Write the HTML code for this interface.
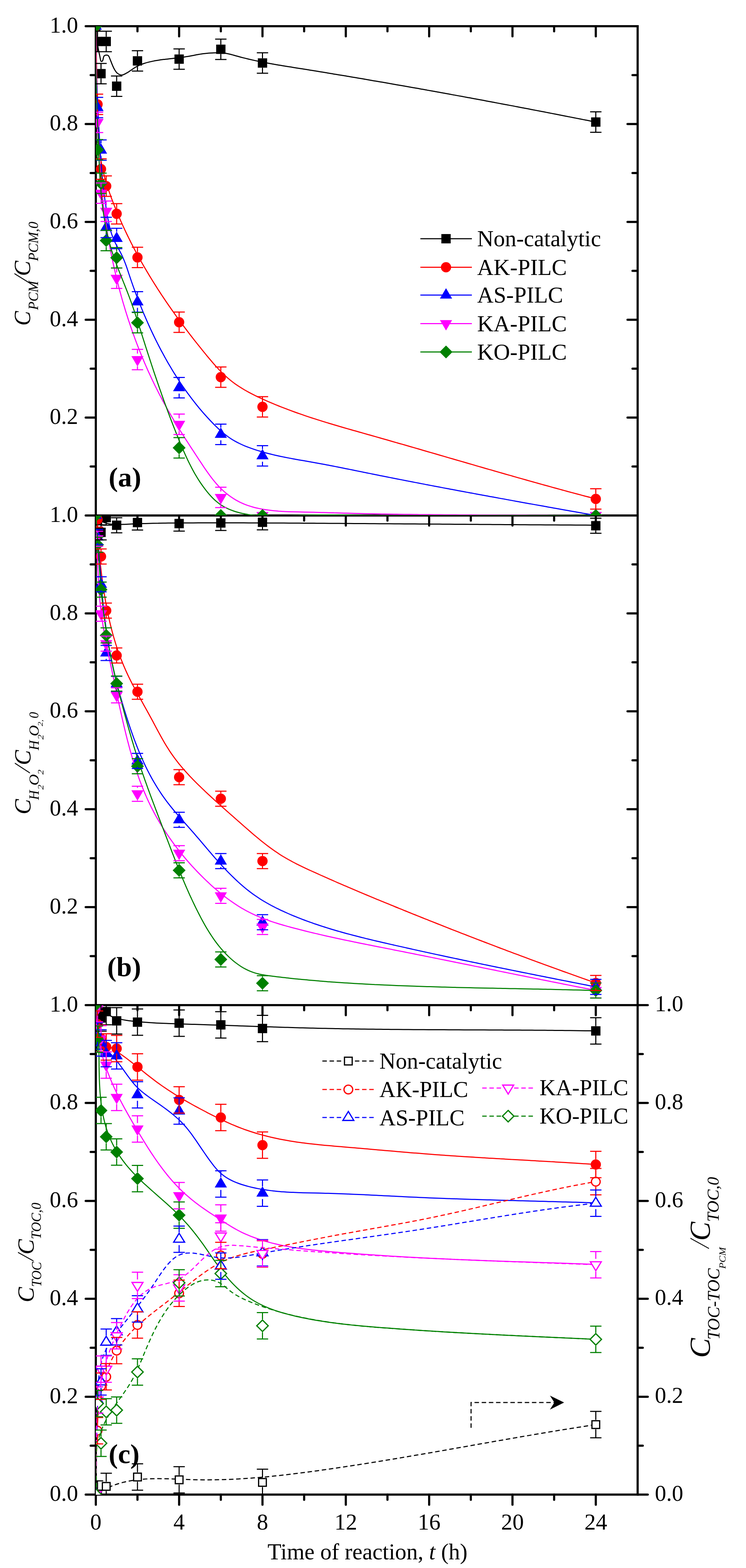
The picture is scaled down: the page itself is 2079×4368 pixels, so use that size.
<!DOCTYPE html>
<html><head><meta charset="utf-8"><title>Figure</title>
<style>html,body{margin:0;padding:0;background:#fff;}svg{display:block;}</style>
</head><body>
<svg width="2079" height="4368" viewBox="0 0 2079 4368">
<rect width="2079" height="4368" fill="#fff"/>
<defs>
<clipPath id="ca"><rect x="267" y="73" width="1510" height="1362.9"/></clipPath>
<clipPath id="cb"><rect x="267" y="1435.9" width="1510" height="1364"/></clipPath>
<clipPath id="cc"><rect x="267" y="2799.9" width="1510" height="1363.7"/></clipPath>
</defs>
<path d="M238.8 1435.9H267M1748.8 1435.9H1777M252.7 1299.6H267M1762.7 1299.6H1777M238.8 1163.3H267M1748.8 1163.3H1777M252.7 1027H267M1762.7 1027H1777M238.8 890.7H267M1748.8 890.7H1777M252.7 754.5H267M1762.7 754.5H1777M238.8 618.2H267M1748.8 618.2H1777M252.7 481.9H267M1762.7 481.9H1777M238.8 345.6H267M1748.8 345.6H1777M252.7 209.3H267M1762.7 209.3H1777M238.8 73H267M1748.8 73H1777M267 73V101.2M383.1 73V87.3M499.2 73V101.2M615.4 73V87.3M731.5 73V101.2M847.6 73V87.3M963.7 73V101.2M1079.8 73V87.3M1196 73V101.2M1312.1 73V87.3M1428.2 73V101.2M1544.3 73V87.3M1660.4 73V101.2M238.8 2799.9H267M1748.8 2799.9H1777M252.7 2663.5H267M1762.7 2663.5H1777M238.8 2527.1H267M1748.8 2527.1H1777M252.7 2390.7H267M1762.7 2390.7H1777M238.8 2254.3H267M1748.8 2254.3H1777M252.7 2117.9H267M1762.7 2117.9H1777M238.8 1981.5H267M1748.8 1981.5H1777M252.7 1845.1H267M1762.7 1845.1H1777M238.8 1708.7H267M1748.8 1708.7H1777M252.7 1572.3H267M1762.7 1572.3H1777M238.8 1435.9H267M1748.8 1435.9H1777M267 1435.9V1464.1M383.1 1435.9V1450.2M499.2 1435.9V1464.1M615.4 1435.9V1450.2M731.5 1435.9V1464.1M847.6 1435.9V1450.2M963.7 1435.9V1464.1M1079.8 1435.9V1450.2M1196 1435.9V1464.1M1312.1 1435.9V1450.2M1428.2 1435.9V1464.1M1544.3 1435.9V1450.2M1660.4 1435.9V1464.1M238.8 4163.6H267M1777 4163.6H1805.2M252.7 4027.2H267M1777 4027.2H1791.3M238.8 3890.9H267M1777 3890.9H1805.2M252.7 3754.5H267M1777 3754.5H1791.3M238.8 3618.1H267M1777 3618.1H1805.2M252.7 3481.8H267M1777 3481.8H1791.3M238.8 3345.4H267M1777 3345.4H1805.2M252.7 3209H267M1777 3209H1791.3M238.8 3072.6H267M1777 3072.6H1805.2M252.7 2936.3H267M1777 2936.3H1791.3M238.8 2799.9H267M1777 2799.9H1805.2M267 2799.9V2828.1M383.1 2799.9V2814.2M499.2 2799.9V2828.1M615.4 2799.9V2814.2M731.5 2799.9V2828.1M847.6 2799.9V2814.2M963.7 2799.9V2828.1M1079.8 2799.9V2814.2M1196 2799.9V2828.1M1312.1 2799.9V2814.2M1428.2 2799.9V2828.1M1544.3 2799.9V2814.2M1660.4 2799.9V2828.1M267 4163.6V4191.8M383.1 4163.6V4177.9M499.2 4163.6V4191.8M615.4 4163.6V4177.9M731.5 4163.6V4191.8M847.6 4163.6V4177.9M963.7 4163.6V4191.8M1079.8 4163.6V4177.9M1196 4163.6V4191.8M1312.1 4163.6V4177.9M1428.2 4163.6V4191.8M1544.3 4163.6V4177.9M1660.4 4163.6V4191.8" stroke="#000" stroke-width="6.0" fill="none" stroke-linecap="round"/>
<path d="M267 73H1777M267 1435.9H1777M267 2799.9H1777M267 4163.6H1777M267 73V4163.6M1777 73V4163.6" stroke="#000" stroke-width="6.0" fill="none" stroke-linecap="square"/>
<g clip-path="url(#ca)">
<path d="M267 73C267.1 75.3 267.4 82.4 267.8 87C268.1 91.7 268.5 96.4 269 101C269.4 105.7 270 110.3 270.6 115C271.2 119.6 271.9 124.3 272.7 128.9C273.5 133.5 274.3 138.1 275.2 142.7C276.1 147.3 277.2 151.9 278.2 156.5C279.2 161 280 168.1 281.3 170.2C282.6 172.2 284.6 171.3 286.1 168.9C287.6 166.5 287.9 158 290.4 155.6C292.9 153.2 298.4 152.7 301.3 154.6C304.2 156.5 305.7 162.9 307.6 167.1C309.5 171.4 310.9 175.9 312.8 180.2C314.6 184.5 316.4 188.9 318.8 192.9C321.1 196.9 323.7 201.4 327.2 204.1C330.6 206.8 335.4 209.1 339.7 209.1C343.9 209 348.4 205.9 352.6 203.7C356.7 201.6 360.4 198.7 364.3 196.1C368.2 193.5 372 190.6 376 188.2C380 185.8 384.1 183.6 388.4 181.6C392.7 179.7 397.1 178.1 401.5 176.7C406 175.2 410.5 174 415.1 172.9C419.6 171.8 424.2 170.8 428.8 169.9C433.4 169 438 168.3 442.7 167.6C447.3 166.8 451.9 166.2 456.6 165.6C461.2 165 465.9 164.5 470.5 164C475.2 163.5 479.9 163 484.5 162.5C489.2 161.9 493.8 161.4 498.5 160.9C503.1 160.3 507.8 159.7 512.4 159C517 158.3 521.7 157.6 526.3 156.8C530.9 156 535.5 155 540.1 154.2C544.7 153.3 549.3 152.4 553.9 151.6C558.5 150.8 563.2 150 567.8 149.5C572.4 148.9 577.1 148.4 581.8 148C586.4 147.7 591.1 147.4 595.8 147.2C600.5 147 605.2 146.8 609.9 146.9C614.5 147 619.2 147.2 623.9 147.7C628.5 148.3 633.1 149.2 637.7 150.2C642.3 151.2 646.8 152.5 651.3 153.7C655.8 155 660.3 156.3 664.8 157.5C669.4 158.8 673.9 160 678.4 161.1C683 162.3 687.5 163.4 692.1 164.5C696.6 165.5 701.2 166.6 705.8 167.6C710.3 168.6 714.9 169.6 719.5 170.6C724.1 171.5 728.7 172.4 733.3 173.3C737.9 174.2 742.5 175.1 747.1 176C751.7 176.8 756.3 177.7 760.9 178.5C765.5 179.3 770.2 180.1 774.8 180.9C779.4 181.7 784 182.4 788.6 183.2C793.3 184 797.9 184.7 802.5 185.5C807.1 186.2 811.8 186.9 816.4 187.7C821 188.4 825.6 189.2 830.3 189.9C834.9 190.6 839.5 191.4 844.1 192.1C848.8 192.9 853.4 193.6 858 194.3C862.6 195.1 867.3 195.8 871.9 196.6C876.5 197.3 881.1 198.1 885.8 198.8C890.4 199.6 895 200.3 899.6 201.1C904.3 201.9 908.9 202.6 913.5 203.4C918.1 204.1 922.7 204.9 927.4 205.7C932 206.4 936.6 207.2 941.2 208C945.9 208.7 950.5 209.5 955.1 210.3C959.7 211 964.3 211.8 969 212.6C973.6 213.4 978.2 214.1 982.8 214.9C987.4 215.7 992.1 216.5 996.7 217.3C1001.3 218 1005.9 218.8 1010.5 219.6C1015.2 220.4 1019.8 221.2 1024.4 222C1029 222.8 1033.6 223.6 1038.2 224.4C1042.9 225.1 1047.5 225.9 1052.1 226.7C1056.7 227.5 1061.3 228.3 1065.9 229.1C1070.6 229.9 1075.2 230.7 1079.8 231.5C1084.4 232.3 1089 233.1 1093.6 233.9C1098.2 234.7 1102.9 235.6 1107.5 236.4C1112.1 237.2 1116.7 238 1121.3 238.8C1125.9 239.6 1130.5 240.4 1135.2 241.2C1139.8 242 1144.4 242.9 1149 243.7C1153.6 244.5 1158.2 245.3 1162.8 246.1C1167.5 246.9 1172.1 247.8 1176.7 248.6C1181.3 249.4 1185.9 250.2 1190.5 251.1C1195.1 251.9 1199.7 252.7 1204.3 253.5C1209 254.4 1213.6 255.2 1218.2 256C1222.8 256.9 1227.4 257.7 1232 258.5C1236.6 259.4 1241.2 260.2 1245.8 261C1250.4 261.9 1255.1 262.7 1259.7 263.6C1264.3 264.4 1268.9 265.2 1273.5 266.1C1278.1 266.9 1282.7 267.8 1287.3 268.6C1291.9 269.5 1296.5 270.3 1301.1 271.2C1305.7 272 1310.3 272.9 1315 273.7C1319.6 274.6 1324.2 275.4 1328.8 276.3C1333.4 277.1 1338 278 1342.6 278.8C1347.2 279.7 1351.8 280.6 1356.4 281.4C1361 282.3 1365.6 283.1 1370.2 284C1374.8 284.9 1379.4 285.7 1384 286.6C1388.6 287.5 1393.2 288.3 1397.8 289.2C1402.5 290.1 1407.1 290.9 1411.7 291.8C1416.3 292.7 1420.9 293.5 1425.5 294.4C1430.1 295.3 1434.7 296.2 1439.3 297C1443.9 297.9 1448.5 298.8 1453.1 299.7C1457.7 300.5 1462.3 301.4 1466.9 302.3C1471.5 303.2 1476.1 304.1 1480.7 304.9C1485.3 305.8 1489.9 306.7 1494.5 307.6C1499.1 308.5 1503.7 309.4 1508.3 310.3C1512.9 311.1 1517.5 312 1522.1 312.9C1526.7 313.8 1531.3 314.7 1535.9 315.6C1540.5 316.5 1545.1 317.4 1549.7 318.3C1554.3 319.2 1558.9 320.1 1563.5 321C1568.1 321.9 1572.7 322.8 1577.3 323.7C1581.9 324.6 1586.5 325.5 1591.1 326.4C1595.7 327.3 1600.3 328.2 1604.9 329.1C1609.4 330 1614 330.9 1618.6 331.8C1623.2 332.7 1627.8 333.6 1632.4 334.5C1637 335.4 1641.6 336.3 1646.2 337.3C1650.8 338.2 1657.7 339.5 1660 340" stroke="#000000" stroke-width="3.0" fill="none"/>
<rect x="254" y="60" width="26" height="26" fill="#000000"/>
<rect x="258.8" y="102.5" width="26" height="26" fill="#000000"/>
<rect x="268.5" y="192.2" width="26" height="26" fill="#000000"/>
<rect x="283" y="102.5" width="26" height="26" fill="#000000"/>
<rect x="312.1" y="227.1" width="26" height="26" fill="#000000"/>
<rect x="370.1" y="156.6" width="26" height="26" fill="#000000"/>
<rect x="486.2" y="151.7" width="26" height="26" fill="#000000"/>
<rect x="602.4" y="124.3" width="26" height="26" fill="#000000"/>
<rect x="718.5" y="162.5" width="26" height="26" fill="#000000"/>
<rect x="1647.4" y="327" width="26" height="26" fill="#000000"/>
<path d="M266.8 73C266.8 75.3 267 82.4 267 87.1C267.1 91.8 267.2 96.5 267.3 101.2C267.4 105.8 267.5 110.5 267.6 115.2C267.7 119.9 267.8 124.6 267.9 129.3C268 134 268.1 138.7 268.2 143.4C268.2 148.1 268.3 152.8 268.5 157.5C268.6 162.2 268.7 166.8 268.8 171.5C268.9 176.2 269 180.9 269.1 185.6C269.2 190.3 269.3 195 269.4 199.7C269.5 204.4 269.6 209.1 269.7 213.8C269.8 218.5 269.9 223.2 270.1 227.8C270.2 232.5 270.3 237.2 270.4 241.9C270.5 246.6 270.6 251.3 270.7 256C270.8 260.7 271 265.4 271.1 270.1C271.2 274.8 271.3 279.5 271.4 284.2C271.5 288.8 271.7 293.5 271.8 298.2C271.9 302.9 272 307.6 272.1 312.3C272.2 317 272.3 321.7 272.5 326.4C272.6 331.1 272.7 335.8 272.8 340.5C273 345.1 273.1 349.8 273.3 354.5C273.4 359.2 273.6 363.9 273.8 368.6C274.1 373.3 274.3 378 274.6 382.7C274.8 387.3 275.1 392 275.5 396.7C275.8 401.4 276.2 406.1 276.7 410.7C277.1 415.4 277.6 420.1 278.2 424.7C278.7 429.4 279.3 434.1 280 438.7C280.7 443.3 281.4 448 282.3 452.6C283.1 457.2 284 461.8 285 466.4C285.9 471 287 475.6 288.1 480.1C289.2 484.7 290.4 489.2 291.6 493.8C292.9 498.3 294.2 502.8 295.5 507.3C296.9 511.8 298.3 516.3 299.7 520.7C301.2 525.2 302.7 529.7 304.2 534.1C305.7 538.5 307.3 542.9 308.9 547.4C310.5 551.8 312.2 556.2 313.9 560.5C315.5 564.9 317.2 569.3 319 573.7C320.7 578 322.5 582.4 324.2 586.7C326 591.1 327.8 595.4 329.7 599.7C331.5 604 333.4 608.3 335.3 612.6C337.1 616.9 339.1 621.2 341 625.5C342.9 629.8 344.9 634 346.9 638.3C348.9 642.5 350.9 646.8 352.9 651C354.9 655.2 357 659.5 359.1 663.7C361.2 667.9 363.3 672.1 365.4 676.3C367.5 680.4 369.7 684.6 371.8 688.8C374 692.9 376.2 697.1 378.4 701.2C380.6 705.4 382.9 709.5 385.1 713.6C387.4 717.7 389.6 721.8 391.9 725.9C394.2 730 396.6 734.1 398.9 738.2C401.2 742.2 403.6 746.3 406 750.3C408.3 754.4 410.7 758.4 413.2 762.4C415.6 766.5 418 770.5 420.5 774.5C422.9 778.5 425.4 782.5 427.9 786.5C430.4 790.4 432.9 794.4 435.4 798.4C437.9 802.3 440.4 806.3 443 810.2C445.6 814.1 448.1 818.1 450.7 822C453.3 825.9 455.9 829.8 458.5 833.7C461.2 837.6 463.8 841.5 466.5 845.3C469.1 849.2 471.8 853.1 474.5 856.9C477.1 860.8 479.8 864.6 482.6 868.4C485.3 872.3 488 876.1 490.7 879.9C493.5 883.7 496.2 887.5 499 891.3C501.8 895.1 504.6 898.9 507.4 902.6C510.2 906.4 513 910.1 515.8 913.9C518.6 917.6 521.5 921.4 524.3 925.1C527.1 928.8 530 932.6 532.9 936.3C535.8 940 538.6 943.7 541.5 947.4C544.4 951.1 547.3 954.8 550.3 958.4C553.2 962.1 556.1 965.8 559.1 969.4C562 973.1 565 976.7 567.9 980.4C570.9 984 573.9 987.6 576.8 991.3C579.8 994.9 582.8 998.5 585.9 1002.1C588.9 1005.7 591.9 1009.2 595 1012.8C598.1 1016.3 601.2 1019.8 604.4 1023.3C607.6 1026.7 610.8 1030.1 614.1 1033.5C617.4 1036.8 620.7 1040.2 624.1 1043.4C627.5 1046.6 631 1049.8 634.5 1052.9C638 1055.9 641.7 1059 645.4 1061.9C649 1064.8 652.8 1067.5 656.6 1070.3C660.5 1073 664.4 1075.6 668.3 1078.1C672.3 1080.6 676.3 1083.1 680.3 1085.5C684.4 1087.8 688.5 1090.1 692.6 1092.4C696.7 1094.6 700.9 1096.8 705.1 1098.9C709.3 1101 713.5 1103.1 717.7 1105.1C721.9 1107.1 726.2 1109.1 730.5 1111.1C734.7 1113 739 1114.9 743.3 1116.8C747.6 1118.7 751.9 1120.6 756.2 1122.4C760.6 1124.3 764.9 1126.1 769.2 1127.9C773.6 1129.6 777.9 1131.4 782.3 1133.1C786.7 1134.8 791 1136.5 795.4 1138.2C799.8 1139.9 804.2 1141.6 808.6 1143.2C813 1144.8 817.4 1146.4 821.8 1148C826.2 1149.6 830.7 1151.2 835.1 1152.7C839.5 1154.3 844 1155.8 848.4 1157.3C852.8 1158.8 857.3 1160.3 861.8 1161.8C866.2 1163.2 870.7 1164.7 875.1 1166.1C879.6 1167.6 884.1 1169 888.6 1170.4C893 1171.8 897.5 1173.2 902 1174.6C906.5 1176 911 1177.4 915.5 1178.7C920 1180.1 924.5 1181.4 928.9 1182.8C933.4 1184.1 937.9 1185.4 942.5 1186.8C947 1188.1 951.5 1189.4 956 1190.7C960.5 1192 965 1193.3 969.5 1194.6C974 1195.9 978.5 1197.2 983 1198.5C987.6 1199.7 992.1 1201 996.6 1202.3C1001.1 1203.6 1005.6 1204.9 1010.1 1206.1C1014.7 1207.4 1019.2 1208.7 1023.7 1210C1028.2 1211.2 1032.7 1212.5 1037.2 1213.8C1041.8 1215.1 1046.3 1216.3 1050.8 1217.6C1055.3 1218.9 1059.8 1220.2 1064.3 1221.5C1068.8 1222.7 1073.4 1224 1077.9 1225.3C1082.4 1226.6 1086.9 1227.9 1091.4 1229.2C1095.9 1230.5 1100.4 1231.8 1104.9 1233.1C1109.5 1234.4 1114 1235.7 1118.5 1236.9C1123 1238.2 1127.5 1239.5 1132 1240.8C1136.5 1242.1 1141 1243.4 1145.5 1244.7C1150 1246 1154.6 1247.3 1159.1 1248.6C1163.6 1249.9 1168.1 1251.2 1172.6 1252.5C1177.1 1253.9 1181.6 1255.2 1186.1 1256.5C1190.6 1257.8 1195.1 1259.1 1199.6 1260.4C1204.2 1261.7 1208.7 1263 1213.2 1264.3C1217.7 1265.6 1222.2 1266.9 1226.7 1268.2C1231.2 1269.5 1235.7 1270.8 1240.2 1272.1C1244.7 1273.4 1249.2 1274.8 1253.7 1276.1C1258.2 1277.4 1262.8 1278.7 1267.3 1280C1271.8 1281.3 1276.3 1282.6 1280.8 1283.9C1285.3 1285.2 1289.8 1286.5 1294.3 1287.8C1298.8 1289.1 1303.3 1290.4 1307.8 1291.7C1312.3 1293 1316.9 1294.3 1321.4 1295.6C1325.9 1297 1330.4 1298.3 1334.9 1299.6C1339.4 1300.9 1343.9 1302.2 1348.4 1303.5C1352.9 1304.8 1357.4 1306.1 1361.9 1307.4C1366.5 1308.6 1371 1309.9 1375.5 1311.2C1380 1312.5 1384.5 1313.8 1389 1315.1C1393.5 1316.4 1398 1317.7 1402.6 1319C1407.1 1320.3 1411.6 1321.6 1416.1 1322.9C1420.6 1324.1 1425.1 1325.4 1429.6 1326.7C1434.1 1328 1438.7 1329.3 1443.2 1330.6C1447.7 1331.8 1452.2 1333.1 1456.7 1334.4C1461.2 1335.7 1465.8 1336.9 1470.3 1338.2C1474.8 1339.5 1479.3 1340.7 1483.8 1342C1488.4 1343.3 1492.9 1344.5 1497.4 1345.8C1501.9 1347.1 1506.4 1348.3 1511 1349.6C1515.5 1350.8 1520 1352.1 1524.5 1353.3C1529.1 1354.6 1533.6 1355.8 1538.1 1357.1C1542.6 1358.3 1547.2 1359.6 1551.7 1360.8C1556.2 1362 1560.7 1363.3 1565.3 1364.5C1569.8 1365.7 1574.3 1367 1578.9 1368.2C1583.4 1369.4 1587.9 1370.6 1592.4 1371.9C1597 1373.1 1601.5 1374.3 1606 1375.5C1610.6 1376.7 1615.1 1377.9 1619.7 1379.1C1624.2 1380.3 1628.7 1381.6 1633.3 1382.8C1637.8 1383.9 1642.3 1385.1 1646.9 1386.3C1651.4 1387.5 1658.2 1389.3 1660.5 1389.9" stroke="#FF0000" stroke-width="3.0" fill="none"/>
<circle cx="267" cy="73" r="14.3" fill="#FF0000"/>
<circle cx="271.8" cy="290.7" r="14.3" fill="#FF0000"/>
<circle cx="281.5" cy="471" r="14.3" fill="#FF0000"/>
<circle cx="296" cy="518.5" r="14.3" fill="#FF0000"/>
<circle cx="325.1" cy="595.6" r="14.3" fill="#FF0000"/>
<circle cx="383.1" cy="717.1" r="14.3" fill="#FF0000"/>
<circle cx="499.2" cy="897.6" r="14.3" fill="#FF0000"/>
<circle cx="615.4" cy="1050.6" r="14.3" fill="#FF0000"/>
<circle cx="731.5" cy="1133.4" r="14.3" fill="#FF0000"/>
<circle cx="1660.4" cy="1389.9" r="14.3" fill="#FF0000"/>
<path d="M266.8 73C266.8 75.3 266.7 82.4 266.6 87.1C266.6 91.7 266.6 96.4 266.6 101.1C266.5 105.8 266.5 110.5 266.6 115.2C266.6 119.9 266.6 124.6 266.7 129.2C266.7 133.9 266.8 138.6 266.8 143.3C266.9 148 267 152.7 267.1 157.4C267.2 162 267.3 166.7 267.4 171.4C267.5 176.1 267.6 180.8 267.7 185.5C267.9 190.2 268 194.8 268.2 199.5C268.3 204.2 268.5 208.9 268.7 213.6C268.8 218.3 269 222.9 269.2 227.6C269.4 232.3 269.6 237 269.8 241.7C270 246.4 270.2 251 270.4 255.7C270.6 260.4 270.8 265.1 271.1 269.8C271.3 274.4 271.5 279.1 271.7 283.8C272 288.5 272.2 293.2 272.4 297.9C272.7 302.5 272.9 307.2 273.2 311.9C273.4 316.6 273.7 321.3 273.9 325.9C274.1 330.6 274.4 335.3 274.6 340C274.9 344.7 275.1 349.3 275.4 354C275.7 358.7 275.9 363.4 276.2 368.1C276.4 372.7 276.7 377.4 277 382.1C277.2 386.8 277.5 391.5 277.8 396.1C278.1 400.8 278.4 405.5 278.6 410.2C278.9 414.8 279.2 419.5 279.6 424.2C279.9 428.9 280.2 433.5 280.5 438.2C280.9 442.9 281.2 447.6 281.6 452.2C281.9 456.9 282.3 461.6 282.7 466.3C283.1 470.9 283.5 475.6 283.9 480.3C284.3 484.9 284.7 489.6 285.2 494.3C285.6 498.9 286.1 503.6 286.6 508.3C287.1 512.9 287.6 517.6 288.1 522.2C288.6 526.9 289.2 531.6 289.7 536.2C290.3 540.9 290.9 545.5 291.5 550.2C292.1 554.8 292.8 559.4 293.4 564.1C294.1 568.7 294.8 573.4 295.5 578C296.2 582.6 297 587.2 297.7 591.9C298.5 596.5 299.3 601.1 300.1 605.7C301 610.3 301.8 614.9 302.8 619.5C303.7 624.1 304.7 628.7 305.9 633.3C307 637.8 308.2 642.3 309.5 646.8C310.9 651.3 312.4 655.8 314.1 660.1C315.7 664.5 317.6 668.8 319.6 673.1C321.5 677.3 323.8 681.4 326 685.6C328.2 689.7 330.6 693.7 332.9 697.8C335.1 702 337.3 706.1 339.3 710.3C341.4 714.5 343.2 718.8 345 723.2C346.8 727.5 348.5 731.9 350.1 736.3C351.8 740.7 353.3 745.1 354.8 749.5C356.3 754 357.8 758.4 359.2 762.9C360.7 767.3 362.2 771.8 363.7 776.2C365.2 780.6 366.7 785.1 368.3 789.5C369.8 793.9 371.4 798.3 373 802.8C374.6 807.2 376.2 811.6 377.8 816C379.4 820.4 381.1 824.7 382.8 829.1C384.4 833.5 386.1 837.9 387.9 842.2C389.6 846.6 391.3 850.9 393.1 855.3C394.8 859.6 396.6 864 398.4 868.3C400.2 872.6 402 876.9 403.9 881.2C405.7 885.5 407.6 889.8 409.5 894.1C411.4 898.4 413.3 902.7 415.2 907C417.2 911.2 419.1 915.5 421.1 919.8C423.1 924 425.1 928.2 427.1 932.5C429.1 936.7 431.2 940.9 433.2 945.1C435.3 949.3 437.4 953.5 439.5 957.7C441.7 961.9 443.8 966 446 970.2C448.1 974.3 450.3 978.5 452.6 982.6C454.8 986.7 457 990.8 459.3 994.9C461.6 999 463.9 1003.1 466.2 1007.2C468.5 1011.3 470.9 1015.3 473.3 1019.3C475.7 1023.4 478.1 1027.4 480.5 1031.4C482.9 1035.4 485.4 1039.4 487.9 1043.4C490.4 1047.3 492.9 1051.3 495.5 1055.2C498 1059.1 500.6 1063.1 503.2 1067C505.8 1070.9 508.4 1074.7 511.1 1078.6C513.8 1082.4 516.5 1086.3 519.2 1090.1C521.9 1093.9 524.7 1097.7 527.5 1101.4C530.3 1105.2 533.1 1109 535.9 1112.7C538.8 1116.4 541.7 1120.1 544.6 1123.7C547.5 1127.4 550.5 1131.1 553.5 1134.7C556.4 1138.3 559.5 1141.9 562.5 1145.4C565.6 1149 568.7 1152.5 571.8 1156C574.9 1159.5 578 1163 581.2 1166.4C584.4 1169.9 587.6 1173.3 590.9 1176.6C594.1 1180 597.4 1183.4 600.8 1186.6C604.1 1189.9 607.5 1193.2 610.9 1196.3C614.4 1199.5 617.9 1202.6 621.5 1205.6C625.1 1208.6 628.8 1211.6 632.5 1214.4C636.3 1217.2 640.1 1219.9 644 1222.4C648 1224.9 652 1227.3 656.1 1229.6C660.2 1231.9 664.4 1234 668.6 1236C672.8 1238.1 677.1 1240 681.4 1241.8C685.8 1243.6 690.1 1245.3 694.5 1246.9C698.9 1248.6 703.3 1250.1 707.8 1251.6C712.2 1253.1 716.7 1254.6 721.2 1255.9C725.6 1257.3 730.1 1258.6 734.7 1259.9C739.2 1261.1 743.7 1262.3 748.2 1263.5C752.8 1264.7 757.3 1265.8 761.9 1266.9C766.5 1267.9 771 1269 775.6 1270C780.2 1271 784.8 1271.9 789.4 1272.9C794 1273.8 798.6 1274.7 803.2 1275.6C807.8 1276.5 812.4 1277.3 817 1278.2C821.6 1279 826.2 1279.8 830.8 1280.7C835.4 1281.5 840.1 1282.3 844.7 1283.1C849.3 1283.9 853.9 1284.7 858.5 1285.5C863.1 1286.3 867.8 1287.2 872.4 1288C877 1288.8 881.6 1289.6 886.2 1290.5C890.8 1291.3 895.4 1292.2 900 1293C904.6 1293.9 909.2 1294.8 913.8 1295.6C918.4 1296.5 923.1 1297.4 927.7 1298.3C932.3 1299.2 936.9 1300.1 941.5 1301C946 1301.9 950.6 1302.8 955.2 1303.7C959.8 1304.7 964.4 1305.6 969 1306.5C973.6 1307.4 978.2 1308.4 982.8 1309.3C987.4 1310.2 992 1311.2 996.6 1312.1C1001.2 1313 1005.8 1314 1010.4 1314.9C1015 1315.8 1019.6 1316.7 1024.2 1317.7C1028.7 1318.6 1033.3 1319.5 1037.9 1320.5C1042.5 1321.4 1047.1 1322.3 1051.7 1323.2C1056.3 1324.2 1060.9 1325.1 1065.5 1326C1070.1 1326.9 1074.7 1327.8 1079.3 1328.7C1083.9 1329.6 1088.5 1330.6 1093.1 1331.5C1097.7 1332.4 1102.3 1333.3 1106.9 1334.2C1111.5 1335.1 1116.1 1336 1120.7 1336.9C1125.3 1337.8 1129.9 1338.7 1134.5 1339.6C1139.1 1340.5 1143.7 1341.4 1148.3 1342.3C1152.9 1343.2 1157.5 1344 1162.1 1344.9C1166.7 1345.8 1171.3 1346.7 1175.9 1347.6C1180.5 1348.5 1185.1 1349.4 1189.7 1350.2C1194.3 1351.1 1198.9 1352 1203.5 1352.9C1208.1 1353.8 1212.7 1354.6 1217.3 1355.5C1221.9 1356.4 1226.5 1357.2 1231.1 1358.1C1235.7 1359 1240.4 1359.9 1245 1360.7C1249.6 1361.6 1254.2 1362.5 1258.8 1363.3C1263.4 1364.2 1268 1365.1 1272.6 1365.9C1277.2 1366.8 1281.8 1367.6 1286.4 1368.5C1291 1369.4 1295.6 1370.2 1300.2 1371.1C1304.9 1371.9 1309.5 1372.8 1314.1 1373.6C1318.7 1374.5 1323.3 1375.3 1327.9 1376.2C1332.5 1377 1337.1 1377.9 1341.7 1378.7C1346.3 1379.6 1350.9 1380.4 1355.5 1381.3C1360.2 1382.1 1364.8 1383 1369.4 1383.8C1374 1384.7 1378.6 1385.5 1383.2 1386.3C1387.8 1387.2 1392.4 1388 1397 1388.9C1401.7 1389.7 1406.3 1390.5 1410.9 1391.4C1415.5 1392.2 1420.1 1393 1424.7 1393.9C1429.3 1394.7 1433.9 1395.6 1438.5 1396.4C1443.2 1397.2 1447.8 1398.1 1452.4 1398.9C1457 1399.7 1461.6 1400.6 1466.2 1401.4C1470.8 1402.2 1475.4 1403 1480.1 1403.9C1484.7 1404.7 1489.3 1405.5 1493.9 1406.4C1498.5 1407.2 1503.1 1408 1507.7 1408.8C1512.4 1409.7 1517 1410.5 1521.6 1411.3C1526.2 1412.2 1530.8 1413 1535.4 1413.8C1540 1414.6 1544.6 1415.5 1549.3 1416.3C1553.9 1417.1 1558.5 1417.9 1563.1 1418.7C1567.7 1419.6 1572.3 1420.4 1576.9 1421.2C1581.6 1422 1586.2 1422.9 1590.8 1423.7C1595.4 1424.5 1600 1425.3 1604.6 1426.1C1609.2 1427 1613.9 1427.8 1618.5 1428.6C1623.1 1429.4 1627.7 1430.3 1632.3 1431.1C1636.9 1431.9 1641.5 1432.7 1646.2 1433.5C1650.8 1434.4 1657.7 1435.6 1660 1436" stroke="#0000FF" stroke-width="3.0" fill="none"/>
<polygon points="267,53.7 284,82.7 250,82.7" fill="#0000FF"/>
<polygon points="271.8,280.4 288.8,309.4 254.8,309.4" fill="#0000FF"/>
<polygon points="281.5,398.9 298.5,427.9 264.5,427.9" fill="#0000FF"/>
<polygon points="296,614.4 313,643.4 279,643.4" fill="#0000FF"/>
<polygon points="325.1,645 342.1,674 308.1,674" fill="#0000FF"/>
<polygon points="383.1,821.7 400.1,850.7 366.1,850.7" fill="#0000FF"/>
<polygon points="499.2,1060.7 516.2,1089.7 482.2,1089.7" fill="#0000FF"/>
<polygon points="615.4,1190.7 632.4,1219.7 598.4,1219.7" fill="#0000FF"/>
<polygon points="731.5,1250.5 748.5,1279.5 714.5,1279.5" fill="#0000FF"/>
<polygon points="1660.4,1416.7 1677.4,1445.7 1643.4,1445.7" fill="#0000FF"/>
<path d="M266.8 73C266.8 75.3 266.9 82.4 266.9 87C267 91.7 267 96.4 267.1 101.1C267.1 105.7 267.1 110.4 267.2 115.1C267.2 119.7 267.3 124.4 267.3 129.1C267.3 133.8 267.4 138.4 267.4 143.1C267.5 147.8 267.5 152.5 267.6 157.1C267.6 161.8 267.6 166.5 267.7 171.2C267.7 175.8 267.8 180.5 267.9 185.2C267.9 189.9 268 194.5 268 199.2C268.1 203.9 268.1 208.6 268.2 213.2C268.3 217.9 268.3 222.6 268.4 227.3C268.5 231.9 268.6 236.6 268.7 241.3C268.7 246 268.8 250.6 268.9 255.3C269 260 269.1 264.7 269.2 269.3C269.3 274 269.4 278.7 269.5 283.4C269.6 288 269.8 292.7 269.9 297.4C270 302.1 270.1 306.7 270.3 311.4C270.4 316.1 270.6 320.7 270.7 325.4C270.9 330.1 271 334.8 271.2 339.4C271.4 344.1 271.5 348.8 271.7 353.5C271.9 358.1 272.1 362.8 272.3 367.5C272.5 372.1 272.7 376.8 272.9 381.5C273.1 386.1 273.4 390.8 273.6 395.5C273.9 400.2 274.1 404.8 274.4 409.5C274.6 414.2 274.9 418.8 275.2 423.5C275.4 428.2 275.7 432.8 276 437.5C276.3 442.2 276.7 446.8 277 451.5C277.3 456.1 277.6 460.8 278 465.5C278.3 470.1 278.7 474.8 279.1 479.5C279.5 484.1 279.8 488.8 280.2 493.4C280.6 498.1 281.1 502.7 281.5 507.4C281.9 512.1 282.3 516.7 282.8 521.4C283.3 526 283.7 530.7 284.2 535.3C284.7 540 285.2 544.6 285.7 549.3C286.2 553.9 286.8 558.6 287.3 563.2C287.8 567.8 288.4 572.5 289 577.1C289.6 581.8 290.1 586.4 290.8 591C291.4 595.7 292 600.3 292.6 604.9C293.3 609.6 293.9 614.2 294.6 618.8C295.3 623.4 296 628.1 296.7 632.7C297.4 637.3 298.1 641.9 298.9 646.5C299.6 651.2 300.4 655.8 301.2 660.4C302 665 302.8 669.6 303.6 674.2C304.4 678.8 305.3 683.4 306.2 688C307 692.6 307.9 697.2 308.8 701.8C309.7 706.3 310.6 710.9 311.6 715.5C312.5 720.1 313.5 724.7 314.4 729.2C315.4 733.8 316.4 738.4 317.4 742.9C318.4 747.5 319.5 752.1 320.5 756.6C321.6 761.2 322.7 765.7 323.7 770.3C324.8 774.8 326 779.4 327.1 783.9C328.2 788.4 329.4 793 330.5 797.5C331.7 802 332.9 806.5 334.1 811C335.3 815.6 336.6 820.1 337.8 824.6C339.1 829.1 340.3 833.6 341.6 838.1C342.9 842.6 344.2 847.1 345.6 851.5C346.9 856 348.3 860.5 349.6 865C351 869.4 352.4 873.9 353.8 878.3C355.2 882.8 356.7 887.2 358.1 891.7C359.6 896.1 361.1 900.6 362.6 905C364.1 909.4 365.6 913.8 367.1 918.3C368.7 922.7 370.2 927.1 371.8 931.5C373.4 935.9 375 940.3 376.6 944.7C378.2 949 379.9 953.4 381.5 957.8C383.2 962.2 384.9 966.5 386.6 970.9C388.3 975.2 390 979.6 391.8 983.9C393.5 988.2 395.3 992.6 397.1 996.9C398.9 1001.2 400.7 1005.5 402.5 1009.8C404.4 1014.1 406.2 1018.4 408.1 1022.7C410 1027 411.9 1031.2 413.8 1035.5C415.8 1039.7 417.7 1044 419.7 1048.2C421.6 1052.5 423.6 1056.7 425.6 1060.9C427.7 1065.1 429.7 1069.4 431.7 1073.6C433.8 1077.8 435.9 1081.9 438 1086.1C440.1 1090.3 442.2 1094.5 444.3 1098.6C446.5 1102.8 448.7 1106.9 450.9 1111C453 1115.2 455.3 1119.3 457.5 1123.4C459.7 1127.5 462 1131.6 464.3 1135.7C466.5 1139.8 468.8 1143.8 471.2 1147.9C473.5 1151.9 475.8 1156 478.2 1160C480.6 1164 483 1168.1 485.4 1172.1C487.8 1176.1 490.2 1180.1 492.6 1184.1C495.1 1188.1 497.5 1192 500 1196C502.5 1200 505 1203.9 507.5 1207.9C510 1211.8 512.5 1215.8 515 1219.7C517.5 1223.7 520 1227.6 522.6 1231.5C525.1 1235.4 527.6 1239.4 530.2 1243.3C532.7 1247.2 535.3 1251.1 537.9 1255C540.4 1258.9 543 1262.9 545.5 1266.8C548.1 1270.7 550.7 1274.6 553.2 1278.5C555.8 1282.4 558.4 1286.3 561 1290.2C563.5 1294.1 566.1 1298 568.7 1301.9C571.4 1305.7 574 1309.6 576.7 1313.4C579.4 1317.2 582.1 1321 584.9 1324.8C587.7 1328.5 590.5 1332.3 593.4 1335.9C596.4 1339.6 599.3 1343.2 602.4 1346.7C605.5 1350.2 608.6 1353.7 611.9 1357.1C615.1 1360.4 618.5 1363.7 621.9 1366.8C625.4 1370 628.9 1373 632.6 1376C636.2 1378.9 640 1381.7 643.8 1384.3C647.7 1387 651.6 1389.5 655.6 1391.9C659.6 1394.3 663.8 1396.5 667.9 1398.6C672.1 1400.6 676.4 1402.6 680.7 1404.3C685.1 1406.1 689.5 1407.7 693.9 1409.1C698.3 1410.6 702.8 1411.9 707.3 1413.2C711.9 1414.4 716.4 1415.4 721 1416.4C725.6 1417.4 730.2 1418.3 734.8 1419C739.4 1419.8 744 1420.5 748.6 1421.1C753.3 1421.7 757.9 1422.2 762.6 1422.7C767.2 1423.1 771.9 1423.5 776.5 1423.9C781.2 1424.2 785.9 1424.5 790.5 1424.7C795.2 1425 799.9 1425.2 804.6 1425.4C809.2 1425.5 813.9 1425.7 818.6 1425.8C823.2 1425.9 827.9 1426 832.6 1426.1C837.3 1426.2 841.9 1426.3 846.6 1426.4C851.3 1426.5 856 1426.6 860.6 1426.7C865.3 1426.8 870 1426.9 874.7 1427C879.3 1427.2 884 1427.3 888.7 1427.4C893.4 1427.5 898 1427.6 902.7 1427.8C907.4 1427.9 912 1428 916.7 1428.2C921.4 1428.3 926.1 1428.4 930.7 1428.6C935.4 1428.7 940.1 1428.8 944.8 1429C949.4 1429.1 954.1 1429.2 958.8 1429.4C963.5 1429.5 968.1 1429.7 972.8 1429.8C977.5 1429.9 982.1 1430 986.8 1430.2C991.5 1430.3 996.2 1430.4 1000.8 1430.5C1005.5 1430.6 1010.2 1430.8 1014.9 1430.9C1019.5 1431 1024.2 1431.1 1028.9 1431.2C1033.6 1431.3 1038.2 1431.4 1042.9 1431.5C1047.6 1431.6 1052.3 1431.7 1056.9 1431.8C1061.6 1431.9 1066.3 1431.9 1071 1432C1075.6 1432.1 1080.3 1432.2 1085 1432.3C1089.6 1432.3 1094.3 1432.4 1099 1432.5C1103.7 1432.6 1108.3 1432.6 1113 1432.7C1117.7 1432.8 1122.4 1432.8 1127 1432.9C1131.7 1432.9 1136.4 1433 1141.1 1433.1C1145.7 1433.1 1150.4 1433.2 1155.1 1433.2C1159.8 1433.3 1164.4 1433.3 1169.1 1433.4C1173.8 1433.4 1178.5 1433.5 1183.1 1433.5C1187.8 1433.6 1192.5 1433.6 1197.2 1433.6C1201.8 1433.7 1206.5 1433.7 1211.2 1433.7C1215.9 1433.8 1220.5 1433.8 1225.2 1433.8C1229.9 1433.9 1234.6 1433.9 1239.2 1433.9C1243.9 1434 1248.6 1434 1253.3 1434C1257.9 1434 1262.6 1434.1 1267.3 1434.1C1272 1434.1 1276.6 1434.1 1281.3 1434.2C1286 1434.2 1290.7 1434.2 1295.3 1434.2C1300 1434.2 1304.7 1434.2 1309.4 1434.3C1314 1434.3 1318.7 1434.3 1323.4 1434.3C1328.1 1434.3 1332.7 1434.3 1337.4 1434.4C1342.1 1434.4 1346.8 1434.4 1351.4 1434.4C1356.1 1434.4 1360.8 1434.4 1365.5 1434.4C1370.1 1434.4 1374.8 1434.4 1379.5 1434.5C1384.2 1434.5 1388.8 1434.5 1393.5 1434.5C1398.2 1434.5 1402.9 1434.5 1407.5 1434.5C1412.2 1434.5 1416.9 1434.5 1421.6 1434.5C1426.2 1434.6 1430.9 1434.6 1435.6 1434.6C1440.3 1434.6 1444.9 1434.6 1449.6 1434.6C1454.3 1434.6 1459 1434.6 1463.6 1434.6C1468.3 1434.7 1473 1434.7 1477.7 1434.7C1482.3 1434.7 1487 1434.7 1491.7 1434.7C1496.4 1434.7 1501 1434.7 1505.7 1434.8C1510.4 1434.8 1515.1 1434.8 1519.7 1434.8C1524.4 1434.8 1529.1 1434.8 1533.8 1434.9C1538.4 1434.9 1543.1 1434.9 1547.8 1434.9C1552.5 1434.9 1557.1 1435 1561.8 1435C1566.5 1435 1571.2 1435 1575.8 1435.1C1580.5 1435.1 1585.2 1435.1 1589.9 1435.1C1594.5 1435.2 1599.2 1435.2 1603.9 1435.2C1608.6 1435.3 1613.2 1435.3 1617.9 1435.3C1622.6 1435.4 1627.3 1435.4 1631.9 1435.4C1636.6 1435.5 1641.3 1435.5 1646 1435.6C1650.6 1435.6 1657.7 1435.7 1660 1435.7" stroke="#FF00FF" stroke-width="3.0" fill="none"/>
<polygon points="250,63.3 284,63.3 267,92.3" fill="#FF00FF"/>
<polygon points="254.8,331.2 288.8,331.2 271.8,360.2" fill="#FF00FF"/>
<polygon points="264.5,528.4 298.5,528.4 281.5,557.4" fill="#FF00FF"/>
<polygon points="279,578.8 313,578.8 296,607.8" fill="#FF00FF"/>
<polygon points="308.1,765.5 342.1,765.5 325.1,794.5" fill="#FF00FF"/>
<polygon points="366.1,991.9 400.1,991.9 383.1,1020.9" fill="#FF00FF"/>
<polygon points="482.2,1172.3 516.2,1172.3 499.2,1201.3" fill="#FF00FF"/>
<polygon points="598.4,1376 632.4,1376 615.4,1405" fill="#FF00FF"/>
<polygon points="714.5,1426.3 748.5,1426.3 731.5,1455.3" fill="#FF00FF"/>
<polygon points="1643.4,1426.3 1677.4,1426.3 1660.4,1455.3" fill="#FF00FF"/>
<path d="M266.8 73C266.8 75.3 266.6 82.4 266.6 87C266.5 91.7 266.5 96.4 266.4 101.1C266.4 105.7 266.4 110.4 266.3 115.1C266.3 119.8 266.3 124.5 266.3 129.1C266.3 133.8 266.4 138.5 266.4 143.2C266.4 147.9 266.5 152.5 266.5 157.2C266.6 161.9 266.6 166.6 266.7 171.3C266.7 175.9 266.8 180.6 266.9 185.3C267 190 267.1 194.6 267.2 199.3C267.3 204 267.4 208.7 267.5 213.4C267.6 218 267.7 222.7 267.9 227.4C268 232.1 268.1 236.7 268.3 241.4C268.4 246.1 268.6 250.8 268.7 255.4C268.9 260.1 269 264.8 269.2 269.5C269.3 274.2 269.5 278.8 269.7 283.5C269.8 288.2 270 292.9 270.2 297.5C270.4 302.2 270.5 306.9 270.7 311.6C270.9 316.2 271.1 320.9 271.3 325.6C271.4 330.3 271.6 334.9 271.8 339.6C272 344.3 272.2 349 272.4 353.6C272.6 358.3 272.7 363 272.9 367.7C273.1 372.3 273.3 377 273.5 381.7C273.7 386.4 273.8 391 274 395.7C274.2 400.4 274.4 405.1 274.6 409.7C274.7 414.4 274.9 419.1 275.1 423.8C275.3 428.4 275.5 433.1 275.7 437.8C275.9 442.5 276.1 447.1 276.3 451.8C276.5 456.5 276.7 461.2 276.9 465.8C277.2 470.5 277.4 475.2 277.7 479.9C277.9 484.5 278.2 489.2 278.5 493.9C278.8 498.5 279.1 503.2 279.4 507.9C279.8 512.5 280.1 517.2 280.5 521.9C280.8 526.5 281.2 531.2 281.6 535.9C282.1 540.5 282.5 545.2 283 549.8C283.4 554.5 283.9 559.1 284.5 563.8C285 568.4 285.6 573.1 286.1 577.7C286.7 582.4 287.4 587 288 591.6C288.7 596.3 289.4 600.9 290.1 605.5C290.9 610.1 291.6 614.7 292.5 619.4C293.3 624 294.1 628.6 295 633.1C296 637.7 296.9 642.3 297.9 646.9C298.9 651.5 299.9 656 301 660.6C302.1 665.1 303.3 669.7 304.5 674.2C305.7 678.7 306.9 683.2 308.2 687.7C309.5 692.2 310.9 696.7 312.3 701.1C313.7 705.6 315.2 710 316.7 714.5C318.2 718.9 319.8 723.3 321.4 727.7C323 732.1 324.6 736.5 326.3 740.9C327.9 745.2 329.6 749.6 331.3 753.9C333 758.3 334.8 762.6 336.5 767C338.2 771.3 340 775.7 341.7 780C343.5 784.4 345.2 788.7 347 793.1C348.7 797.4 350.4 801.7 352.1 806.1C353.8 810.5 355.5 814.8 357.2 819.2C358.9 823.6 360.5 827.9 362.1 832.3C363.8 836.7 365.3 841.1 366.9 845.5C368.5 849.9 370 854.4 371.5 858.8C373.1 863.2 374.5 867.6 376 872.1C377.5 876.5 379 881 380.4 885.4C381.9 889.9 383.3 894.3 384.8 898.8C386.2 903.2 387.6 907.7 389 912.1C390.5 916.6 391.9 921.1 393.3 925.5C394.7 930 396.1 934.4 397.5 938.9C398.9 943.4 400.3 947.8 401.8 952.3C403.2 956.7 404.6 961.2 406 965.6C407.5 970.1 408.9 974.6 410.3 979C411.8 983.5 413.2 987.9 414.7 992.4C416.1 996.8 417.6 1001.3 419 1005.7C420.5 1010.1 421.9 1014.6 423.4 1019C424.9 1023.5 426.3 1027.9 427.8 1032.4C429.3 1036.8 430.8 1041.2 432.3 1045.7C433.8 1050.1 435.3 1054.5 436.8 1059C438.3 1063.4 439.8 1067.8 441.4 1072.2C442.9 1076.7 444.4 1081.1 446 1085.5C447.5 1089.9 449.1 1094.3 450.6 1098.7C452.2 1103.1 453.7 1107.6 455.3 1112C456.9 1116.4 458.5 1120.8 460.1 1125.2C461.7 1129.6 463.3 1134 464.9 1138.3C466.5 1142.7 468.2 1147.1 469.8 1151.5C471.4 1155.9 473.1 1160.3 474.7 1164.6C476.4 1169 478.1 1173.4 479.8 1177.8C481.4 1182.1 483.1 1186.5 484.8 1190.8C486.6 1195.2 488.3 1199.5 490 1203.9C491.7 1208.2 493.5 1212.6 495.2 1216.9C497 1221.2 498.8 1225.6 500.6 1229.9C502.3 1234.2 504.1 1238.5 506 1242.9C507.8 1247.2 509.6 1251.5 511.5 1255.8C513.4 1260 515.3 1264.3 517.2 1268.6C519.1 1272.8 521.1 1277.1 523.1 1281.3C525.1 1285.5 527.2 1289.7 529.3 1293.9C531.4 1298.1 533.5 1302.3 535.8 1306.4C538 1310.5 540.2 1314.6 542.5 1318.7C544.9 1322.7 547.2 1326.8 549.7 1330.7C552.1 1334.7 554.7 1338.7 557.2 1342.6C559.8 1346.5 562.5 1350.3 565.2 1354.1C568 1357.9 570.8 1361.7 573.6 1365.3C576.5 1369 579.5 1372.7 582.5 1376.2C585.6 1379.7 588.7 1383.2 592 1386.6C595.3 1389.9 598.7 1393.1 602.2 1396.2C605.8 1399.2 609.4 1402.2 613.3 1404.8C617.1 1407.5 621.1 1410 625.2 1412.3C629.3 1414.5 633.5 1416.6 637.8 1418.4C642.1 1420.3 646.5 1421.9 650.9 1423.5C655.3 1425 659.8 1426.3 664.3 1427.5C668.8 1428.8 673.4 1429.8 677.9 1430.8C682.5 1431.8 687.1 1432.6 691.8 1433.4C696.4 1434.1 701 1434.7 705.7 1435.2C710.3 1435.8 715 1436.2 719.6 1436.6C724.3 1436.9 729 1437.2 733.6 1437.4C738.3 1437.6 743 1437.7 747.7 1437.8C752.4 1437.9 757 1437.9 761.7 1437.9C766.4 1437.9 771.1 1437.8 775.7 1437.7C780.4 1437.6 785.1 1437.5 789.8 1437.3C794.5 1437.2 799.1 1437 803.8 1436.8C808.5 1436.7 813.2 1436.5 817.8 1436.3C822.5 1436.1 827.2 1435.9 831.9 1435.8C836.5 1435.6 841.2 1435.4 845.9 1435.3C850.6 1435.2 855.2 1435.1 859.9 1435C864.6 1434.9 869.3 1434.8 874 1434.8C878.6 1434.7 883.3 1434.6 888 1434.6C892.7 1434.6 897.3 1434.6 902 1434.6C906.7 1434.5 911.4 1434.5 916.1 1434.6C920.7 1434.6 925.4 1434.6 930.1 1434.6C934.8 1434.6 939.5 1434.7 944.1 1434.7C948.8 1434.8 953.5 1434.8 958.2 1434.8C962.9 1434.9 967.5 1434.9 972.2 1435C976.9 1435 981.6 1435.1 986.2 1435.2C990.9 1435.2 995.6 1435.3 1000.3 1435.3C1005 1435.3 1009.6 1435.4 1014.3 1435.4C1019 1435.5 1023.7 1435.5 1028.4 1435.6C1033 1435.6 1037.7 1435.6 1042.4 1435.7C1047.1 1435.7 1051.7 1435.7 1056.4 1435.8C1061.1 1435.8 1065.8 1435.8 1070.5 1435.8C1075.1 1435.9 1079.8 1435.9 1084.5 1435.9C1089.2 1435.9 1093.9 1435.9 1098.5 1436C1103.2 1436 1107.9 1436 1112.6 1436C1117.3 1436 1121.9 1436 1126.6 1436C1131.3 1436.1 1136 1436.1 1140.6 1436.1C1145.3 1436.1 1150 1436.1 1154.7 1436.1C1159.4 1436.1 1164 1436.1 1168.7 1436.1C1173.4 1436.1 1178.1 1436.1 1182.8 1436.1C1187.4 1436.1 1192.1 1436.1 1196.8 1436.1C1201.5 1436.1 1206.1 1436.1 1210.8 1436.1C1215.5 1436.1 1220.2 1436.1 1224.9 1436.1C1229.5 1436.1 1234.2 1436.1 1238.9 1436.1C1243.6 1436.1 1248.3 1436 1252.9 1436C1257.6 1436 1262.3 1436 1267 1436C1271.7 1436 1276.3 1436 1281 1436C1285.7 1436 1290.4 1435.9 1295 1435.9C1299.7 1435.9 1304.4 1435.9 1309.1 1435.9C1313.8 1435.9 1318.4 1435.9 1323.1 1435.9C1327.8 1435.8 1332.5 1435.8 1337.2 1435.8C1341.8 1435.8 1346.5 1435.8 1351.2 1435.8C1355.9 1435.8 1360.6 1435.7 1365.2 1435.7C1369.9 1435.7 1374.6 1435.7 1379.3 1435.7C1383.9 1435.7 1388.6 1435.6 1393.3 1435.6C1398 1435.6 1402.7 1435.6 1407.3 1435.6C1412 1435.6 1416.7 1435.6 1421.4 1435.6C1426.1 1435.5 1430.7 1435.5 1435.4 1435.5C1440.1 1435.5 1444.8 1435.5 1449.5 1435.5C1454.1 1435.5 1458.8 1435.5 1463.5 1435.4C1468.2 1435.4 1472.8 1435.4 1477.5 1435.4C1482.2 1435.4 1486.9 1435.4 1491.6 1435.4C1496.2 1435.4 1500.9 1435.4 1505.6 1435.4C1510.3 1435.4 1515 1435.4 1519.6 1435.4C1524.3 1435.4 1529 1435.4 1533.7 1435.4C1538.3 1435.4 1543 1435.4 1547.7 1435.4C1552.4 1435.4 1557.1 1435.4 1561.7 1435.4C1566.4 1435.4 1571.1 1435.4 1575.8 1435.4C1580.5 1435.4 1585.1 1435.4 1589.8 1435.4C1594.5 1435.4 1599.2 1435.4 1603.9 1435.5C1608.5 1435.5 1613.2 1435.5 1617.9 1435.5C1622.6 1435.5 1627.2 1435.5 1631.9 1435.6C1636.6 1435.6 1641.3 1435.6 1646 1435.6C1650.6 1435.6 1657.7 1435.7 1660 1435.7" stroke="#008000" stroke-width="3.0" fill="none"/>
<polygon points="267,55 285,73 267,91 249,73" fill="#008000"/>
<polygon points="271.8,399.2 289.8,417.2 271.8,435.2 253.8,417.2" fill="#008000"/>
<polygon points="281.5,492.7 299.5,510.7 281.5,528.7 263.5,510.7" fill="#008000"/>
<polygon points="296,652 314,670 296,688 278,670" fill="#008000"/>
<polygon points="325.1,700.1 343.1,718.1 325.1,736.1 307.1,718.1" fill="#008000"/>
<polygon points="383.1,880.9 401.1,898.9 383.1,916.9 365.1,898.9" fill="#008000"/>
<polygon points="499.2,1229.5 517.2,1247.5 499.2,1265.5 481.2,1247.5" fill="#008000"/>
<polygon points="615.4,1418 633.4,1436 615.4,1454 597.4,1436" fill="#008000"/>
<polygon points="731.5,1418 749.5,1436 731.5,1454 713.5,1436" fill="#008000"/>
<polygon points="1660.4,1418 1678.4,1436 1660.4,1454 1642.4,1436" fill="#008000"/>
<path d="M271.8 87.1V102.5M271.8 128.5V143.9M256 87.1H287.6M256 143.9H287.6M281.5 176.8V192.2M281.5 218.2V233.6M265.7 176.8H297.3M265.7 233.6H297.3M296 87.1V102.5M296 128.5V143.9M280.2 87.1H311.8M280.2 143.9H311.8M325.1 211.7V227.1M325.1 253.1V268.5M309.3 211.7H340.9M309.3 268.5H340.9M383.1 141.2V156.6M383.1 182.6V198M367.3 141.2H398.9M367.3 198H398.9M499.2 136.3V151.7M499.2 177.7V193.1M483.4 136.3H515M483.4 193.1H515M615.4 108.9V124.3M615.4 150.3V165.7M599.6 108.9H631.2M599.6 165.7H631.2M731.5 147.1V162.5M731.5 188.5V203.9M715.7 147.1H747.3M715.7 203.9H747.3M1660.4 311.6V327M1660.4 353V368.4M1644.6 311.6H1676.2M1644.6 368.4H1676.2" stroke="#000000" stroke-width="3.0" fill="none"/>
<path d="M271.8 262.3V276.4M271.8 305V319.1M256 262.3H287.6M256 319.1H287.6M281.5 442.6V456.7M281.5 485.3V499.4M265.7 442.6H297.3M265.7 499.4H297.3M296 490.1V504.2M296 532.8V546.9M280.2 490.1H311.8M280.2 546.9H311.8M325.1 567.2V581.3M325.1 609.9V624M309.3 567.2H340.9M309.3 624H340.9M383.1 688.7V702.8M383.1 731.4V745.5M367.3 688.7H398.9M367.3 745.5H398.9M499.2 869.2V883.3M499.2 911.9V926M483.4 869.2H515M483.4 926H515M615.4 1022.2V1036.3M615.4 1064.9V1079M599.6 1022.2H631.2M599.6 1079H631.2M731.5 1105V1119.1M731.5 1147.7V1161.8M715.7 1105H747.3M715.7 1161.8H747.3M1660.4 1361.5V1375.6M1660.4 1404.2V1418.3M1644.6 1361.5H1676.2M1644.6 1418.3H1676.2" stroke="#FF0000" stroke-width="3.0" fill="none"/>
<path d="M271.8 271.3V280.7M271.8 316.2V328.1M256 271.3H287.6M256 328.1H287.6M281.5 389.8V399.2M281.5 434.7V446.6M265.7 389.8H297.3M265.7 446.6H297.3M296 605.3V614.7M296 650.2V662.1M280.2 605.3H311.8M280.2 662.1H311.8M325.1 635.9V645.3M325.1 680.8V692.7M309.3 635.9H340.9M309.3 692.7H340.9M383.1 812.6V822M383.1 857.5V869.4M367.3 812.6H398.9M367.3 869.4H398.9M499.2 1051.6V1061M499.2 1096.5V1108.4M483.4 1051.6H515M483.4 1108.4H515M615.4 1181.6V1191M615.4 1226.5V1238.4M599.6 1181.6H631.2M599.6 1238.4H631.2M731.5 1241.4V1250.8M731.5 1286.3V1298.2M715.7 1241.4H747.3M715.7 1298.2H747.3" stroke="#0000FF" stroke-width="3.0" fill="none"/>
<path d="M271.8 312.5V324.4M271.8 359.9V369.3M256 312.5H287.6M256 369.3H287.6M281.5 509.7V521.6M281.5 557.1V566.5M265.7 509.7H297.3M265.7 566.5H297.3M296 560.1V572M296 607.5V616.9M280.2 560.1H311.8M280.2 616.9H311.8M325.1 746.8V758.7M325.1 794.2V803.6M309.3 746.8H340.9M309.3 803.6H340.9M383.1 973.2V985.1M383.1 1020.6V1030M367.3 973.2H398.9M367.3 1030H398.9M499.2 1153.6V1165.5M499.2 1201V1210.4M483.4 1153.6H515M483.4 1210.4H515M615.4 1357.3V1369.2M615.4 1404.7V1414.1M599.6 1357.3H631.2M599.6 1414.1H631.2" stroke="#FF00FF" stroke-width="3.0" fill="none"/>
<path d="M271.8 388.8V399.2M271.8 435.2V445.6M256 388.8H287.6M256 445.6H287.6M281.5 482.3V492.7M281.5 528.7V539.1M265.7 482.3H297.3M265.7 539.1H297.3M296 641.6V652M296 688V698.4M280.2 641.6H311.8M280.2 698.4H311.8M325.1 689.7V700.1M325.1 736.1V746.5M309.3 689.7H340.9M309.3 746.5H340.9M383.1 870.5V880.9M383.1 916.9V927.3M367.3 870.5H398.9M367.3 927.3H398.9M499.2 1219.1V1229.5M499.2 1265.5V1275.9M483.4 1219.1H515M483.4 1275.9H515" stroke="#008000" stroke-width="3.0" fill="none"/>
</g>
<g clip-path="url(#cb)">
<path d="M267 1435.9C268.5 1437.7 272.5 1443.6 275.9 1446.7C279.3 1449.8 283.4 1452.4 287.5 1454.4C291.7 1456.4 296.3 1457.7 300.8 1458.8C305.3 1459.9 310 1460.4 314.7 1460.8C319.3 1461.2 324 1461.2 328.7 1461.2C333.3 1461.2 338 1461 342.7 1460.8C347.3 1460.7 352 1460.4 356.7 1460.2C361.3 1460 366 1459.8 370.7 1459.6C375.3 1459.4 380 1459.2 384.7 1459C389.4 1458.9 394 1458.7 398.7 1458.6C403.4 1458.4 408 1458.3 412.7 1458.2C417.4 1458.1 422 1457.9 426.7 1457.8C431.4 1457.7 436.1 1457.6 440.7 1457.6C445.4 1457.5 450.1 1457.4 454.7 1457.3C459.4 1457.3 464.1 1457.2 468.8 1457.1C473.4 1457.1 478.1 1457 482.8 1457C487.4 1456.9 492.1 1456.9 496.8 1456.9C501.5 1456.8 506.1 1456.8 510.8 1456.8C515.5 1456.8 520.1 1456.7 524.8 1456.7C529.5 1456.7 534.2 1456.7 538.8 1456.7C543.5 1456.6 548.2 1456.6 552.8 1456.6C557.5 1456.6 562.2 1456.6 566.9 1456.6C571.5 1456.6 576.2 1456.6 580.9 1456.6C585.5 1456.6 590.2 1456.6 594.9 1456.5C599.6 1456.5 604.2 1456.5 608.9 1456.5C613.6 1456.5 618.2 1456.5 622.9 1456.5C627.6 1456.5 632.3 1456.6 636.9 1456.6C641.6 1456.6 646.3 1456.6 650.9 1456.6C655.6 1456.6 660.3 1456.6 665 1456.6C669.6 1456.6 674.3 1456.6 679 1456.6C683.6 1456.6 688.3 1456.7 693 1456.7C697.7 1456.7 702.3 1456.7 707 1456.7C711.7 1456.7 716.3 1456.7 721 1456.8C725.7 1456.8 730.4 1456.8 735 1456.8C739.7 1456.8 744.4 1456.9 749 1456.9C753.7 1456.9 758.4 1456.9 763.1 1456.9C767.7 1457 772.4 1457 777.1 1457C781.7 1457 786.4 1457.1 791.1 1457.1C795.8 1457.1 800.4 1457.1 805.1 1457.2C809.8 1457.2 814.4 1457.2 819.1 1457.2C823.8 1457.3 828.5 1457.3 833.1 1457.3C837.8 1457.4 842.5 1457.4 847.2 1457.4C851.8 1457.4 856.5 1457.5 861.2 1457.5C865.8 1457.5 870.5 1457.6 875.2 1457.6C879.9 1457.6 884.5 1457.7 889.2 1457.7C893.9 1457.7 898.5 1457.8 903.2 1457.8C907.9 1457.8 912.6 1457.9 917.2 1457.9C921.9 1457.9 926.6 1457.9 931.2 1458C935.9 1458 940.6 1458 945.3 1458.1C949.9 1458.1 954.6 1458.1 959.3 1458.2C963.9 1458.2 968.6 1458.2 973.3 1458.3C978 1458.3 982.6 1458.3 987.3 1458.4C992 1458.4 996.6 1458.4 1001.3 1458.5C1006 1458.5 1010.7 1458.5 1015.3 1458.6C1020 1458.6 1024.7 1458.6 1029.3 1458.7C1034 1458.7 1038.7 1458.7 1043.4 1458.8C1048 1458.8 1052.7 1458.8 1057.4 1458.9C1062 1458.9 1066.7 1458.9 1071.4 1459C1076.1 1459 1080.7 1459 1085.4 1459.1C1090.1 1459.1 1094.7 1459.1 1099.4 1459.2C1104.1 1459.2 1108.8 1459.2 1113.4 1459.3C1118.1 1459.3 1122.8 1459.4 1127.4 1459.4C1132.1 1459.4 1136.8 1459.5 1141.5 1459.5C1146.1 1459.5 1150.8 1459.6 1155.5 1459.6C1160.1 1459.6 1164.8 1459.7 1169.5 1459.7C1174.2 1459.7 1178.8 1459.8 1183.5 1459.8C1188.2 1459.8 1192.8 1459.9 1197.5 1459.9C1202.2 1459.9 1206.9 1460 1211.5 1460C1216.2 1460 1220.9 1460.1 1225.5 1460.1C1230.2 1460.1 1234.9 1460.2 1239.6 1460.2C1244.2 1460.2 1248.9 1460.3 1253.6 1460.3C1258.2 1460.3 1262.9 1460.4 1267.6 1460.4C1272.3 1460.4 1276.9 1460.5 1281.6 1460.5C1286.3 1460.5 1290.9 1460.6 1295.6 1460.6C1300.3 1460.6 1305 1460.7 1309.6 1460.7C1314.3 1460.7 1319 1460.8 1323.6 1460.8C1328.3 1460.8 1333 1460.9 1337.7 1460.9C1342.3 1460.9 1347 1461 1351.7 1461C1356.3 1461 1361 1461.1 1365.7 1461.1C1370.4 1461.1 1375 1461.2 1379.7 1461.2C1384.4 1461.2 1389 1461.3 1393.7 1461.3C1398.4 1461.3 1403.1 1461.4 1407.7 1461.4C1412.4 1461.4 1417.1 1461.5 1421.8 1461.5C1426.4 1461.5 1431.1 1461.6 1435.8 1461.6C1440.4 1461.6 1445.1 1461.7 1449.8 1461.7C1454.5 1461.7 1459.1 1461.8 1463.8 1461.8C1468.5 1461.8 1473.1 1461.8 1477.8 1461.9C1482.5 1461.9 1487.2 1461.9 1491.8 1462C1496.5 1462 1501.2 1462 1505.8 1462.1C1510.5 1462.1 1515.2 1462.1 1519.9 1462.2C1524.5 1462.2 1529.2 1462.2 1533.9 1462.2C1538.5 1462.3 1543.2 1462.3 1547.9 1462.3C1552.6 1462.4 1557.2 1462.4 1561.9 1462.4C1566.6 1462.4 1571.2 1462.5 1575.9 1462.5C1580.6 1462.5 1585.3 1462.6 1589.9 1462.6C1594.6 1462.6 1599.3 1462.6 1603.9 1462.7C1608.6 1462.7 1613.3 1462.7 1618 1462.8C1622.6 1462.8 1627.3 1462.8 1632 1462.8C1636.6 1462.9 1641.3 1462.9 1646 1462.9C1650.7 1462.9 1657.7 1463 1660 1463" stroke="#000000" stroke-width="3.0" fill="none"/>
<rect x="254" y="1422.7" width="26" height="26" fill="#000000"/>
<rect x="258.8" y="1437" width="26" height="26" fill="#000000"/>
<rect x="268.5" y="1470" width="26" height="26" fill="#000000"/>
<rect x="283" y="1429" width="26" height="26" fill="#000000"/>
<rect x="312.1" y="1450.2" width="26" height="26" fill="#000000"/>
<rect x="370.1" y="1442.6" width="26" height="26" fill="#000000"/>
<rect x="486.2" y="1445.5" width="26" height="26" fill="#000000"/>
<rect x="602.4" y="1443.8" width="26" height="26" fill="#000000"/>
<rect x="718.5" y="1441.9" width="26" height="26" fill="#000000"/>
<rect x="1647.4" y="1451.5" width="26" height="26" fill="#000000"/>
<path d="M266.8 1435.7C267 1438 267.6 1445 268 1449.6C268.5 1454.3 268.9 1458.9 269.3 1463.6C269.7 1468.2 270.1 1472.9 270.5 1477.5C270.9 1482.2 271.3 1486.8 271.7 1491.5C272.2 1496.1 272.6 1500.8 273 1505.4C273.4 1510.1 273.9 1514.7 274.3 1519.4C274.8 1524 275.2 1528.7 275.7 1533.3C276.1 1537.9 276.6 1542.6 277.1 1547.2C277.5 1551.9 278 1556.5 278.5 1561.2C279 1565.8 279.5 1570.4 280 1575.1C280.6 1579.7 281.1 1584.4 281.7 1589C282.2 1593.6 282.8 1598.3 283.4 1602.9C284 1607.5 284.6 1612.1 285.2 1616.8C285.8 1621.4 286.4 1626 287.1 1630.6C287.8 1635.3 288.4 1639.9 289.2 1644.5C289.9 1649.1 290.6 1653.7 291.3 1658.3C292.1 1662.9 292.9 1667.5 293.7 1672.1C294.5 1676.7 295.3 1681.3 296.1 1685.9C297 1690.5 297.9 1695.1 298.8 1699.6C299.7 1704.2 300.6 1708.8 301.6 1713.4C302.6 1717.9 303.6 1722.5 304.6 1727C305.7 1731.6 306.7 1736.1 307.8 1740.7C308.9 1745.2 310.1 1749.7 311.2 1754.2C312.4 1758.8 313.6 1763.3 314.9 1767.8C316.1 1772.3 317.4 1776.7 318.7 1781.2C320.1 1785.7 321.4 1790.2 322.8 1794.6C324.2 1799.1 325.7 1803.5 327.2 1807.9C328.7 1812.3 330.2 1816.8 331.8 1821.1C333.3 1825.5 335 1829.9 336.6 1834.3C338.3 1838.6 340 1843 341.8 1847.3C343.5 1851.6 345.3 1855.9 347.2 1860.2C349 1864.5 350.9 1868.8 352.9 1873C354.8 1877.2 356.8 1881.5 358.8 1885.7C360.9 1889.9 363 1894 365.1 1898.2C367.2 1902.4 369.3 1906.5 371.5 1910.6C373.7 1914.8 375.9 1918.9 378.1 1923C380.3 1927.1 382.6 1931.2 384.8 1935.3C387.1 1939.3 389.4 1943.4 391.6 1947.5C393.9 1951.6 396.2 1955.6 398.5 1959.7C400.7 1963.8 403 1967.9 405.3 1971.9C407.6 1976 409.9 1980.1 412.1 1984.2C414.4 1988.3 416.6 1992.4 418.8 1996.5C421.1 2000.6 423.3 2004.7 425.5 2008.8C427.7 2012.9 429.8 2017 432 2021.1C434.2 2025.3 436.4 2029.4 438.6 2033.5C440.8 2037.6 443.1 2041.7 445.3 2045.8C447.5 2049.9 449.8 2054 452.1 2058C454.4 2062.1 456.7 2066.2 459.1 2070.2C461.5 2074.2 463.9 2078.2 466.4 2082.1C468.8 2086.1 471.3 2090 473.9 2093.9C476.5 2097.8 479.2 2101.6 481.9 2105.4C484.6 2109.2 487.4 2113 490.2 2116.7C493 2120.4 495.9 2124.1 498.8 2127.7C501.8 2131.3 504.8 2134.9 507.8 2138.5C510.8 2142 513.9 2145.5 517 2149C520.1 2152.5 523.3 2155.9 526.5 2159.4C529.6 2162.8 532.9 2166.1 536.1 2169.5C539.3 2172.9 542.6 2176.2 545.9 2179.5C549.2 2182.8 552.5 2186.1 555.9 2189.3C559.2 2192.6 562.6 2195.8 566 2199C569.3 2202.3 572.7 2205.5 576.1 2208.7C579.5 2211.9 583 2215 586.4 2218.2C589.8 2221.4 593.3 2224.5 596.7 2227.7C600.2 2230.8 603.6 2233.9 607.1 2237C610.6 2240.2 614 2243.3 617.5 2246.4C621 2249.5 624.5 2252.6 628 2255.7C631.5 2258.8 635 2261.9 638.5 2265C642 2268.1 645.5 2271.1 649 2274.2C652.5 2277.3 656 2280.4 659.5 2283.5C663 2286.5 666.5 2289.6 670 2292.7C673.5 2295.8 677 2298.9 680.5 2302C684 2305 687.5 2308.1 691.1 2311.2C694.6 2314.2 698.1 2317.3 701.6 2320.3C705.2 2323.4 708.7 2326.4 712.3 2329.4C715.9 2332.4 719.5 2335.4 723.1 2338.3C726.7 2341.3 730.3 2344.2 734 2347.1C737.7 2350 741.4 2352.9 745.1 2355.7C748.8 2358.5 752.5 2361.3 756.3 2364C760.1 2366.8 763.9 2369.5 767.7 2372.1C771.6 2374.7 775.5 2377.3 779.4 2379.9C783.3 2382.4 787.3 2384.9 791.3 2387.3C795.3 2389.7 799.3 2392 803.4 2394.3C807.5 2396.6 811.6 2398.8 815.7 2401C819.8 2403.2 824 2405.3 828.1 2407.4C832.3 2409.5 836.5 2411.6 840.7 2413.6C844.9 2415.6 849.1 2417.6 853.3 2419.6C857.6 2421.6 861.8 2423.5 866.1 2425.5C870.3 2427.4 874.5 2429.3 878.8 2431.2C883.1 2433.2 887.3 2435.1 891.6 2437C895.8 2438.9 900.1 2440.8 904.4 2442.7C908.6 2444.6 912.9 2446.5 917.2 2448.3C921.4 2450.2 925.7 2452.1 930 2454C934.3 2455.8 938.5 2457.7 942.8 2459.6C947.1 2461.4 951.4 2463.3 955.7 2465.1C960 2467 964.3 2468.8 968.5 2470.6C972.8 2472.5 977.1 2474.3 981.4 2476.1C985.7 2478 990 2479.8 994.3 2481.6C998.6 2483.4 1002.9 2485.3 1007.2 2487.1C1011.5 2488.9 1015.8 2490.7 1020.1 2492.5C1024.4 2494.3 1028.7 2496.1 1033 2497.9C1037.3 2499.7 1041.6 2501.5 1046 2503.3C1050.3 2505 1054.6 2506.8 1058.9 2508.6C1063.2 2510.4 1067.5 2512.2 1071.8 2513.9C1076.2 2515.7 1080.5 2517.5 1084.8 2519.2C1089.1 2521 1093.4 2522.8 1097.8 2524.5C1102.1 2526.3 1106.4 2528.1 1110.7 2529.8C1115 2531.6 1119.4 2533.3 1123.7 2535.1C1128 2536.8 1132.3 2538.6 1136.7 2540.3C1141 2542.1 1145.3 2543.8 1149.7 2545.6C1154 2547.3 1158.3 2549.1 1162.7 2550.8C1167 2552.5 1171.3 2554.3 1175.6 2556C1180 2557.7 1184.3 2559.5 1188.6 2561.2C1193 2562.9 1197.3 2564.7 1201.7 2566.4C1206 2568.1 1210.3 2569.8 1214.7 2571.5C1219 2573.3 1223.3 2575 1227.7 2576.7C1232 2578.4 1236.4 2580.1 1240.7 2581.8C1245.1 2583.5 1249.4 2585.3 1253.7 2587C1258.1 2588.7 1262.4 2590.4 1266.8 2592.1C1271.1 2593.8 1275.5 2595.5 1279.8 2597.2C1284.2 2598.9 1288.5 2600.6 1292.9 2602.2C1297.2 2603.9 1301.6 2605.6 1305.9 2607.3C1310.3 2609 1314.6 2610.7 1319 2612.4C1323.3 2614.1 1327.7 2615.7 1332 2617.4C1336.4 2619.1 1340.7 2620.8 1345.1 2622.4C1349.5 2624.1 1353.8 2625.8 1358.2 2627.4C1362.5 2629.1 1366.9 2630.8 1371.3 2632.4C1375.6 2634.1 1380 2635.7 1384.3 2637.4C1388.7 2639.1 1393.1 2640.7 1397.4 2642.4C1401.8 2644 1406.2 2645.7 1410.5 2647.3C1414.9 2649 1419.3 2650.6 1423.6 2652.2C1428 2653.9 1432.4 2655.5 1436.7 2657.2C1441.1 2658.8 1445.5 2660.4 1449.9 2662.1C1454.2 2663.7 1458.6 2665.3 1463 2666.9C1467.4 2668.6 1471.7 2670.2 1476.1 2671.8C1480.5 2673.4 1484.9 2675.1 1489.2 2676.7C1493.6 2678.3 1498 2679.9 1502.4 2681.5C1506.8 2683.1 1511.1 2684.7 1515.5 2686.3C1519.9 2687.9 1524.3 2689.5 1528.7 2691.1C1533.1 2692.7 1537.4 2694.3 1541.8 2695.9C1546.2 2697.5 1550.6 2699.1 1555 2700.7C1559.4 2702.3 1563.8 2703.9 1568.2 2705.5C1572.6 2707 1576.9 2708.6 1581.3 2710.2C1585.7 2711.8 1590.1 2713.4 1594.5 2714.9C1598.9 2716.5 1603.3 2718.1 1607.7 2719.6C1612.1 2721.2 1616.5 2722.8 1620.9 2724.3C1625.3 2725.9 1629.7 2727.4 1634.1 2729C1638.5 2730.6 1642.9 2732.1 1647.3 2733.7C1651.7 2735.2 1658.3 2737.5 1660.5 2738.3" stroke="#FF0000" stroke-width="3.0" fill="none"/>
<circle cx="267" cy="1435.7" r="14.3" fill="#FF0000"/>
<circle cx="271.8" cy="1447.5" r="14.3" fill="#FF0000"/>
<circle cx="281.5" cy="1550.2" r="14.3" fill="#FF0000"/>
<circle cx="296" cy="1701" r="14.3" fill="#FF0000"/>
<circle cx="325.1" cy="1826" r="14.3" fill="#FF0000"/>
<circle cx="383.1" cy="1927" r="14.3" fill="#FF0000"/>
<circle cx="499.2" cy="2165" r="14.3" fill="#FF0000"/>
<circle cx="615.4" cy="2225" r="14.3" fill="#FF0000"/>
<circle cx="731.5" cy="2398.7" r="14.3" fill="#FF0000"/>
<circle cx="1660.4" cy="2738.3" r="14.3" fill="#FF0000"/>
<path d="M266.8 1435.7C267 1438 267.7 1445 268.2 1449.7C268.6 1454.4 269 1459 269.5 1463.7C269.9 1468.4 270.3 1473 270.7 1477.7C271.1 1482.4 271.5 1487.1 271.9 1491.7C272.2 1496.4 272.6 1501.1 273 1505.7C273.4 1510.4 273.7 1515.1 274.1 1519.8C274.4 1524.4 274.8 1529.1 275.1 1533.8C275.5 1538.5 275.8 1543.1 276.2 1547.8C276.5 1552.5 276.9 1557.2 277.2 1561.8C277.6 1566.5 277.9 1571.2 278.3 1575.9C278.6 1580.5 279 1585.2 279.3 1589.9C279.7 1594.6 280.1 1599.2 280.4 1603.9C280.8 1608.6 281.2 1613.3 281.5 1617.9C281.9 1622.6 282.3 1627.3 282.7 1632C283.1 1636.6 283.5 1641.3 283.9 1646C284.3 1650.6 284.7 1655.3 285.2 1660C285.6 1664.6 286 1669.3 286.5 1674C287 1678.6 287.4 1683.3 287.9 1688C288.4 1692.6 288.9 1697.3 289.4 1702C289.9 1706.6 290.5 1711.3 291 1715.9C291.6 1720.6 292.2 1725.2 292.8 1729.9C293.4 1734.5 294 1739.2 294.6 1743.8C295.2 1748.5 295.9 1753.1 296.5 1757.8C297.2 1762.4 297.9 1767 298.6 1771.7C299.3 1776.3 300.1 1780.9 300.8 1785.6C301.6 1790.2 302.3 1794.8 303.1 1799.4C303.9 1804.1 304.8 1808.7 305.6 1813.3C306.5 1817.9 307.3 1822.5 308.2 1827.1C309.1 1831.7 310 1836.3 311 1840.9C311.9 1845.5 312.9 1850.1 313.9 1854.7C314.9 1859.2 315.9 1863.8 317 1868.4C318 1872.9 319.1 1877.5 320.2 1882.1C321.3 1886.6 322.4 1891.2 323.6 1895.7C324.7 1900.3 325.9 1904.8 327.1 1909.3C328.3 1913.9 329.5 1918.4 330.7 1922.9C332 1927.4 333.2 1932 334.5 1936.5C335.8 1941 337.1 1945.5 338.4 1950C339.7 1954.5 341 1959 342.3 1963.5C343.7 1968 345 1972.5 346.4 1976.9C347.8 1981.4 349.2 1985.9 350.6 1990.4C352 1994.9 353.4 1999.3 354.9 2003.8C356.3 2008.2 357.8 2012.7 359.2 2017.1C360.7 2021.6 362.2 2026 363.7 2030.5C365.3 2034.9 366.8 2039.3 368.4 2043.8C369.9 2048.2 371.5 2052.6 373.1 2057C374.8 2061.4 376.4 2065.8 378.1 2070.1C379.8 2074.5 381.5 2078.9 383.2 2083.2C385 2087.6 386.7 2091.9 388.5 2096.3C390.4 2100.6 392.2 2104.9 394.1 2109.2C396 2113.5 397.9 2117.8 399.8 2122C401.8 2126.3 403.8 2130.5 405.8 2134.8C407.8 2139 409.9 2143.2 412 2147.4C414.2 2151.5 416.3 2155.7 418.5 2159.8C420.8 2164 423 2168.1 425.3 2172.2C427.6 2176.2 430 2180.3 432.4 2184.3C434.8 2188.4 437.2 2192.4 439.7 2196.3C442.2 2200.3 444.8 2204.2 447.4 2208.1C450 2212 452.6 2215.9 455.3 2219.7C458 2223.5 460.8 2227.3 463.6 2231.1C466.4 2234.8 469.3 2238.5 472.2 2242.2C475.1 2245.9 478.1 2249.5 481 2253.2C484 2256.8 487 2260.4 490.1 2263.9C493.1 2267.5 496.2 2271 499.3 2274.6C502.3 2278.1 505.4 2281.6 508.6 2285.2C511.7 2288.7 514.8 2292.2 517.9 2295.7C521 2299.2 524.1 2302.7 527.2 2306.2C530.3 2309.7 533.4 2313.2 536.5 2316.8C539.6 2320.3 542.6 2323.9 545.7 2327.4C548.8 2331 551.8 2334.5 554.9 2338.1C557.9 2341.6 560.9 2345.2 564 2348.8C567 2352.4 570 2355.9 573.1 2359.5C576.1 2363.1 579.2 2366.6 582.2 2370.2C585.3 2373.8 588.3 2377.3 591.4 2380.9C594.5 2384.4 597.5 2387.9 600.6 2391.5C603.7 2395 606.9 2398.5 610 2402C613.1 2405.5 616.3 2408.9 619.4 2412.4C622.6 2415.8 625.8 2419.3 629.1 2422.7C632.3 2426.1 635.5 2429.4 638.8 2432.8C642.1 2436.1 645.4 2439.4 648.8 2442.7C652.1 2446 655.5 2449.2 658.9 2452.4C662.4 2455.6 665.8 2458.8 669.3 2461.9C672.8 2465 676.4 2468.1 680 2471.1C683.6 2474.1 687.2 2477.1 690.9 2480C694.6 2482.9 698.3 2485.7 702.1 2488.5C705.8 2491.3 709.7 2494 713.5 2496.6C717.4 2499.3 721.3 2501.9 725.3 2504.4C729.2 2506.9 733.2 2509.3 737.3 2511.7C741.3 2514.1 745.4 2516.4 749.5 2518.7C753.6 2521 757.7 2523.2 761.9 2525.3C766 2527.5 770.2 2529.6 774.4 2531.7C778.7 2533.7 782.9 2535.8 787.1 2537.7C791.4 2539.7 795.7 2541.6 800 2543.5C804.2 2545.4 808.6 2547.3 812.9 2549.1C817.2 2550.9 821.5 2552.7 825.9 2554.4C830.2 2556.2 834.6 2557.9 839 2559.6C843.3 2561.3 847.7 2562.9 852.1 2564.6C856.5 2566.2 860.9 2567.8 865.3 2569.4C869.8 2570.9 874.2 2572.5 878.6 2574C883.1 2575.5 887.5 2577 892 2578.5C896.4 2579.9 900.9 2581.4 905.3 2582.8C909.8 2584.2 914.3 2585.6 918.8 2587C923.2 2588.4 927.7 2589.7 932.2 2591C936.7 2592.4 941.2 2593.7 945.7 2594.9C950.3 2596.2 954.8 2597.5 959.3 2598.7C963.8 2600 968.3 2601.2 972.9 2602.4C977.4 2603.6 981.9 2604.8 986.5 2606C991 2607.2 995.5 2608.4 1000.1 2609.5C1004.6 2610.7 1009.2 2611.8 1013.7 2612.9C1018.3 2614.1 1022.8 2615.2 1027.4 2616.3C1031.9 2617.4 1036.5 2618.5 1041.1 2619.6C1045.6 2620.7 1050.2 2621.7 1054.7 2622.8C1059.3 2623.9 1063.9 2624.9 1068.4 2626C1073 2627 1077.6 2628.1 1082.2 2629.1C1086.7 2630.2 1091.3 2631.2 1095.9 2632.3C1100.4 2633.3 1105 2634.3 1109.6 2635.4C1114.2 2636.4 1118.7 2637.4 1123.3 2638.4C1127.9 2639.5 1132.5 2640.5 1137 2641.5C1141.6 2642.5 1146.2 2643.6 1150.8 2644.6C1155.3 2645.6 1159.9 2646.6 1164.5 2647.6C1169.1 2648.6 1173.7 2649.6 1178.2 2650.6C1182.8 2651.6 1187.4 2652.6 1192 2653.6C1196.6 2654.6 1201.1 2655.6 1205.7 2656.6C1210.3 2657.6 1214.9 2658.6 1219.5 2659.6C1224.1 2660.6 1228.6 2661.5 1233.2 2662.5C1237.8 2663.5 1242.4 2664.5 1247 2665.5C1251.6 2666.4 1256.1 2667.4 1260.7 2668.4C1265.3 2669.4 1269.9 2670.3 1274.5 2671.3C1279.1 2672.3 1283.7 2673.2 1288.3 2674.2C1292.8 2675.2 1297.4 2676.1 1302 2677.1C1306.6 2678 1311.2 2679 1315.8 2680C1320.4 2680.9 1325 2681.9 1329.6 2682.8C1334.1 2683.8 1338.7 2684.7 1343.3 2685.7C1347.9 2686.6 1352.5 2687.6 1357.1 2688.5C1361.7 2689.5 1366.3 2690.4 1370.9 2691.4C1375.5 2692.3 1380.1 2693.2 1384.7 2694.2C1389.3 2695.1 1393.8 2696.1 1398.4 2697C1403 2697.9 1407.6 2698.9 1412.2 2699.8C1416.8 2700.7 1421.4 2701.7 1426 2702.6C1430.6 2703.5 1435.2 2704.5 1439.8 2705.4C1444.4 2706.3 1449 2707.2 1453.6 2708.2C1458.2 2709.1 1462.8 2710 1467.4 2710.9C1472 2711.9 1476.6 2712.8 1481.2 2713.7C1485.8 2714.6 1490.4 2715.5 1494.9 2716.5C1499.5 2717.4 1504.1 2718.3 1508.7 2719.2C1513.3 2720.1 1517.9 2721.1 1522.5 2722C1527.1 2722.9 1531.7 2723.8 1536.3 2724.7C1540.9 2725.6 1545.5 2726.5 1550.1 2727.5C1554.7 2728.4 1559.3 2729.3 1563.9 2730.2C1568.5 2731.1 1573.1 2732 1577.7 2732.9C1582.3 2733.8 1586.9 2734.8 1591.5 2735.7C1596.1 2736.6 1600.7 2737.5 1605.3 2738.4C1609.9 2739.3 1614.5 2740.2 1619.1 2741.1C1623.7 2742 1628.3 2742.9 1632.9 2743.8C1637.5 2744.8 1642.1 2745.7 1646.7 2746.6C1651.3 2747.5 1658.2 2748.8 1660.5 2749.3" stroke="#0000FF" stroke-width="3.0" fill="none"/>
<polygon points="267,1416.4 284,1445.4 250,1445.4" fill="#0000FF"/>
<polygon points="271.8,1476.7 288.8,1505.7 254.8,1505.7" fill="#0000FF"/>
<polygon points="281.5,1608.4 298.5,1637.4 264.5,1637.4" fill="#0000FF"/>
<polygon points="296,1799.8 313,1828.8 279,1828.8" fill="#0000FF"/>
<polygon points="325.1,1885.7 342.1,1914.7 308.1,1914.7" fill="#0000FF"/>
<polygon points="383.1,2100.4 400.1,2129.4 366.1,2129.4" fill="#0000FF"/>
<polygon points="499.2,2264.4 516.2,2293.4 482.2,2293.4" fill="#0000FF"/>
<polygon points="615.4,2379.4 632.4,2408.4 598.4,2408.4" fill="#0000FF"/>
<polygon points="731.5,2549.6 748.5,2578.6 714.5,2578.6" fill="#0000FF"/>
<polygon points="1660.4,2730 1677.4,2759 1643.4,2759" fill="#0000FF"/>
<path d="M266.8 1435.7C266.9 1438 267.3 1445 267.6 1449.7C267.8 1454.4 268.1 1459 268.3 1463.7C268.5 1468.4 268.7 1473.1 268.9 1477.7C269.1 1482.4 269.3 1487.1 269.4 1491.7C269.6 1496.4 269.8 1501.1 269.9 1505.8C270.1 1510.4 270.3 1515.1 270.4 1519.8C270.6 1524.5 270.7 1529.1 270.9 1533.8C271 1538.5 271.2 1543.2 271.4 1547.8C271.5 1552.5 271.7 1557.2 271.8 1561.8C272 1566.5 272.2 1571.2 272.4 1575.9C272.6 1580.5 272.7 1585.2 273 1589.9C273.2 1594.6 273.4 1599.2 273.6 1603.9C273.8 1608.6 274.1 1613.2 274.3 1617.9C274.6 1622.6 274.9 1627.2 275.2 1631.9C275.4 1636.6 275.8 1641.2 276.1 1645.9C276.4 1650.6 276.8 1655.2 277.2 1659.9C277.6 1664.6 278 1669.2 278.4 1673.9C278.8 1678.5 279.3 1683.2 279.8 1687.8C280.3 1692.5 280.8 1697.1 281.3 1701.8C281.9 1706.4 282.5 1711 283.1 1715.7C283.7 1720.3 284.4 1724.9 285.1 1729.6C285.8 1734.2 286.5 1738.8 287.2 1743.4C288 1748.1 288.8 1752.7 289.6 1757.3C290.3 1761.9 291.2 1766.5 292 1771.1C292.9 1775.7 293.7 1780.3 294.6 1784.9C295.5 1789.5 296.4 1794 297.3 1798.6C298.2 1803.2 299.2 1807.8 300.1 1812.4C301 1817 302 1821.5 302.9 1826.1C303.9 1830.7 304.9 1835.3 305.8 1839.8C306.8 1844.4 307.8 1849 308.8 1853.6C309.7 1858.1 310.7 1862.7 311.7 1867.3C312.7 1871.9 313.6 1876.4 314.6 1881C315.6 1885.6 316.5 1890.2 317.5 1894.7C318.5 1899.3 319.4 1903.9 320.4 1908.5C321.4 1913 322.3 1917.6 323.3 1922.2C324.3 1926.8 325.2 1931.3 326.2 1935.9C327.2 1940.5 328.2 1945 329.2 1949.6C330.1 1954.2 331.1 1958.8 332.1 1963.3C333.1 1967.9 334.1 1972.5 335.1 1977C336.1 1981.6 337.2 1986.2 338.2 1990.7C339.2 1995.3 340.2 1999.8 341.3 2004.4C342.3 2009 343.4 2013.5 344.5 2018.1C345.5 2022.6 346.6 2027.2 347.7 2031.7C348.8 2036.3 349.9 2040.8 351 2045.3C352.1 2049.9 353.3 2054.4 354.4 2059C355.6 2063.5 356.8 2068 358 2072.5C359.2 2077 360.4 2081.6 361.6 2086.1C362.8 2090.6 364.1 2095.1 365.4 2099.6C366.7 2104.1 368 2108.6 369.3 2113C370.7 2117.5 372 2122 373.4 2126.5C374.8 2130.9 376.2 2135.4 377.7 2139.8C379.1 2144.3 380.6 2148.7 382.1 2153.1C383.6 2157.6 385.2 2162 386.7 2166.4C388.3 2170.8 389.9 2175.2 391.6 2179.5C393.2 2183.9 394.9 2188.3 396.6 2192.6C398.4 2197 400.1 2201.3 401.9 2205.6C403.7 2209.9 405.6 2214.2 407.5 2218.5C409.3 2222.8 411.3 2227.1 413.2 2231.3C415.2 2235.5 417.2 2239.8 419.3 2244C421.3 2248.2 423.4 2252.3 425.6 2256.5C427.7 2260.6 429.9 2264.8 432.2 2268.9C434.4 2273 436.7 2277.1 439 2281.1C441.3 2285.2 443.7 2289.2 446.1 2293.2C448.5 2297.3 450.9 2301.2 453.4 2305.2C455.9 2309.2 458.4 2313.1 461 2317C463.5 2320.9 466.1 2324.8 468.8 2328.7C471.4 2332.5 474.1 2336.4 476.8 2340.2C479.5 2344 482.2 2347.8 485 2351.6C487.8 2355.3 490.6 2359 493.5 2362.7C496.3 2366.5 499.2 2370.1 502.1 2373.8C505 2377.4 508 2381.1 511 2384.7C514 2388.3 517 2391.8 520 2395.4C523.1 2398.9 526.2 2402.4 529.3 2405.9C532.4 2409.4 535.5 2412.9 538.7 2416.3C541.9 2419.8 545.1 2423.2 548.3 2426.6C551.5 2429.9 554.8 2433.3 558.1 2436.6C561.4 2439.9 564.7 2443.2 568 2446.5C571.4 2449.8 574.7 2453 578.1 2456.2C581.5 2459.4 585 2462.6 588.4 2465.8C591.9 2468.9 595.4 2472 598.9 2475.1C602.4 2478.1 606 2481.2 609.6 2484.2C613.2 2487.2 616.8 2490.1 620.5 2493C624.1 2495.9 627.8 2498.8 631.6 2501.6C635.3 2504.4 639.1 2507.1 642.9 2509.8C646.7 2512.5 650.6 2515.2 654.5 2517.8C658.4 2520.4 662.3 2522.9 666.3 2525.4C670.3 2527.8 674.3 2530.2 678.3 2532.5C682.4 2534.9 686.5 2537.1 690.6 2539.3C694.8 2541.5 699 2543.6 703.2 2545.6C707.4 2547.6 711.6 2549.6 715.9 2551.4C720.2 2553.3 724.5 2555.1 728.9 2556.8C733.2 2558.6 737.6 2560.3 742 2561.9C746.3 2563.5 750.8 2565 755.2 2566.6C759.6 2568.1 764.1 2569.5 768.5 2570.9C773 2572.3 777.4 2573.7 781.9 2575C786.4 2576.4 790.9 2577.7 795.4 2578.9C799.9 2580.2 804.4 2581.5 808.9 2582.7C813.4 2583.9 817.9 2585.1 822.5 2586.3C827 2587.5 831.5 2588.7 836.1 2589.8C840.6 2591 845.1 2592.1 849.7 2593.2C854.2 2594.4 858.7 2595.5 863.3 2596.6C867.8 2597.7 872.4 2598.8 876.9 2599.9C881.5 2600.9 886 2602 890.6 2603.1C895.1 2604.1 899.7 2605.2 904.2 2606.2C908.8 2607.2 913.4 2608.3 917.9 2609.3C922.5 2610.3 927.1 2611.3 931.6 2612.3C936.2 2613.3 940.8 2614.3 945.3 2615.2C949.9 2616.2 954.5 2617.2 959.1 2618.2C963.6 2619.1 968.2 2620.1 972.8 2621C977.4 2622 982 2622.9 986.5 2623.9C991.1 2624.8 995.7 2625.7 1000.3 2626.7C1004.9 2627.6 1009.4 2628.5 1014 2629.5C1018.6 2630.4 1023.2 2631.3 1027.8 2632.2C1032.4 2633.1 1037 2634 1041.5 2635C1046.1 2635.9 1050.7 2636.8 1055.3 2637.7C1059.9 2638.6 1064.5 2639.5 1069.1 2640.4C1073.7 2641.3 1078.2 2642.2 1082.8 2643.1C1087.4 2644 1092 2644.9 1096.6 2645.9C1101.2 2646.8 1105.8 2647.7 1110.3 2648.6C1114.9 2649.5 1119.5 2650.4 1124.1 2651.3C1128.7 2652.2 1133.3 2653.2 1137.9 2654.1C1142.4 2655 1147 2655.9 1151.6 2656.8C1156.2 2657.7 1160.8 2658.7 1165.4 2659.6C1170 2660.5 1174.5 2661.4 1179.1 2662.3C1183.7 2663.3 1188.3 2664.2 1192.9 2665.1C1197.5 2666 1202 2666.9 1206.6 2667.9C1211.2 2668.8 1215.8 2669.7 1220.4 2670.6C1225 2671.6 1229.6 2672.5 1234.1 2673.4C1238.7 2674.3 1243.3 2675.3 1247.9 2676.2C1252.5 2677.1 1257.1 2678.1 1261.6 2679C1266.2 2679.9 1270.8 2680.8 1275.4 2681.8C1280 2682.7 1284.5 2683.6 1289.1 2684.6C1293.7 2685.5 1298.3 2686.4 1302.9 2687.3C1307.5 2688.3 1312 2689.2 1316.6 2690.1C1321.2 2691.1 1325.8 2692 1330.4 2692.9C1335 2693.8 1339.5 2694.8 1344.1 2695.7C1348.7 2696.6 1353.3 2697.6 1357.9 2698.5C1362.5 2699.4 1367 2700.4 1371.6 2701.3C1376.2 2702.2 1380.8 2703.1 1385.4 2704.1C1390 2705 1394.5 2705.9 1399.1 2706.9C1403.7 2707.8 1408.3 2708.7 1412.9 2709.6C1417.4 2710.6 1422 2711.5 1426.6 2712.4C1431.2 2713.4 1435.8 2714.3 1440.4 2715.2C1444.9 2716.1 1449.5 2717.1 1454.1 2718C1458.7 2718.9 1463.3 2719.8 1467.9 2720.8C1472.5 2721.7 1477 2722.6 1481.6 2723.5C1486.2 2724.4 1490.8 2725.4 1495.4 2726.3C1500 2727.2 1504.5 2728.1 1509.1 2729.1C1513.7 2730 1518.3 2730.9 1522.9 2731.8C1527.5 2732.7 1532.1 2733.6 1536.6 2734.6C1541.2 2735.5 1545.8 2736.4 1550.4 2737.3C1555 2738.2 1559.6 2739.1 1564.2 2740C1568.7 2741 1573.3 2741.9 1577.9 2742.8C1582.5 2743.7 1587.1 2744.6 1591.7 2745.5C1596.3 2746.4 1600.8 2747.3 1605.4 2748.2C1610 2749.1 1614.6 2750 1619.2 2750.9C1623.8 2751.8 1628.4 2752.7 1633 2753.6C1637.6 2754.5 1642.1 2755.4 1646.7 2756.3C1651.3 2757.2 1658.2 2758.5 1660.5 2759" stroke="#FF00FF" stroke-width="3.0" fill="none"/>
<polygon points="250,1426 284,1426 267,1455" fill="#FF00FF"/>
<polygon points="254.8,1491.3 288.8,1491.3 271.8,1520.3" fill="#FF00FF"/>
<polygon points="264.5,1700.1 298.5,1700.1 281.5,1729.1" fill="#FF00FF"/>
<polygon points="279,1783.3 313,1783.3 296,1812.3" fill="#FF00FF"/>
<polygon points="308.1,1927.3 342.1,1927.3 325.1,1956.3" fill="#FF00FF"/>
<polygon points="366.1,2201.6 400.1,2201.6 383.1,2230.6" fill="#FF00FF"/>
<polygon points="482.2,2367 516.2,2367 499.2,2396" fill="#FF00FF"/>
<polygon points="598.4,2485.8 632.4,2485.8 615.4,2514.8" fill="#FF00FF"/>
<polygon points="714.5,2572.6 748.5,2572.6 731.5,2601.6" fill="#FF00FF"/>
<polygon points="1643.4,2749.3 1677.4,2749.3 1660.4,2778.3" fill="#FF00FF"/>
<path d="M266.8 1435.7C267 1438 267.5 1445 267.9 1449.7C268.3 1454.3 268.6 1459 269 1463.6C269.3 1468.3 269.6 1473 270 1477.6C270.3 1482.3 270.6 1486.9 271 1491.6C271.3 1496.3 271.6 1500.9 271.9 1505.6C272.2 1510.2 272.5 1514.9 272.8 1519.6C273.2 1524.2 273.5 1528.9 273.8 1533.5C274.1 1538.2 274.4 1542.9 274.7 1547.5C275 1552.2 275.3 1556.9 275.7 1561.5C276 1566.2 276.3 1570.8 276.6 1575.5C277 1580.2 277.3 1584.8 277.6 1589.5C278 1594.1 278.3 1598.8 278.7 1603.4C279.1 1608.1 279.4 1612.8 279.8 1617.4C280.2 1622.1 280.6 1626.7 281 1631.4C281.4 1636 281.8 1640.7 282.2 1645.3C282.6 1650 283.1 1654.6 283.5 1659.3C284 1663.9 284.4 1668.6 284.9 1673.2C285.4 1677.9 285.9 1682.5 286.4 1687.2C287 1691.8 287.5 1696.4 288.1 1701.1C288.6 1705.7 289.2 1710.4 289.8 1715C290.4 1719.6 291 1724.2 291.7 1728.9C292.3 1733.5 293 1738.1 293.7 1742.7C294.4 1747.4 295.1 1752 295.8 1756.6C296.6 1761.2 297.3 1765.8 298.1 1770.4C298.8 1775 299.6 1779.6 300.4 1784.2C301.3 1788.8 302.1 1793.4 302.9 1798C303.8 1802.6 304.6 1807.2 305.5 1811.8C306.4 1816.4 307.3 1821 308.2 1825.6C309.1 1830.1 310.1 1834.7 311 1839.3C312 1843.9 312.9 1848.4 313.9 1853C314.9 1857.6 315.9 1862.1 316.9 1866.7C317.9 1871.2 319 1875.8 320 1880.4C321 1884.9 322.1 1889.5 323.2 1894C324.2 1898.6 325.3 1903.1 326.4 1907.6C327.5 1912.2 328.6 1916.7 329.7 1921.3C330.9 1925.8 332 1930.3 333.1 1934.8C334.3 1939.4 335.4 1943.9 336.6 1948.4C337.8 1953 338.9 1957.5 340.1 1962C341.3 1966.5 342.5 1971 343.7 1975.5C344.9 1980 346.1 1984.6 347.4 1989.1C348.6 1993.6 349.8 1998.1 351.1 2002.6C352.3 2007.1 353.6 2011.6 354.8 2016.1C356.1 2020.6 357.3 2025.1 358.6 2029.6C359.9 2034.1 361.2 2038.6 362.5 2043C363.8 2047.5 365.1 2052 366.4 2056.5C367.7 2061 369 2065.5 370.4 2069.9C371.7 2074.4 373 2078.9 374.4 2083.4C375.8 2087.8 377.1 2092.3 378.5 2096.8C379.9 2101.2 381.3 2105.7 382.7 2110.1C384.2 2114.6 385.6 2119 387 2123.5C388.5 2127.9 389.9 2132.3 391.4 2136.8C392.9 2141.2 394.4 2145.6 395.9 2150C397.4 2154.5 398.9 2158.9 400.5 2163.3C402 2167.7 403.6 2172.1 405.1 2176.5C406.7 2180.9 408.3 2185.3 409.9 2189.7C411.4 2194.1 413 2198.5 414.7 2202.9C416.3 2207.3 417.9 2211.6 419.5 2216C421.1 2220.4 422.8 2224.8 424.4 2229.1C426.1 2233.5 427.7 2237.9 429.4 2242.3C431 2246.6 432.7 2251 434.3 2255.4C436 2259.7 437.7 2264.1 439.3 2268.5C441 2272.8 442.7 2277.2 444.3 2281.5C446 2285.9 447.7 2290.3 449.3 2294.6C451 2299 452.7 2303.4 454.3 2307.7C456 2312.1 457.7 2316.5 459.3 2320.8C461 2325.2 462.6 2329.5 464.3 2333.9C466 2338.3 467.6 2342.6 469.3 2347C471 2351.4 472.6 2355.7 474.3 2360.1C476 2364.5 477.6 2368.8 479.3 2373.2C481 2377.5 482.7 2381.9 484.4 2386.3C486.1 2390.6 487.8 2395 489.5 2399.3C491.2 2403.7 492.9 2408 494.6 2412.3C496.4 2416.7 498.1 2421 499.9 2425.3C501.6 2429.7 503.4 2434 505.2 2438.3C506.9 2442.6 508.7 2446.9 510.5 2451.2C512.4 2455.6 514.2 2459.9 516 2464.1C517.9 2468.4 519.7 2472.7 521.6 2477C523.5 2481.3 525.4 2485.5 527.3 2489.8C529.2 2494.1 531.2 2498.3 533.2 2502.5C535.1 2506.8 537.1 2511 539.1 2515.2C541.1 2519.4 543.2 2523.6 545.2 2527.8C547.3 2532 549.4 2536.2 551.5 2540.4C553.6 2544.5 555.7 2548.7 557.9 2552.8C560 2557 562.2 2561.1 564.5 2565.2C566.7 2569.3 569 2573.4 571.3 2577.4C573.6 2581.5 576 2585.5 578.4 2589.5C580.8 2593.5 583.3 2597.5 585.8 2601.4C588.4 2605.3 590.9 2609.2 593.6 2613.1C596.2 2616.9 598.9 2620.7 601.7 2624.5C604.5 2628.2 607.4 2631.9 610.3 2635.6C613.2 2639.2 616.2 2642.8 619.3 2646.3C622.4 2649.8 625.5 2653.3 628.8 2656.6C632 2660 635.3 2663.3 638.7 2666.5C642.2 2669.7 645.6 2672.8 649.2 2675.8C652.8 2678.8 656.5 2681.7 660.2 2684.4C664 2687.2 667.8 2689.9 671.8 2692.4C675.7 2694.9 679.8 2697.2 683.9 2699.4C688 2701.6 692.3 2703.6 696.6 2705.4C700.9 2707.2 705.3 2708.8 709.7 2710.1C714.2 2711.5 718.8 2712.6 723.3 2713.7C727.9 2714.7 732.5 2715.5 737.1 2716.3C741.7 2717.1 746.3 2717.7 750.9 2718.3C755.6 2718.9 760.2 2719.5 764.8 2720.1C769.5 2720.6 774.1 2721.2 778.8 2721.7C783.4 2722.3 788 2722.8 792.7 2723.3C797.3 2723.9 802 2724.4 806.6 2724.9C811.2 2725.4 815.9 2725.9 820.5 2726.4C825.2 2726.8 829.8 2727.3 834.5 2727.8C839.1 2728.2 843.8 2728.7 848.4 2729.1C853.1 2729.6 857.7 2730 862.4 2730.4C867 2730.8 871.7 2731.2 876.3 2731.6C881 2732 885.7 2732.4 890.3 2732.8C895 2733.2 899.6 2733.6 904.3 2733.9C908.9 2734.3 913.6 2734.7 918.3 2735C922.9 2735.4 927.6 2735.7 932.2 2736C936.9 2736.4 941.5 2736.7 946.2 2737C950.9 2737.3 955.5 2737.6 960.2 2737.9C964.9 2738.2 969.5 2738.5 974.2 2738.8C978.8 2739.1 983.5 2739.4 988.2 2739.7C992.8 2739.9 997.5 2740.2 1002.2 2740.5C1006.8 2740.7 1011.5 2741 1016.1 2741.2C1020.8 2741.5 1025.5 2741.7 1030.1 2742C1034.8 2742.2 1039.5 2742.4 1044.1 2742.7C1048.8 2742.9 1053.5 2743.1 1058.1 2743.3C1062.8 2743.6 1067.5 2743.8 1072.1 2744C1076.8 2744.2 1081.5 2744.4 1086.1 2744.6C1090.8 2744.8 1095.5 2745 1100.1 2745.2C1104.8 2745.4 1109.5 2745.6 1114.1 2745.7C1118.8 2745.9 1123.5 2746.1 1128.1 2746.3C1132.8 2746.5 1137.5 2746.6 1142.1 2746.8C1146.8 2747 1151.5 2747.1 1156.2 2747.3C1160.8 2747.4 1165.5 2747.6 1170.2 2747.8C1174.8 2747.9 1179.5 2748.1 1184.2 2748.2C1188.8 2748.4 1193.5 2748.5 1198.2 2748.6C1202.8 2748.8 1207.5 2748.9 1212.2 2749.1C1216.8 2749.2 1221.5 2749.3 1226.2 2749.4C1230.9 2749.6 1235.5 2749.7 1240.2 2749.8C1244.9 2750 1249.5 2750.1 1254.2 2750.2C1258.9 2750.3 1263.5 2750.4 1268.2 2750.6C1272.9 2750.7 1277.6 2750.8 1282.2 2750.9C1286.9 2751 1291.6 2751.1 1296.2 2751.2C1300.9 2751.3 1305.6 2751.4 1310.2 2751.5C1314.9 2751.6 1319.6 2751.8 1324.3 2751.9C1328.9 2752 1333.6 2752.1 1338.3 2752.2C1342.9 2752.3 1347.6 2752.4 1352.3 2752.5C1356.9 2752.5 1361.6 2752.6 1366.3 2752.7C1371 2752.8 1375.6 2752.9 1380.3 2753C1385 2753.1 1389.6 2753.2 1394.3 2753.3C1399 2753.4 1403.6 2753.5 1408.3 2753.6C1413 2753.7 1417.7 2753.8 1422.3 2753.9C1427 2754 1431.7 2754 1436.3 2754.1C1441 2754.2 1445.7 2754.3 1450.4 2754.4C1455 2754.5 1459.7 2754.6 1464.4 2754.7C1469 2754.8 1473.7 2754.9 1478.4 2755C1483 2755.1 1487.7 2755.2 1492.4 2755.2C1497.1 2755.3 1501.7 2755.4 1506.4 2755.5C1511.1 2755.6 1515.7 2755.7 1520.4 2755.8C1525.1 2755.9 1529.7 2756 1534.4 2756.1C1539.1 2756.2 1543.8 2756.3 1548.4 2756.4C1553.1 2756.5 1557.8 2756.6 1562.4 2756.7C1567.1 2756.9 1571.8 2757 1576.4 2757.1C1581.1 2757.2 1585.8 2757.3 1590.5 2757.4C1595.1 2757.5 1599.8 2757.6 1604.5 2757.8C1609.1 2757.9 1613.8 2758 1618.5 2758.1C1623.1 2758.2 1627.8 2758.4 1632.5 2758.5C1637.2 2758.6 1641.8 2758.8 1646.5 2758.9C1651.2 2759 1658.2 2759.2 1660.5 2759.3" stroke="#008000" stroke-width="3.0" fill="none"/>
<polygon points="267,1417.7 285,1435.7 267,1453.7 249,1435.7" fill="#008000"/>
<polygon points="271.8,1499.4 289.8,1517.4 271.8,1535.4 253.8,1517.4" fill="#008000"/>
<polygon points="281.5,1624.4 299.5,1642.4 281.5,1660.4 263.5,1642.4" fill="#008000"/>
<polygon points="296,1752 314,1770 296,1788 278,1770" fill="#008000"/>
<polygon points="325.1,1886.3 343.1,1904.3 325.1,1922.3 307.1,1904.3" fill="#008000"/>
<polygon points="383.1,2116.4 401.1,2134.4 383.1,2152.4 365.1,2134.4" fill="#008000"/>
<polygon points="499.2,2406.4 517.2,2424.4 499.2,2442.4 481.2,2424.4" fill="#008000"/>
<polygon points="615.4,2654.8 633.4,2672.8 615.4,2690.8 597.4,2672.8" fill="#008000"/>
<polygon points="731.5,2720.9 749.5,2738.9 731.5,2756.9 713.5,2738.9" fill="#008000"/>
<polygon points="1660.4,2741.3 1678.4,2759.3 1660.4,2777.3 1642.4,2759.3" fill="#008000"/>
<path d="M271.8 1429V1437M271.8 1463V1471M256 1429H287.6M256 1471H287.6M281.5 1462V1470M281.5 1496V1504M265.7 1462H297.3M265.7 1504H297.3M296 1421V1429M296 1455V1463M280.2 1421H311.8M280.2 1463H311.8M325.1 1442.2V1450.2M325.1 1476.2V1484.2M309.3 1442.2H340.9M309.3 1484.2H340.9M383.1 1434.6V1442.6M383.1 1468.6V1476.6M367.3 1434.6H398.9M367.3 1476.6H398.9M499.2 1437.5V1445.5M499.2 1471.5V1479.5M483.4 1437.5H515M483.4 1479.5H515M615.4 1435.8V1443.8M615.4 1469.8V1477.8M599.6 1435.8H631.2M599.6 1477.8H631.2M731.5 1433.9V1441.9M731.5 1467.9V1475.9M715.7 1433.9H747.3M715.7 1475.9H747.3M1660.4 1443.5V1451.5M1660.4 1477.5V1485.5M1644.6 1443.5H1676.2M1644.6 1485.5H1676.2" stroke="#000000" stroke-width="3.0" fill="none"/>
<path d="M271.8 1426.5V1433.2M271.8 1461.8V1468.5M256 1426.5H287.6M256 1468.5H287.6M281.5 1529.2V1535.9M281.5 1564.5V1571.2M265.7 1529.2H297.3M265.7 1571.2H297.3M296 1680V1686.7M296 1715.3V1722M280.2 1680H311.8M280.2 1722H311.8M325.1 1805V1811.7M325.1 1840.3V1847M309.3 1805H340.9M309.3 1847H340.9M383.1 1906V1912.7M383.1 1941.3V1948M367.3 1906H398.9M367.3 1948H398.9M499.2 2144V2150.7M499.2 2179.3V2186M483.4 2144H515M483.4 2186H515M615.4 2204V2210.7M615.4 2239.3V2246M599.6 2204H631.2M599.6 2246H631.2M731.5 2377.7V2384.4M731.5 2413V2419.7M715.7 2377.7H747.3M715.7 2419.7H747.3M1660.4 2717.3V2724M1660.4 2752.6V2759.3M1644.6 2717.3H1676.2M1644.6 2759.3H1676.2" stroke="#FF0000" stroke-width="3.0" fill="none"/>
<path d="M271.8 1475V1477M271.8 1512.5V1517M256 1475H287.6M256 1517H287.6M281.5 1606.7V1608.7M281.5 1644.2V1648.7M265.7 1606.7H297.3M265.7 1648.7H297.3M296 1798.1V1800.1M296 1835.6V1840.1M280.2 1798.1H311.8M280.2 1840.1H311.8M325.1 1884V1886M325.1 1921.5V1926M309.3 1884H340.9M309.3 1926H340.9M383.1 2098.7V2100.7M383.1 2136.2V2140.7M367.3 2098.7H398.9M367.3 2140.7H398.9M499.2 2262.7V2264.7M499.2 2300.2V2304.7M483.4 2262.7H515M483.4 2304.7H515M615.4 2377.7V2379.7M615.4 2415.2V2419.7M599.6 2377.7H631.2M599.6 2419.7H631.2M731.5 2547.9V2549.9M731.5 2585.4V2589.9M715.7 2547.9H747.3M715.7 2589.9H747.3M1660.4 2728.3V2730.3M1660.4 2765.8V2770.3M1644.6 2728.3H1676.2M1644.6 2770.3H1676.2" stroke="#0000FF" stroke-width="3.0" fill="none"/>
<path d="M271.8 1480V1484.5M271.8 1520V1522M256 1480H287.6M256 1522H287.6M281.5 1688.8V1693.3M281.5 1728.8V1730.8M265.7 1688.8H297.3M265.7 1730.8H297.3M296 1772V1776.5M296 1812V1814M280.2 1772H311.8M280.2 1814H311.8M325.1 1916V1920.5M325.1 1956V1958M309.3 1916H340.9M309.3 1958H340.9M383.1 2190.3V2194.8M383.1 2230.3V2232.3M367.3 2190.3H398.9M367.3 2232.3H398.9M499.2 2355.7V2360.2M499.2 2395.7V2397.7M483.4 2355.7H515M483.4 2397.7H515M615.4 2474.5V2479M615.4 2514.5V2516.5M599.6 2474.5H631.2M599.6 2516.5H631.2M731.5 2561.3V2565.8M731.5 2601.3V2603.3M715.7 2561.3H747.3M715.7 2603.3H747.3M1660.4 2738V2742.5M1660.4 2778V2780M1644.6 2738H1676.2M1644.6 2780H1676.2" stroke="#FF00FF" stroke-width="3.0" fill="none"/>
<path d="M271.8 1496.4V1499.4M271.8 1535.4V1538.4M256 1496.4H287.6M256 1538.4H287.6M281.5 1621.4V1624.4M281.5 1660.4V1663.4M265.7 1621.4H297.3M265.7 1663.4H297.3M296 1749V1752M296 1788V1791M280.2 1749H311.8M280.2 1791H311.8M325.1 1883.3V1886.3M325.1 1922.3V1925.3M309.3 1883.3H340.9M309.3 1925.3H340.9M383.1 2113.4V2116.4M383.1 2152.4V2155.4M367.3 2113.4H398.9M367.3 2155.4H398.9M499.2 2403.4V2406.4M499.2 2442.4V2445.4M483.4 2403.4H515M483.4 2445.4H515M615.4 2651.8V2654.8M615.4 2690.8V2693.8M599.6 2651.8H631.2M599.6 2693.8H631.2M731.5 2717.9V2720.9M731.5 2756.9V2759.9M715.7 2717.9H747.3M715.7 2759.9H747.3M1660.4 2738.3V2741.3M1660.4 2777.3V2780.3M1644.6 2738.3H1676.2M1644.6 2780.3H1676.2" stroke="#008000" stroke-width="3.0" fill="none"/>
</g>
<g clip-path="url(#cc)">
<path d="M266.8 2799.4C268.4 2801.1 272.9 2806.5 276.3 2809.7C279.7 2812.9 283.4 2815.9 287.2 2818.6C291 2821.4 295 2823.8 299.1 2826C303.2 2828.3 307.5 2830.2 311.8 2831.9C316.2 2833.7 320.6 2835.1 325.1 2836.5C329.6 2837.8 334.2 2838.9 338.8 2839.9C343.3 2840.9 348 2841.7 352.6 2842.4C357.2 2843.1 361.9 2843.7 366.5 2844.3C371.2 2844.9 375.8 2845.3 380.5 2845.8C385.1 2846.3 389.8 2846.7 394.5 2847.1C399.1 2847.4 403.8 2847.8 408.5 2848.1C413.2 2848.5 417.8 2848.8 422.5 2849.1C427.2 2849.4 431.9 2849.6 436.5 2849.9C441.2 2850.1 445.9 2850.3 450.6 2850.5C455.2 2850.7 459.9 2850.9 464.6 2851.1C469.3 2851.3 474 2851.5 478.6 2851.6C483.3 2851.8 488 2851.9 492.7 2852.1C497.4 2852.2 502.1 2852.4 506.7 2852.5C511.4 2852.7 516.1 2852.8 520.8 2852.9C525.5 2853.1 530.1 2853.2 534.8 2853.4C539.5 2853.5 544.2 2853.7 548.9 2853.8C553.5 2854 558.2 2854.1 562.9 2854.3C567.6 2854.4 572.3 2854.6 577 2854.7C581.6 2854.9 586.3 2855 591 2855.2C595.7 2855.3 600.4 2855.5 605 2855.6C609.7 2855.8 614.4 2855.9 619.1 2856.1C623.8 2856.3 628.4 2856.4 633.1 2856.6C637.8 2856.7 642.5 2856.9 647.2 2857.1C651.9 2857.2 656.5 2857.4 661.2 2857.5C665.9 2857.7 670.6 2857.9 675.3 2858C679.9 2858.2 684.6 2858.3 689.3 2858.5C694 2858.6 698.7 2858.8 703.3 2859C708 2859.1 712.7 2859.3 717.4 2859.4C722.1 2859.6 726.8 2859.7 731.4 2859.9C736.1 2860.1 740.8 2860.2 745.5 2860.4C750.2 2860.5 754.8 2860.7 759.5 2860.8C764.2 2861 768.9 2861.1 773.6 2861.3C778.2 2861.4 782.9 2861.6 787.6 2861.7C792.3 2861.8 797 2862 801.7 2862.1C806.3 2862.3 811 2862.4 815.7 2862.5C820.4 2862.7 825.1 2862.8 829.7 2862.9C834.4 2863.1 839.1 2863.2 843.8 2863.3C848.5 2863.5 853.2 2863.6 857.8 2863.7C862.5 2863.8 867.2 2863.9 871.9 2864.1C876.6 2864.2 881.2 2864.3 885.9 2864.4C890.6 2864.5 895.3 2864.6 900 2864.7C904.7 2864.8 909.3 2864.9 914 2865C918.7 2865.1 923.4 2865.2 928.1 2865.3C932.8 2865.4 937.4 2865.5 942.1 2865.6C946.8 2865.7 951.5 2865.8 956.2 2865.9C960.9 2865.9 965.5 2866 970.2 2866.1C974.9 2866.2 979.6 2866.3 984.3 2866.3C989 2866.4 993.6 2866.5 998.3 2866.5C1003 2866.6 1007.7 2866.7 1012.4 2866.7C1017.1 2866.8 1021.7 2866.9 1026.4 2866.9C1031.1 2867 1035.8 2867.1 1040.5 2867.1C1045.2 2867.2 1049.8 2867.2 1054.5 2867.3C1059.2 2867.3 1063.9 2867.4 1068.6 2867.4C1073.3 2867.5 1077.9 2867.5 1082.6 2867.6C1087.3 2867.6 1092 2867.7 1096.7 2867.7C1101.4 2867.7 1106 2867.8 1110.7 2867.8C1115.4 2867.9 1120.1 2867.9 1124.8 2867.9C1129.5 2868 1134.1 2868 1138.8 2868.1C1143.5 2868.1 1148.2 2868.1 1152.9 2868.2C1157.6 2868.2 1162.2 2868.2 1166.9 2868.3C1171.6 2868.3 1176.3 2868.3 1181 2868.3C1185.7 2868.4 1190.3 2868.4 1195 2868.4C1199.7 2868.4 1204.4 2868.5 1209.1 2868.5C1213.8 2868.5 1218.4 2868.5 1223.1 2868.6C1227.8 2868.6 1232.5 2868.6 1237.2 2868.6C1241.9 2868.7 1246.5 2868.7 1251.2 2868.7C1255.9 2868.7 1260.6 2868.8 1265.3 2868.8C1270 2868.8 1274.6 2868.8 1279.3 2868.8C1284 2868.9 1288.7 2868.9 1293.4 2868.9C1298.1 2868.9 1302.7 2868.9 1307.4 2868.9C1312.1 2869 1316.8 2869 1321.5 2869C1326.2 2869 1330.9 2869 1335.5 2869.1C1340.2 2869.1 1344.9 2869.1 1349.6 2869.1C1354.3 2869.1 1359 2869.2 1363.6 2869.2C1368.3 2869.2 1373 2869.2 1377.7 2869.2C1382.4 2869.3 1387.1 2869.3 1391.7 2869.3C1396.4 2869.3 1401.1 2869.4 1405.8 2869.4C1410.5 2869.4 1415.2 2869.4 1419.8 2869.5C1424.5 2869.5 1429.2 2869.5 1433.9 2869.5C1438.6 2869.6 1443.3 2869.6 1447.9 2869.6C1452.6 2869.6 1457.3 2869.7 1462 2869.7C1466.7 2869.7 1471.4 2869.8 1476 2869.8C1480.7 2869.8 1485.4 2869.9 1490.1 2869.9C1494.8 2869.9 1499.5 2870 1504.1 2870C1508.8 2870 1513.5 2870.1 1518.2 2870.1C1522.9 2870.1 1527.6 2870.2 1532.2 2870.2C1536.9 2870.3 1541.6 2870.3 1546.3 2870.4C1551 2870.4 1555.7 2870.5 1560.3 2870.5C1565 2870.6 1569.7 2870.6 1574.4 2870.7C1579.1 2870.7 1583.8 2870.8 1588.5 2870.8C1593.1 2870.9 1597.8 2870.9 1602.5 2871C1607.2 2871 1611.9 2871.1 1616.6 2871.2C1621.2 2871.2 1625.9 2871.3 1630.6 2871.4C1635.3 2871.4 1640 2871.5 1644.6 2871.6C1649.3 2871.7 1656.4 2871.8 1658.7 2871.8" stroke="#000000" stroke-width="3.0" fill="none"/>
<rect x="254" y="2786.4" width="26" height="26" fill="#000000"/>
<rect x="258.8" y="2799" width="26" height="26" fill="#000000"/>
<rect x="268.5" y="2822.8" width="26" height="26" fill="#000000"/>
<rect x="283" y="2805" width="26" height="26" fill="#000000"/>
<rect x="312.1" y="2830.8" width="26" height="26" fill="#000000"/>
<rect x="370.1" y="2834.4" width="26" height="26" fill="#000000"/>
<rect x="486.2" y="2837.2" width="26" height="26" fill="#000000"/>
<rect x="602.4" y="2842" width="26" height="26" fill="#000000"/>
<rect x="718.5" y="2852.1" width="26" height="26" fill="#000000"/>
<rect x="1647.4" y="2858.8" width="26" height="26" fill="#000000"/>
<path d="M266.8 2799.4C266.9 2801.7 267.1 2808.7 267.3 2813.4C267.4 2818.1 267.4 2822.8 267.6 2827.5C267.8 2832.1 267.9 2836.8 268.2 2841.5C268.6 2846.1 268.9 2850.8 269.6 2855.4C270.2 2860.1 270.9 2864.7 272.1 2869.2C273.2 2873.8 274.5 2878.3 276.4 2882.6C278.3 2886.8 280.6 2891 283.3 2894.8C286 2898.5 289.3 2902 292.7 2905.2C296 2908.4 299.8 2911.3 303.5 2914.1C307.2 2916.9 311.1 2919.5 315 2922.1C318.9 2924.7 322.8 2927.3 326.7 2929.9C330.6 2932.5 334.4 2935.2 338.2 2937.9C342 2940.6 345.8 2943.4 349.6 2946.1C353.3 2948.9 357 2951.8 360.8 2954.6C364.5 2957.5 368.2 2960.3 371.8 2963.2C375.5 2966.1 379.2 2969 382.8 2972C386.5 2974.9 390.1 2977.8 393.8 2980.7C397.5 2983.6 401.1 2986.6 404.8 2989.5C408.4 2992.4 412.1 2995.3 415.8 2998.2C419.5 3001 423.2 3003.9 426.9 3006.7C430.6 3009.6 434.3 3012.4 438.1 3015.2C441.9 3017.9 445.7 3020.7 449.5 3023.4C453.3 3026.1 457.2 3028.7 461 3031.3C464.9 3034 468.8 3036.6 472.7 3039.1C476.6 3041.7 480.6 3044.2 484.5 3046.7C488.5 3049.2 492.5 3051.7 496.5 3054.1C500.5 3056.5 504.5 3058.9 508.5 3061.3C512.5 3063.7 516.6 3066 520.6 3068.4C524.7 3070.7 528.8 3073 532.8 3075.3C536.9 3077.6 541 3079.8 545.1 3082.1C549.2 3084.3 553.4 3086.5 557.5 3088.7C561.6 3090.9 565.7 3093.1 569.9 3095.3C574 3097.5 578.2 3099.6 582.3 3101.8C586.5 3103.9 590.7 3106 594.8 3108.1C599 3110.2 603.2 3112.3 607.4 3114.4C611.6 3116.5 615.8 3118.5 620 3120.5C624.3 3122.5 628.5 3124.5 632.8 3126.4C637 3128.3 641.3 3130.2 645.6 3132.1C649.9 3133.9 654.2 3135.8 658.6 3137.5C662.9 3139.3 667.2 3141 671.6 3142.6C676 3144.3 680.4 3145.9 684.8 3147.5C689.2 3149 693.6 3150.5 698.1 3152C702.5 3153.4 707 3154.8 711.5 3156.2C715.9 3157.6 720.4 3158.9 724.9 3160.1C729.4 3161.4 734 3162.6 738.5 3163.8C743 3165 747.6 3166.1 752.1 3167.2C756.7 3168.2 761.2 3169.3 765.8 3170.3C770.4 3171.3 774.9 3172.2 779.5 3173.2C784.1 3174.1 788.7 3174.9 793.3 3175.8C797.9 3176.6 802.5 3177.4 807.1 3178.2C811.8 3179 816.4 3179.7 821 3180.4C825.6 3181.1 830.3 3181.8 834.9 3182.4C839.5 3183.1 844.2 3183.7 848.8 3184.3C853.4 3184.9 858.1 3185.4 862.7 3186C867.4 3186.5 872 3187 876.7 3187.5C881.3 3188 886 3188.5 890.6 3189C895.3 3189.5 899.9 3189.9 904.6 3190.4C909.3 3190.8 913.9 3191.2 918.6 3191.6C923.2 3192.1 927.9 3192.5 932.6 3192.9C937.2 3193.3 941.9 3193.7 946.5 3194.1C951.2 3194.5 955.9 3194.9 960.5 3195.2C965.2 3195.6 969.9 3196 974.5 3196.4C979.2 3196.8 983.8 3197.2 988.5 3197.6C993.2 3198 997.8 3198.4 1002.5 3198.8C1007.1 3199.2 1011.8 3199.6 1016.5 3200C1021.1 3200.4 1025.8 3200.8 1030.4 3201.2C1035.1 3201.6 1039.8 3202 1044.4 3202.4C1049.1 3202.8 1053.7 3203.2 1058.4 3203.7C1063.1 3204.1 1067.7 3204.5 1072.4 3204.9C1077.1 3205.3 1081.7 3205.7 1086.4 3206.1C1091 3206.5 1095.7 3206.9 1100.4 3207.3C1105 3207.7 1109.7 3208.1 1114.3 3208.5C1119 3208.9 1123.7 3209.3 1128.3 3209.7C1133 3210.1 1137.6 3210.5 1142.3 3210.9C1147 3211.2 1151.6 3211.6 1156.3 3212C1161 3212.4 1165.6 3212.8 1170.3 3213.1C1174.9 3213.5 1179.6 3213.9 1184.3 3214.3C1188.9 3214.6 1193.6 3215 1198.3 3215.3C1202.9 3215.7 1207.6 3216 1212.3 3216.4C1216.9 3216.7 1221.6 3217.1 1226.3 3217.4C1230.9 3217.7 1235.6 3218.1 1240.3 3218.4C1244.9 3218.7 1249.6 3219.1 1254.3 3219.4C1258.9 3219.7 1263.6 3220 1268.3 3220.3C1272.9 3220.6 1277.6 3221 1282.3 3221.3C1286.9 3221.6 1291.6 3221.9 1296.3 3222.2C1300.9 3222.5 1305.6 3222.8 1310.3 3223.1C1314.9 3223.3 1319.6 3223.6 1324.3 3223.9C1328.9 3224.2 1333.6 3224.5 1338.3 3224.8C1343 3225.1 1347.6 3225.3 1352.3 3225.6C1357 3225.9 1361.6 3226.2 1366.3 3226.4C1371 3226.7 1375.6 3227 1380.3 3227.3C1385 3227.5 1389.7 3227.8 1394.3 3228.1C1399 3228.3 1403.7 3228.6 1408.3 3228.9C1413 3229.2 1417.7 3229.4 1422.3 3229.7C1427 3229.9 1431.7 3230.2 1436.4 3230.5C1441 3230.7 1445.7 3231 1450.4 3231.3C1455 3231.5 1459.7 3231.8 1464.4 3232.1C1469.1 3232.3 1473.7 3232.6 1478.4 3232.9C1483.1 3233.1 1487.7 3233.4 1492.4 3233.6C1497.1 3233.9 1501.7 3234.2 1506.4 3234.4C1511.1 3234.7 1515.8 3235 1520.4 3235.3C1525.1 3235.5 1529.8 3235.8 1534.4 3236.1C1539.1 3236.3 1543.8 3236.6 1548.5 3236.9C1553.1 3237.2 1557.8 3237.4 1562.5 3237.7C1567.1 3238 1571.8 3238.3 1576.5 3238.6C1581.1 3238.9 1585.8 3239.1 1590.5 3239.4C1595.1 3239.7 1599.8 3240 1604.5 3240.3C1609.2 3240.6 1613.8 3240.9 1618.5 3241.2C1623.2 3241.5 1627.8 3241.8 1632.5 3242.1C1637.2 3242.4 1641.8 3242.7 1646.5 3243C1651.2 3243.4 1658.2 3243.8 1660.5 3244" stroke="#FF0000" stroke-width="3.0" fill="none"/>
<circle cx="267" cy="2799.4" r="14.3" fill="#FF0000"/>
<circle cx="271.8" cy="2853" r="14.3" fill="#FF0000"/>
<circle cx="281.5" cy="2893" r="14.3" fill="#FF0000"/>
<circle cx="296" cy="2916.5" r="14.3" fill="#FF0000"/>
<circle cx="325.1" cy="2921" r="14.3" fill="#FF0000"/>
<circle cx="383.1" cy="2972.2" r="14.3" fill="#FF0000"/>
<circle cx="499.2" cy="3064" r="14.3" fill="#FF0000"/>
<circle cx="615.4" cy="3113" r="14.3" fill="#FF0000"/>
<circle cx="731.5" cy="3190" r="14.3" fill="#FF0000"/>
<circle cx="1660.4" cy="3244" r="14.3" fill="#FF0000"/>
<path d="M266.8 2799.4C266.8 2801.7 266.7 2808.8 266.7 2813.5C266.6 2818.2 266.6 2822.9 266.6 2827.5C266.7 2832.2 266.7 2836.9 267 2841.6C267.3 2846.3 267.6 2851 268.2 2855.6C268.8 2860.3 269.5 2864.9 270.5 2869.5C271.5 2874.1 272.7 2878.6 274.2 2883.1C275.6 2887.5 277.3 2891.9 279.3 2896.2C281.3 2900.4 283.6 2904.5 286.2 2908.4C288.7 2912.4 291.5 2916.1 294.4 2919.8C297.3 2923.5 300.5 2927 303.5 2930.5C306.6 2934.1 309.8 2937.5 313 2941C316.1 2944.5 319.2 2948 322.2 2951.6C325.2 2955.2 328.2 2958.9 331 2962.6C333.9 2966.3 336.6 2970.1 339.4 2973.9C342.2 2977.7 344.9 2981.5 347.6 2985.3C350.3 2989.1 353 2993 355.8 2996.8C358.6 3000.5 361.3 3004.3 364.2 3008C367.1 3011.7 370 3015.4 373.1 3018.9C376.2 3022.5 379.3 3026 382.6 3029.3C385.9 3032.6 389.4 3035.8 392.9 3038.9C396.5 3041.9 400.1 3044.9 403.9 3047.7C407.6 3050.6 411.4 3053.3 415.2 3056.1C419 3058.8 422.8 3061.5 426.7 3064.2C430.5 3066.8 434.4 3069.5 438.3 3072.2C442.1 3074.8 446 3077.5 449.8 3080.2C453.6 3083 457.4 3085.7 461.2 3088.5C465 3091.3 468.7 3094.1 472.4 3097C476.1 3099.8 479.8 3102.8 483.4 3105.8C487 3108.8 490.6 3111.8 494 3115C497.5 3118.1 500.9 3121.3 504.2 3124.6C507.6 3128 510.8 3131.4 513.9 3134.9C517.1 3138.3 520.1 3141.9 523.1 3145.6C526 3149.2 528.9 3152.9 531.7 3156.7C534.5 3160.4 537.2 3164.2 539.9 3168.1C542.7 3171.9 545.3 3175.8 548 3179.6C550.6 3183.5 553.2 3187.4 555.9 3191.3C558.5 3195.2 561.1 3199.1 563.7 3202.9C566.4 3206.8 569 3210.7 571.7 3214.5C574.4 3218.4 577.1 3222.2 579.8 3226.1C582.5 3229.9 585.2 3233.7 588.1 3237.4C590.9 3241.2 593.7 3245 596.6 3248.6C599.6 3252.2 602.6 3255.8 605.8 3259.2C609 3262.7 612.4 3266 615.9 3269.1C619.4 3272.1 623.1 3275 627 3277.7C630.8 3280.4 634.9 3282.8 639 3285.1C643.1 3287.3 647.3 3289.4 651.6 3291.3C655.9 3293.2 660.2 3294.9 664.6 3296.5C669 3298.2 673.5 3299.6 678 3301C682.5 3302.4 687 3303.7 691.5 3304.9C696 3306.1 700.6 3307.2 705.2 3308.2C709.7 3309.3 714.3 3310.2 718.9 3311.1C723.5 3312 728.2 3312.9 732.8 3313.6C737.4 3314.4 742.1 3315.1 746.7 3315.7C751.4 3316.3 756 3316.9 760.7 3317.4C765.3 3318 770 3318.4 774.7 3318.9C779.3 3319.3 784 3319.7 788.7 3320C793.4 3320.4 798 3320.6 802.7 3320.9C807.4 3321.2 812.1 3321.4 816.8 3321.6C821.5 3321.9 826.2 3322 830.8 3322.2C835.5 3322.4 840.2 3322.5 844.9 3322.7C849.6 3322.8 854.3 3322.9 859 3323C863.7 3323.1 868.4 3323.2 873 3323.3C877.7 3323.4 882.4 3323.5 887.1 3323.6C891.8 3323.7 896.5 3323.8 901.2 3323.9C905.9 3324.1 910.6 3324.2 915.2 3324.3C919.9 3324.4 924.6 3324.6 929.3 3324.7C934 3324.9 938.7 3325 943.4 3325.2C948.1 3325.4 952.7 3325.5 957.4 3325.7C962.1 3325.9 966.8 3326.1 971.5 3326.3C976.2 3326.5 980.9 3326.7 985.5 3326.9C990.2 3327.1 994.9 3327.3 999.6 3327.5C1004.3 3327.7 1009 3327.9 1013.7 3328.1C1018.3 3328.4 1023 3328.6 1027.7 3328.8C1032.4 3329 1037.1 3329.3 1041.8 3329.5C1046.5 3329.7 1051.1 3330 1055.8 3330.2C1060.5 3330.4 1065.2 3330.7 1069.9 3330.9C1074.6 3331.1 1079.2 3331.4 1083.9 3331.6C1088.6 3331.8 1093.3 3332.1 1098 3332.3C1102.7 3332.5 1107.4 3332.8 1112 3333C1116.7 3333.2 1121.4 3333.5 1126.1 3333.7C1130.8 3333.9 1135.5 3334.2 1140.1 3334.4C1144.8 3334.6 1149.5 3334.8 1154.2 3335C1158.9 3335.2 1163.6 3335.5 1168.3 3335.7C1172.9 3335.9 1177.6 3336.1 1182.3 3336.3C1187 3336.5 1191.7 3336.7 1196.4 3336.9C1201.1 3337.1 1205.7 3337.2 1210.4 3337.4C1215.1 3337.6 1219.8 3337.8 1224.5 3338C1229.2 3338.2 1233.9 3338.3 1238.6 3338.5C1243.2 3338.7 1247.9 3338.9 1252.6 3339C1257.3 3339.2 1262 3339.4 1266.7 3339.5C1271.4 3339.7 1276.1 3339.8 1280.7 3340C1285.4 3340.2 1290.1 3340.3 1294.8 3340.5C1299.5 3340.6 1304.2 3340.8 1308.9 3340.9C1313.6 3341.1 1318.2 3341.2 1322.9 3341.3C1327.6 3341.5 1332.3 3341.6 1337 3341.8C1341.7 3341.9 1346.4 3342.1 1351.1 3342.2C1355.8 3342.3 1360.4 3342.5 1365.1 3342.6C1369.8 3342.7 1374.5 3342.9 1379.2 3343C1383.9 3343.1 1388.6 3343.3 1393.3 3343.4C1397.9 3343.5 1402.6 3343.7 1407.3 3343.8C1412 3343.9 1416.7 3344 1421.4 3344.2C1426.1 3344.3 1430.8 3344.4 1435.5 3344.5C1440.1 3344.7 1444.8 3344.8 1449.5 3344.9C1454.2 3345 1458.9 3345.2 1463.6 3345.3C1468.3 3345.4 1473 3345.5 1477.7 3345.7C1482.3 3345.8 1487 3345.9 1491.7 3346C1496.4 3346.2 1501.1 3346.3 1505.8 3346.4C1510.5 3346.5 1515.2 3346.7 1519.9 3346.8C1524.5 3346.9 1529.2 3347 1533.9 3347.2C1538.6 3347.3 1543.3 3347.4 1548 3347.5C1552.7 3347.7 1557.4 3347.8 1562 3347.9C1566.7 3348.1 1571.4 3348.2 1576.1 3348.3C1580.8 3348.5 1585.5 3348.6 1590.2 3348.7C1594.9 3348.9 1599.6 3349 1604.2 3349.1C1608.9 3349.3 1613.6 3349.4 1618.3 3349.6C1623 3349.7 1627.7 3349.9 1632.4 3350C1637.1 3350.1 1641.7 3350.3 1646.4 3350.4C1651.1 3350.6 1658.2 3350.8 1660.5 3350.9" stroke="#0000FF" stroke-width="3.0" fill="none"/>
<polygon points="267,2780.1 284,2809.1 250,2809.1" fill="#0000FF"/>
<polygon points="271.8,2866.7 288.8,2895.7 254.8,2895.7" fill="#0000FF"/>
<polygon points="281.5,2886 298.5,2915 264.5,2915" fill="#0000FF"/>
<polygon points="296,2915.7 313,2944.7 279,2944.7" fill="#0000FF"/>
<polygon points="325.1,2922.1 342.1,2951.1 308.1,2951.1" fill="#0000FF"/>
<polygon points="383.1,3030.6 400.1,3059.6 366.1,3059.6" fill="#0000FF"/>
<polygon points="499.2,3075.7 516.2,3104.7 482.2,3104.7" fill="#0000FF"/>
<polygon points="615.4,3278.9 632.4,3307.9 598.4,3307.9" fill="#0000FF"/>
<polygon points="731.5,3304.4 748.5,3333.4 714.5,3333.4" fill="#0000FF"/>
<path d="M266.8 2799.4C266.8 2801.7 266.5 2808.8 266.5 2813.4C266.5 2818.1 266.5 2822.8 266.7 2827.5C266.8 2832.1 267.1 2836.8 267.4 2841.5C267.7 2846.1 268.1 2850.8 268.5 2855.5C269 2860.1 269.5 2864.8 270.1 2869.4C270.7 2874 271.4 2878.7 272.1 2883.3C272.9 2887.9 273.7 2892.5 274.6 2897.1C275.5 2901.7 276.4 2906.3 277.4 2910.8C278.4 2915.4 279.5 2920 280.6 2924.5C281.8 2929 283 2933.6 284.2 2938.1C285.5 2942.6 286.8 2947.1 288.2 2951.5C289.5 2956 291 2960.5 292.4 2964.9C293.9 2969.3 295.4 2973.8 297 2978.2C298.6 2982.6 300.3 2986.9 301.9 2991.3C303.6 2995.7 305.4 3000 307.1 3004.3C308.9 3008.7 310.7 3013 312.6 3017.3C314.5 3021.6 316.4 3025.8 318.3 3030.1C320.3 3034.3 322.3 3038.6 324.3 3042.8C326.3 3047 328.4 3051.2 330.5 3055.4C332.6 3059.5 334.7 3063.7 336.9 3067.9C339 3072 341.2 3076.1 343.4 3080.3C345.7 3084.4 347.9 3088.5 350.2 3092.6C352.4 3096.7 354.7 3100.8 357 3104.8C359.3 3108.9 361.6 3113 364 3117C366.3 3121.1 368.6 3125.1 371 3129.2C373.4 3133.2 375.7 3137.2 378.1 3141.3C380.5 3145.3 382.9 3149.3 385.3 3153.3C387.7 3157.3 390.1 3161.3 392.5 3165.3C395 3169.3 397.4 3173.3 399.9 3177.3C402.3 3181.3 404.8 3185.3 407.3 3189.2C409.7 3193.2 412.2 3197.2 414.8 3201.1C417.3 3205 419.8 3209 422.4 3212.9C425 3216.8 427.6 3220.6 430.2 3224.5C432.9 3228.4 435.5 3232.2 438.2 3236C440.9 3239.9 443.6 3243.7 446.4 3247.4C449.2 3251.2 452 3255 454.8 3258.7C457.7 3262.4 460.5 3266.1 463.5 3269.7C466.4 3273.4 469.4 3277 472.4 3280.6C475.4 3284.1 478.5 3287.7 481.6 3291.2C484.7 3294.7 487.8 3298.1 491.1 3301.5C494.3 3304.9 497.5 3308.3 500.8 3311.6C504.2 3314.9 507.5 3318.1 510.9 3321.3C514.4 3324.5 517.8 3327.6 521.3 3330.7C524.9 3333.8 528.4 3336.8 532 3339.8C535.6 3342.8 539.3 3345.7 542.9 3348.6C546.6 3351.5 550.4 3354.3 554.1 3357.1C557.9 3359.9 561.7 3362.6 565.5 3365.3C569.3 3368 573.2 3370.7 577.1 3373.3C580.9 3375.9 584.8 3378.5 588.7 3381.1C592.6 3383.7 596.6 3386.2 600.5 3388.7C604.4 3391.3 608.3 3393.8 612.3 3396.4C616.2 3398.9 620.1 3401.5 624 3404C628 3406.5 631.9 3409.1 635.9 3411.5C639.8 3414 643.8 3416.5 647.8 3418.9C651.9 3421.3 655.9 3423.6 660 3425.8C664.1 3428.1 668.3 3430.2 672.5 3432.3C676.7 3434.3 681 3436.3 685.2 3438.2C689.5 3440 693.8 3441.8 698.2 3443.6C702.5 3445.3 706.9 3446.9 711.3 3448.5C715.7 3450.1 720.1 3451.6 724.6 3453.1C729 3454.6 733.5 3455.9 738 3457.3C742.5 3458.6 747 3459.9 751.5 3461.1C756 3462.3 760.5 3463.4 765.1 3464.5C769.6 3465.6 774.2 3466.7 778.8 3467.7C783.3 3468.7 787.9 3469.6 792.5 3470.5C797.1 3471.4 801.7 3472.2 806.3 3473C810.9 3473.9 815.5 3474.6 820.1 3475.4C824.8 3476.1 829.4 3476.8 834 3477.4C838.6 3478.1 843.3 3478.7 847.9 3479.3C852.6 3479.9 857.2 3480.5 861.9 3481C866.5 3481.6 871.1 3482.1 875.8 3482.6C880.4 3483.1 885.1 3483.6 889.8 3484C894.4 3484.5 899.1 3484.9 903.7 3485.3C908.4 3485.8 913 3486.2 917.7 3486.6C922.4 3487 927 3487.4 931.7 3487.7C936.4 3488.1 941 3488.5 945.7 3488.9C950.3 3489.2 955 3489.6 959.7 3490C964.3 3490.3 969 3490.7 973.7 3491.1C978.3 3491.4 983 3491.8 987.7 3492.1C992.3 3492.5 997 3492.8 1001.6 3493.2C1006.3 3493.5 1011 3493.8 1015.6 3494.2C1020.3 3494.5 1025 3494.8 1029.6 3495.2C1034.3 3495.5 1039 3495.8 1043.6 3496.1C1048.3 3496.4 1053 3496.8 1057.6 3497.1C1062.3 3497.4 1067 3497.7 1071.6 3498C1076.3 3498.3 1081 3498.6 1085.6 3498.9C1090.3 3499.2 1095 3499.5 1099.7 3499.7C1104.3 3500 1109 3500.3 1113.7 3500.6C1118.3 3500.9 1123 3501.1 1127.7 3501.4C1132.3 3501.7 1137 3501.9 1141.7 3502.2C1146.4 3502.5 1151 3502.7 1155.7 3503C1160.4 3503.2 1165 3503.5 1169.7 3503.7C1174.4 3504 1179 3504.2 1183.7 3504.4C1188.4 3504.7 1193.1 3504.9 1197.7 3505.2C1202.4 3505.4 1207.1 3505.6 1211.8 3505.8C1216.4 3506.1 1221.1 3506.3 1225.8 3506.5C1230.4 3506.7 1235.1 3506.9 1239.8 3507.1C1244.5 3507.4 1249.1 3507.6 1253.8 3507.8C1258.5 3508 1263.2 3508.2 1267.8 3508.4C1272.5 3508.6 1277.2 3508.8 1281.8 3509C1286.5 3509.2 1291.2 3509.3 1295.9 3509.5C1300.5 3509.7 1305.2 3509.9 1309.9 3510.1C1314.6 3510.3 1319.2 3510.5 1323.9 3510.6C1328.6 3510.8 1333.3 3511 1337.9 3511.2C1342.6 3511.4 1347.3 3511.5 1352 3511.7C1356.6 3511.9 1361.3 3512.1 1366 3512.2C1370.7 3512.4 1375.3 3512.6 1380 3512.7C1384.7 3512.9 1389.4 3513.1 1394 3513.2C1398.7 3513.4 1403.4 3513.5 1408.1 3513.7C1412.7 3513.9 1417.4 3514 1422.1 3514.2C1426.8 3514.3 1431.4 3514.5 1436.1 3514.7C1440.8 3514.8 1445.5 3515 1450.1 3515.1C1454.8 3515.3 1459.5 3515.4 1464.2 3515.6C1468.8 3515.7 1473.5 3515.9 1478.2 3516.1C1482.9 3516.2 1487.5 3516.4 1492.2 3516.5C1496.9 3516.7 1501.6 3516.8 1506.2 3517C1510.9 3517.1 1515.6 3517.3 1520.3 3517.4C1524.9 3517.6 1529.6 3517.7 1534.3 3517.9C1539 3518 1543.6 3518.2 1548.3 3518.3C1553 3518.5 1557.7 3518.7 1562.3 3518.8C1567 3519 1571.7 3519.1 1576.4 3519.3C1581 3519.4 1585.7 3519.6 1590.4 3519.7C1595.1 3519.9 1599.7 3520.1 1604.4 3520.2C1609.1 3520.4 1613.8 3520.5 1618.4 3520.7C1623.1 3520.9 1627.8 3521 1632.5 3521.2C1637.1 3521.4 1641.8 3521.5 1646.5 3521.7C1651.2 3521.9 1658.2 3522.1 1660.5 3522.2" stroke="#FF00FF" stroke-width="3.0" fill="none"/>
<polygon points="250,2789.7 284,2789.7 267,2818.7" fill="#FF00FF"/>
<polygon points="254.8,2800.3 288.8,2800.3 271.8,2829.3" fill="#FF00FF"/>
<polygon points="264.5,2884.3 298.5,2884.3 281.5,2913.3" fill="#FF00FF"/>
<polygon points="279,2957.3 313,2957.3 296,2986.3" fill="#FF00FF"/>
<polygon points="308.1,3047.3 342.1,3047.3 325.1,3076.3" fill="#FF00FF"/>
<polygon points="366.1,3135.3 400.1,3135.3 383.1,3164.3" fill="#FF00FF"/>
<polygon points="482.2,3321.1 516.2,3321.1 499.2,3350.1" fill="#FF00FF"/>
<polygon points="598.4,3383.3 632.4,3383.3 615.4,3412.3" fill="#FF00FF"/>
<path d="M266.8 2799.4C267.2 2801.7 268.3 2808.6 269 2813.2C269.7 2817.9 270.3 2822.5 270.8 2827.2C271.4 2831.8 271.9 2836.4 272.3 2841.1C272.7 2845.8 273.1 2850.4 273.4 2855.1C273.7 2859.7 274 2864.4 274.3 2869.1C274.5 2873.7 274.7 2878.4 274.9 2883.1C275.1 2887.8 275.2 2892.4 275.3 2897.1C275.5 2901.8 275.5 2906.5 275.6 2911.1C275.7 2915.8 275.8 2920.5 275.8 2925.1C275.9 2929.8 275.9 2934.5 275.9 2939.2C276 2943.8 276 2948.5 276 2953.2C276 2957.9 276.1 2962.5 276.1 2967.2C276.2 2971.9 276.2 2976.6 276.3 2981.2C276.4 2985.9 276.5 2990.6 276.6 2995.3C276.7 2999.9 276.8 3004.6 277 3009.3C277.2 3014 277.3 3018.6 277.6 3023.3C277.8 3028 278.1 3032.6 278.4 3037.3C278.7 3042 279.1 3046.6 279.5 3051.3C279.9 3055.9 280.3 3060.6 280.9 3065.2C281.4 3069.9 281.9 3074.5 282.6 3079.1C283.2 3083.8 283.9 3088.4 284.7 3093C285.5 3097.6 286.3 3102.2 287.2 3106.8C288.1 3111.4 289.1 3116 290.2 3120.5C291.3 3125 292.5 3129.6 293.7 3134.1C295 3138.6 296.3 3143.1 297.8 3147.5C299.3 3151.9 300.8 3156.4 302.5 3160.7C304.1 3165.1 305.9 3169.4 307.8 3173.7C309.6 3178 311.6 3182.2 313.7 3186.4C315.8 3190.6 318 3194.7 320.2 3198.8C322.5 3202.9 324.9 3206.9 327.4 3210.9C329.8 3214.9 332.4 3218.8 335 3222.6C337.7 3226.5 340.4 3230.3 343.2 3234C346 3237.8 348.9 3241.5 351.8 3245.1C354.8 3248.7 357.8 3252.3 360.9 3255.8C364 3259.3 367.1 3262.8 370.3 3266.2C373.5 3269.6 376.8 3272.9 380 3276.3C383.3 3279.6 386.7 3282.9 390 3286.1C393.4 3289.4 396.8 3292.6 400.2 3295.8C403.6 3299 407.1 3302.1 410.5 3305.2C414 3308.4 417.5 3311.5 421 3314.6C424.5 3317.7 428 3320.8 431.5 3323.9C435 3327 438.5 3330.1 442 3333.2C445.5 3336.2 449 3339.3 452.5 3342.4C456 3345.5 459.5 3348.6 463 3351.7C466.5 3354.9 470 3358 473.4 3361.2C476.8 3364.3 480.3 3367.5 483.7 3370.7C487.1 3373.9 490.4 3377.2 493.7 3380.5C497.1 3383.8 500.4 3387.1 503.6 3390.4C506.8 3393.8 510.1 3397.2 513.2 3400.7C516.4 3404.1 519.5 3407.6 522.6 3411.1C525.7 3414.6 528.7 3418.2 531.7 3421.8C534.7 3425.3 537.7 3429 540.6 3432.6C543.5 3436.3 546.4 3439.9 549.2 3443.6C552.1 3447.4 554.9 3451.1 557.6 3454.9C560.4 3458.6 563.2 3462.4 565.9 3466.2C568.6 3470 571.3 3473.9 573.9 3477.7C576.6 3481.5 579.3 3485.4 581.9 3489.2C584.6 3493.1 587.2 3496.9 589.9 3500.8C592.5 3504.6 595.2 3508.5 597.9 3512.3C600.6 3516.1 603.3 3519.9 606 3523.7C608.7 3527.5 611.5 3531.3 614.3 3535C617.1 3538.7 620 3542.4 622.9 3546.1C625.8 3549.8 628.7 3553.4 631.8 3557C634.8 3560.5 637.8 3564.1 641 3567.5C644.1 3571 647.3 3574.4 650.6 3577.8C653.8 3581.1 657.2 3584.4 660.6 3587.6C664 3590.8 667.4 3593.9 671 3597C674.5 3600.1 678.1 3603 681.8 3605.9C685.5 3608.8 689.2 3611.6 693.1 3614.3C696.9 3616.9 700.8 3619.5 704.8 3622C708.7 3624.4 712.8 3626.8 716.9 3629C721 3631.3 725.2 3633.4 729.4 3635.4C733.6 3637.5 737.8 3639.4 742.1 3641.2C746.4 3643.1 750.8 3644.8 755.1 3646.4C759.5 3648.1 763.9 3649.7 768.3 3651.2C772.8 3652.7 777.2 3654.1 781.7 3655.5C786.2 3656.8 790.7 3658.1 795.2 3659.4C799.7 3660.6 804.2 3661.8 808.7 3662.9C813.3 3664.1 817.8 3665.2 822.4 3666.2C826.9 3667.3 831.5 3668.3 836 3669.3C840.6 3670.3 845.2 3671.2 849.8 3672.1C854.4 3673 859 3673.9 863.5 3674.8C868.1 3675.7 872.7 3676.5 877.4 3677.3C882 3678.1 886.6 3678.8 891.2 3679.6C895.8 3680.3 900.4 3681.1 905 3681.7C909.7 3682.4 914.3 3683.1 918.9 3683.8C923.5 3684.4 928.2 3685 932.8 3685.6C937.5 3686.2 942.1 3686.8 946.7 3687.4C951.4 3687.9 956 3688.5 960.7 3689C965.3 3689.5 970 3690 974.6 3690.5C979.3 3691 983.9 3691.5 988.6 3691.9C993.2 3692.4 997.9 3692.8 1002.5 3693.3C1007.2 3693.7 1011.8 3694.1 1016.5 3694.5C1021.1 3694.9 1025.8 3695.3 1030.5 3695.7C1035.1 3696.1 1039.8 3696.5 1044.4 3696.9C1049.1 3697.3 1053.8 3697.6 1058.4 3698C1063.1 3698.3 1067.7 3698.7 1072.4 3699.1C1077.1 3699.4 1081.7 3699.8 1086.4 3700.1C1091 3700.5 1095.7 3700.8 1100.4 3701.1C1105 3701.5 1109.7 3701.8 1114.4 3702.2C1119 3702.5 1123.7 3702.8 1128.3 3703.1C1133 3703.5 1137.7 3703.8 1142.3 3704.1C1147 3704.4 1151.7 3704.7 1156.3 3705.1C1161 3705.4 1165.6 3705.7 1170.3 3706C1175 3706.3 1179.6 3706.6 1184.3 3706.9C1189 3707.2 1193.6 3707.5 1198.3 3707.8C1203 3708.1 1207.6 3708.4 1212.3 3708.7C1217 3709 1221.6 3709.2 1226.3 3709.5C1231 3709.8 1235.6 3710.1 1240.3 3710.4C1245 3710.6 1249.6 3710.9 1254.3 3711.2C1259 3711.5 1263.6 3711.7 1268.3 3712C1273 3712.3 1277.6 3712.5 1282.3 3712.8C1287 3713 1291.6 3713.3 1296.3 3713.6C1301 3713.8 1305.6 3714.1 1310.3 3714.3C1315 3714.6 1319.6 3714.8 1324.3 3715.1C1329 3715.3 1333.6 3715.6 1338.3 3715.8C1343 3716.1 1347.6 3716.3 1352.3 3716.6C1357 3716.8 1361.7 3717 1366.3 3717.3C1371 3717.5 1375.7 3717.8 1380.3 3718C1385 3718.2 1389.7 3718.5 1394.3 3718.7C1399 3718.9 1403.7 3719.2 1408.3 3719.4C1413 3719.6 1417.7 3719.8 1422.3 3720.1C1427 3720.3 1431.7 3720.5 1436.4 3720.7C1441 3721 1445.7 3721.2 1450.4 3721.4C1455 3721.6 1459.7 3721.8 1464.4 3722.1C1469 3722.3 1473.7 3722.5 1478.4 3722.7C1483 3722.9 1487.7 3723.2 1492.4 3723.4C1497.1 3723.6 1501.7 3723.8 1506.4 3724C1511.1 3724.2 1515.7 3724.4 1520.4 3724.7C1525.1 3724.9 1529.7 3725.1 1534.4 3725.3C1539.1 3725.5 1543.8 3725.7 1548.4 3725.9C1553.1 3726.1 1557.8 3726.4 1562.4 3726.6C1567.1 3726.8 1571.8 3727 1576.4 3727.2C1581.1 3727.4 1585.8 3727.6 1590.5 3727.8C1595.1 3728 1599.8 3728.3 1604.5 3728.5C1609.1 3728.7 1613.8 3728.9 1618.5 3729.1C1623.1 3729.3 1627.8 3729.5 1632.5 3729.7C1637.2 3729.9 1641.8 3730.1 1646.5 3730.4C1651.2 3730.6 1658.2 3730.9 1660.5 3731" stroke="#008000" stroke-width="3.0" fill="none"/>
<polygon points="267,2781.4 285,2799.4 267,2817.4 249,2799.4" fill="#008000"/>
<polygon points="271.8,2876.8 289.8,2894.8 271.8,2912.8 253.8,2894.8" fill="#008000"/>
<polygon points="281.5,3075.4 299.5,3093.4 281.5,3111.4 263.5,3093.4" fill="#008000"/>
<polygon points="296,3148.8 314,3166.8 296,3184.8 278,3166.8" fill="#008000"/>
<polygon points="325.1,3191.3 343.1,3209.3 325.1,3227.3 307.1,3209.3" fill="#008000"/>
<polygon points="383.1,3265.2 401.1,3283.2 383.1,3301.2 365.1,3283.2" fill="#008000"/>
<polygon points="499.2,3367 517.2,3385 499.2,3403 481.2,3385" fill="#008000"/>
<path d="M266.8 4163.6C268.7 4162.3 274.5 4158.4 278.5 4156C282.5 4153.6 286.6 4151.3 290.7 4149.1C294.9 4147 299.1 4144.9 303.4 4143C307.6 4141.1 312 4139.4 316.3 4137.7C320.7 4136.1 325.1 4134.6 329.6 4133.2C334 4131.8 338.5 4130.6 343 4129.4C347.6 4128.3 352.1 4127.3 356.7 4126.4C361.3 4125.4 365.9 4124.6 370.5 4123.9C375.1 4123.2 379.7 4122.6 384.4 4122C389 4121.5 393.7 4121.1 398.3 4120.7C403 4120.3 407.6 4120 412.3 4119.8C416.9 4119.6 421.6 4119.4 426.3 4119.3C430.9 4119.2 435.6 4119.1 440.3 4119.1C444.9 4119.1 449.6 4119.1 454.3 4119.2C458.9 4119.2 463.6 4119.3 468.3 4119.5C472.9 4119.6 477.6 4119.7 482.3 4119.9C486.9 4120 491.6 4120.2 496.3 4120.4C500.9 4120.6 505.6 4120.7 510.3 4120.9C514.9 4121.1 519.6 4121.3 524.2 4121.4C528.9 4121.6 533.6 4121.8 538.2 4121.9C542.9 4122 547.6 4122.1 552.2 4122.2C556.9 4122.3 561.6 4122.4 566.2 4122.4C570.9 4122.4 575.6 4122.4 580.2 4122.4C584.9 4122.4 589.6 4122.4 594.2 4122.3C598.9 4122.3 603.6 4122.2 608.2 4122.1C612.9 4122 617.6 4121.9 622.2 4121.7C626.9 4121.6 631.6 4121.4 636.2 4121.3C640.9 4121.1 645.6 4120.9 650.2 4120.7C654.9 4120.4 659.5 4120.2 664.2 4119.9C668.9 4119.7 673.5 4119.4 678.2 4119.1C682.8 4118.8 687.5 4118.5 692.2 4118.2C696.8 4117.9 701.5 4117.5 706.1 4117.1C710.8 4116.8 715.4 4116.4 720.1 4116C724.7 4115.6 729.4 4115.2 734 4114.8C738.7 4114.4 743.3 4113.9 748 4113.5C752.6 4113 757.3 4112.6 761.9 4112.1C766.5 4111.6 771.2 4111.1 775.8 4110.6C780.5 4110.1 785.1 4109.6 789.7 4109.1C794.4 4108.6 799 4108 803.7 4107.5C808.3 4106.9 812.9 4106.4 817.6 4105.8C822.2 4105.3 826.8 4104.7 831.4 4104.1C836.1 4103.5 840.7 4102.9 845.3 4102.3C850 4101.7 854.6 4101.1 859.2 4100.5C863.8 4099.9 868.5 4099.3 873.1 4098.6C877.7 4098 882.3 4097.4 887 4096.7C891.6 4096.1 896.2 4095.4 900.8 4094.8C905.5 4094.1 910.1 4093.5 914.7 4092.8C919.3 4092.2 923.9 4091.5 928.6 4090.8C933.2 4090.1 937.8 4089.5 942.4 4088.8C947 4088.1 951.6 4087.4 956.3 4086.7C960.9 4086 965.5 4085.3 970.1 4084.6C974.7 4083.9 979.3 4083.2 983.9 4082.5C988.6 4081.8 993.2 4081.1 997.8 4080.4C1002.4 4079.7 1007 4078.9 1011.6 4078.2C1016.2 4077.5 1020.8 4076.8 1025.5 4076C1030.1 4075.3 1034.7 4074.6 1039.3 4073.8C1043.9 4073.1 1048.5 4072.3 1053.1 4071.6C1057.7 4070.8 1062.3 4070.1 1066.9 4069.3C1071.5 4068.6 1076.1 4067.8 1080.7 4067C1085.3 4066.3 1089.9 4065.5 1094.5 4064.8C1099.2 4064 1103.8 4063.2 1108.4 4062.4C1113 4061.7 1117.6 4060.9 1122.2 4060.1C1126.8 4059.3 1131.4 4058.6 1136 4057.8C1140.6 4057 1145.2 4056.2 1149.8 4055.4C1154.4 4054.6 1159 4053.8 1163.6 4053.1C1168.2 4052.3 1172.8 4051.5 1177.4 4050.7C1182 4049.9 1186.6 4049.1 1191.2 4048.3C1195.8 4047.5 1200.4 4046.7 1205 4045.9C1209.6 4045.1 1214.2 4044.3 1218.8 4043.5C1223.4 4042.7 1228 4041.9 1232.6 4041.1C1237.1 4040.3 1241.7 4039.4 1246.3 4038.6C1250.9 4037.8 1255.5 4037 1260.1 4036.2C1264.7 4035.4 1269.3 4034.6 1273.9 4033.8C1278.5 4033 1283.1 4032.2 1287.7 4031.4C1292.3 4030.5 1296.9 4029.7 1301.5 4028.9C1306.1 4028.1 1310.7 4027.3 1315.3 4026.5C1319.9 4025.7 1324.5 4024.9 1329.1 4024C1333.7 4023.2 1338.3 4022.4 1342.9 4021.6C1347.5 4020.8 1352.1 4020 1356.7 4019.2C1361.3 4018.4 1365.8 4017.6 1370.4 4016.7C1375 4015.9 1379.6 4015.1 1384.2 4014.3C1388.8 4013.5 1393.4 4012.7 1398 4011.9C1402.6 4011.1 1407.2 4010.3 1411.8 4009.5C1416.4 4008.7 1421 4007.9 1425.6 4007.1C1430.2 4006.3 1434.8 4005.5 1439.4 4004.7C1444 4003.9 1448.6 4003.1 1453.2 4002.3C1457.8 4001.5 1462.4 4000.7 1467 3999.9C1471.6 3999.2 1476.2 3998.4 1480.8 3997.6C1485.4 3996.8 1490 3996 1494.6 3995.2C1499.2 3994.5 1503.8 3993.7 1508.4 3992.9C1513 3992.1 1517.6 3991.4 1522.2 3990.6C1526.8 3989.8 1531.4 3989 1536 3988.3C1540.6 3987.5 1545.3 3986.8 1549.9 3986C1554.5 3985.2 1559.1 3984.5 1563.7 3983.7C1568.3 3983 1572.9 3982.2 1577.5 3981.5C1582.1 3980.7 1586.7 3980 1591.3 3979.3C1595.9 3978.5 1600.5 3977.8 1605.1 3977.1C1609.8 3976.3 1614.4 3975.6 1619 3974.9C1623.6 3974.2 1628.2 3973.4 1632.8 3972.7C1637.4 3972 1642 3971.3 1646.7 3970.6C1651.3 3969.9 1658.2 3968.8 1660.5 3968.5" stroke="#000000" stroke-width="3.0" fill="none" stroke-dasharray="12.4 7.6"/>
<rect x="256.2" y="4152.9" width="21.5" height="21.5" fill="#fff" stroke="#000000" stroke-width="3.4"/>
<rect x="261.1" y="4151.2" width="21.5" height="21.5" fill="#fff" stroke="#000000" stroke-width="3.4"/>
<rect x="285.3" y="4129.9" width="21.5" height="21.5" fill="#fff" stroke="#000000" stroke-width="3.4"/>
<rect x="372.4" y="4103.8" width="21.5" height="21.5" fill="#fff" stroke="#000000" stroke-width="3.4"/>
<rect x="488.5" y="4111.6" width="21.5" height="21.5" fill="#fff" stroke="#000000" stroke-width="3.4"/>
<rect x="720.7" y="4118.8" width="21.5" height="21.5" fill="#fff" stroke="#000000" stroke-width="3.4"/>
<rect x="1649.7" y="3957.8" width="21.5" height="21.5" fill="#fff" stroke="#000000" stroke-width="3.4"/>
<path d="M266.8 4163.6C266.9 4161.3 267.2 4154.3 267.4 4149.6C267.5 4144.9 267.7 4140.3 267.8 4135.6C267.9 4130.9 268 4126.3 268.1 4121.6C268.2 4116.9 268.3 4112.3 268.4 4107.6C268.4 4102.9 268.5 4098.3 268.6 4093.6C268.6 4088.9 268.7 4084.2 268.7 4079.6C268.7 4074.9 268.8 4070.2 268.8 4065.6C268.9 4060.9 268.9 4056.2 269 4051.6C269 4046.9 269.1 4042.2 269.1 4037.6C269.2 4032.9 269.3 4028.2 269.4 4023.5C269.5 4018.9 269.6 4014.2 269.7 4009.5C269.9 4004.9 270 4000.2 270.2 3995.5C270.3 3990.9 270.5 3986.2 270.8 3981.5C271 3976.9 271.2 3972.2 271.5 3967.6C271.8 3962.9 272.1 3958.2 272.5 3953.6C272.8 3948.9 273.2 3944.3 273.6 3939.6C274.1 3935 274.5 3930.3 275 3925.7C275.5 3921 276.1 3916.4 276.7 3911.8C277.3 3907.1 277.9 3902.5 278.7 3897.9C279.4 3893.3 280.1 3888.7 280.9 3884.1C281.8 3879.5 282.7 3874.9 283.6 3870.3C284.6 3865.8 285.6 3861.2 286.7 3856.7C287.8 3852.1 289 3847.6 290.2 3843.1C291.5 3838.6 292.8 3834.1 294.3 3829.7C295.7 3825.3 297.2 3820.8 298.8 3816.5C300.5 3812.1 302.2 3807.7 304 3803.4C305.8 3799.1 307.7 3794.9 309.8 3790.7C311.8 3786.5 313.9 3782.3 316.2 3778.2C318.4 3774.1 320.7 3770.1 323.2 3766.1C325.6 3762.1 328.1 3758.1 330.7 3754.3C333.3 3750.4 336 3746.6 338.7 3742.8C341.5 3739 344.4 3735.3 347.3 3731.7C350.2 3728.1 353.2 3724.5 356.3 3720.9C359.3 3717.4 362.5 3714 365.7 3710.6C368.9 3707.2 372.1 3703.8 375.5 3700.5C378.8 3697.3 382.2 3694.1 385.6 3690.9C389 3687.7 392.5 3684.6 396 3681.5C399.6 3678.5 403.1 3675.5 406.7 3672.5C410.3 3669.5 413.9 3666.5 417.6 3663.6C421.2 3660.7 424.9 3657.8 428.5 3654.9C432.2 3652 435.9 3649.2 439.6 3646.3C443.3 3643.5 447 3640.7 450.7 3637.8C454.4 3635 458.2 3632.1 461.9 3629.3C465.6 3626.4 469.3 3623.6 472.9 3620.7C476.6 3617.8 480.3 3615 483.9 3612C487.6 3609.1 491.2 3606.2 494.8 3603.3C498.5 3600.3 502.1 3597.4 505.7 3594.4C509.4 3591.5 513 3588.5 516.6 3585.6C520.2 3582.7 523.9 3579.7 527.5 3576.8C531.2 3573.9 534.8 3571 538.5 3568.1C542.2 3565.2 545.8 3562.4 549.6 3559.5C553.3 3556.7 557 3553.9 560.8 3551.2C564.6 3548.4 568.3 3545.7 572.2 3543C576 3540.4 579.9 3537.7 583.8 3535.2C587.7 3532.6 591.7 3530.2 595.7 3527.8C599.7 3525.4 603.7 3523 607.8 3520.8C611.9 3518.6 616.1 3516.4 620.3 3514.4C624.5 3512.3 628.7 3510.4 633 3508.6C637.3 3506.8 641.7 3505.1 646.1 3503.5C650.5 3501.9 654.9 3500.4 659.3 3499C663.8 3497.6 668.3 3496.3 672.8 3495C677.3 3493.8 681.8 3492.6 686.3 3491.5C690.9 3490.3 695.4 3489.3 700 3488.2C704.5 3487.2 709.1 3486.2 713.6 3485.2C718.2 3484.3 722.8 3483.3 727.4 3482.4C731.9 3481.4 736.5 3480.5 741.1 3479.6C745.7 3478.7 750.2 3477.7 754.8 3476.8C759.4 3475.9 764 3474.9 768.5 3474C773.1 3473.1 777.7 3472.2 782.3 3471.2C786.9 3470.3 791.4 3469.4 796 3468.5C800.6 3467.5 805.2 3466.6 809.7 3465.7C814.3 3464.8 818.9 3463.9 823.5 3463C828.1 3462 832.6 3461.1 837.2 3460.2C841.8 3459.3 846.4 3458.4 851 3457.5C855.5 3456.6 860.1 3455.7 864.7 3454.8C869.3 3453.9 873.9 3453 878.4 3452.1C883 3451.2 887.6 3450.3 892.2 3449.4C896.8 3448.6 901.4 3447.7 906 3446.8C910.5 3445.9 915.1 3445 919.7 3444.2C924.3 3443.3 928.9 3442.4 933.5 3441.6C938.1 3440.7 942.7 3439.9 947.3 3439C951.8 3438.2 956.4 3437.3 961 3436.5C965.6 3435.6 970.2 3434.8 974.8 3434C979.4 3433.1 984 3432.3 988.6 3431.5C993.2 3430.7 997.8 3429.8 1002.4 3429C1007 3428.2 1011.6 3427.4 1016.2 3426.6C1020.8 3425.7 1025.4 3424.9 1030 3424.1C1034.6 3423.3 1039.2 3422.5 1043.8 3421.7C1048.4 3420.8 1053 3420 1057.6 3419.2C1062.2 3418.4 1066.8 3417.6 1071.4 3416.7C1075.9 3415.9 1080.5 3415.1 1085.1 3414.3C1089.7 3413.4 1094.3 3412.6 1098.9 3411.8C1103.5 3411 1108.1 3410.1 1112.7 3409.3C1117.3 3408.4 1121.9 3407.6 1126.5 3406.7C1131.1 3405.9 1135.7 3405 1140.3 3404.2C1144.8 3403.3 1149.4 3402.4 1154 3401.5C1158.6 3400.7 1163.2 3399.8 1167.8 3398.9C1172.4 3398 1176.9 3397.1 1181.5 3396.2C1186.1 3395.3 1190.7 3394.3 1195.2 3393.4C1199.8 3392.5 1204.4 3391.5 1209 3390.6C1213.5 3389.6 1218.1 3388.7 1222.7 3387.7C1227.2 3386.7 1231.8 3385.7 1236.4 3384.8C1240.9 3383.8 1245.5 3382.8 1250.1 3381.8C1254.6 3380.8 1259.2 3379.8 1263.7 3378.7C1268.3 3377.7 1272.8 3376.7 1277.4 3375.7C1282 3374.6 1286.5 3373.6 1291.1 3372.6C1295.6 3371.5 1300.2 3370.5 1304.7 3369.4C1309.3 3368.4 1313.8 3367.3 1318.4 3366.3C1322.9 3365.2 1327.5 3364.1 1332 3363.1C1336.6 3362 1341.1 3360.9 1345.6 3359.9C1350.2 3358.8 1354.7 3357.7 1359.3 3356.7C1363.8 3355.6 1368.4 3354.5 1372.9 3353.4C1377.5 3352.4 1382 3351.3 1386.5 3350.2C1391.1 3349.1 1395.6 3348.1 1400.2 3347C1404.7 3345.9 1409.3 3344.8 1413.8 3343.8C1418.3 3342.7 1422.9 3341.6 1427.4 3340.5C1432 3339.5 1436.5 3338.4 1441.1 3337.3C1445.6 3336.3 1450.2 3335.2 1454.7 3334.2C1459.3 3333.1 1463.8 3332 1468.4 3331C1472.9 3330 1477.5 3328.9 1482 3327.9C1486.6 3326.8 1491.1 3325.8 1495.7 3324.8C1500.2 3323.7 1504.8 3322.7 1509.4 3321.7C1513.9 3320.7 1518.5 3319.7 1523 3318.7C1527.6 3317.7 1532.2 3316.7 1536.7 3315.7C1541.3 3314.7 1545.9 3313.8 1550.4 3312.8C1555 3311.8 1559.6 3310.9 1564.1 3309.9C1568.7 3309 1573.3 3308.1 1577.9 3307.1C1582.4 3306.2 1587 3305.3 1591.6 3304.4C1596.2 3303.5 1600.8 3302.6 1605.3 3301.7C1609.9 3300.8 1614.5 3300 1619.1 3299.1C1623.7 3298.3 1628.3 3297.4 1632.9 3296.6C1637.5 3295.8 1642.1 3294.9 1646.7 3294.1C1651.3 3293.3 1658.2 3292.2 1660.5 3291.8" stroke="#FF0000" stroke-width="3.0" fill="none" stroke-dasharray="12.4 7.6"/>
<circle cx="267" cy="4163.6" r="12.2" fill="#fff" stroke="#FF0000" stroke-width="3.4"/>
<circle cx="271.8" cy="3985.5" r="12.2" fill="#fff" stroke="#FF0000" stroke-width="3.4"/>
<circle cx="281.5" cy="3861.5" r="12.2" fill="#fff" stroke="#FF0000" stroke-width="3.4"/>
<circle cx="296" cy="3835.3" r="12.2" fill="#fff" stroke="#FF0000" stroke-width="3.4"/>
<circle cx="325.1" cy="3762.4" r="12.2" fill="#fff" stroke="#FF0000" stroke-width="3.4"/>
<circle cx="383.1" cy="3691" r="12.2" fill="#fff" stroke="#FF0000" stroke-width="3.4"/>
<circle cx="499.2" cy="3602.8" r="12.2" fill="#fff" stroke="#FF0000" stroke-width="3.4"/>
<circle cx="615.4" cy="3497.5" r="12.2" fill="#fff" stroke="#FF0000" stroke-width="3.4"/>
<circle cx="731.5" cy="3493" r="12.2" fill="#fff" stroke="#FF0000" stroke-width="3.4"/>
<circle cx="1660.4" cy="3291.8" r="12.2" fill="#fff" stroke="#FF0000" stroke-width="3.4"/>
<path d="M266.8 4163.6C266.8 4161.3 266.7 4154.3 266.7 4149.6C266.7 4144.9 266.6 4140.3 266.6 4135.6C266.6 4131 266.7 4126.3 266.7 4121.6C266.7 4117 266.8 4112.3 266.8 4107.6C266.9 4103 266.9 4098.3 267 4093.7C267.1 4089 267.2 4084.3 267.3 4079.7C267.4 4075 267.5 4070.3 267.6 4065.7C267.7 4061 267.8 4056.4 268 4051.7C268.1 4047 268.2 4042.4 268.4 4037.7C268.5 4033 268.7 4028.4 268.8 4023.7C269 4019.1 269.1 4014.4 269.3 4009.7C269.4 4005.1 269.6 4000.4 269.7 3995.8C269.9 3991.1 270.1 3986.4 270.2 3981.8C270.4 3977.1 270.5 3972.5 270.7 3967.8C270.8 3963.1 271 3958.5 271.1 3953.8C271.3 3949.2 271.4 3944.5 271.6 3939.8C271.7 3935.2 271.9 3930.5 272 3925.8C272.1 3921.2 272.3 3916.5 272.4 3911.9C272.5 3907.2 272.6 3902.5 272.7 3897.9C272.8 3893.2 272.9 3888.5 273 3883.9C273.1 3879.2 273.3 3874.6 273.4 3869.9C273.6 3865.2 273.8 3860.6 274 3855.9C274.3 3851.3 274.6 3846.6 275 3842C275.4 3837.3 275.8 3832.7 276.4 3828C276.9 3823.4 277.6 3818.8 278.4 3814.2C279.2 3809.6 280.1 3805 281.1 3800.5C282.2 3795.9 283.4 3791.4 284.7 3787C286.1 3782.5 287.6 3778.1 289.4 3773.8C291.1 3769.4 293 3765.2 295 3761C297 3756.8 299.2 3752.6 301.4 3748.6C303.7 3744.5 306.1 3740.5 308.6 3736.5C311.1 3732.6 313.7 3728.7 316.3 3724.9C318.9 3721 321.7 3717.2 324.4 3713.5C327.2 3709.7 330 3706 332.9 3702.3C335.7 3698.6 338.6 3695 341.5 3691.3C344.4 3687.7 347.4 3684.1 350.3 3680.4C353.2 3676.8 356.2 3673.2 359.1 3669.6C362 3665.9 365 3662.3 367.9 3658.7C370.8 3655 373.7 3651.4 376.6 3647.7C379.5 3644.1 382.4 3640.4 385.2 3636.7C388.1 3633 390.9 3629.3 393.8 3625.6C396.6 3621.9 399.4 3618.2 402.2 3614.5C405 3610.7 407.7 3607 410.5 3603.2C413.2 3599.4 415.9 3595.6 418.6 3591.8C421.3 3588 424 3584.2 426.6 3580.3C429.2 3576.5 431.8 3572.6 434.4 3568.7C436.9 3564.8 439.5 3560.9 442.1 3557C444.6 3553.1 447.2 3549.2 449.9 3545.4C452.6 3541.6 455.3 3537.8 458.1 3534.1C460.9 3530.4 463.8 3526.7 466.8 3523.1C469.9 3519.6 473 3516.1 476.3 3512.9C479.7 3509.6 483.1 3506.5 486.9 3503.7C490.6 3501 494.6 3498.4 498.8 3496.5C503 3494.5 507.6 3493.1 512.1 3492.1C516.6 3491.1 521.3 3490.7 526 3490.6C530.6 3490.4 535.3 3490.7 539.9 3491.1C544.6 3491.5 549.2 3492.3 553.8 3493C558.4 3493.8 563 3494.8 567.5 3495.7C572.1 3496.6 576.6 3497.6 581.2 3498.6C585.8 3499.5 590.4 3500.5 594.9 3501.3C599.5 3502.1 604.1 3502.8 608.8 3503.3C613.4 3503.9 618.1 3504.2 622.7 3504.4C627.4 3504.6 632.1 3504.6 636.7 3504.4C641.4 3504.3 646 3504 650.7 3503.6C655.3 3503.2 660 3502.7 664.6 3502.1C669.2 3501.5 673.8 3500.8 678.4 3500.1C683 3499.3 687.6 3498.5 692.2 3497.7C696.8 3496.9 701.4 3496 706 3495.2C710.6 3494.4 715.2 3493.5 719.7 3492.7C724.3 3491.9 728.9 3491.1 733.5 3490.3C738.1 3489.5 742.7 3488.7 747.3 3487.9C751.9 3487.1 756.5 3486.3 761.1 3485.5C765.7 3484.7 770.3 3484 774.9 3483.2C779.5 3482.4 784.1 3481.7 788.7 3480.9C793.3 3480.2 797.9 3479.4 802.5 3478.7C807.1 3478 811.7 3477.2 816.3 3476.5C820.9 3475.8 825.5 3475.1 830.2 3474.4C834.8 3473.6 839.4 3472.9 844 3472.2C848.6 3471.5 853.2 3470.8 857.8 3470.1C862.4 3469.4 867 3468.8 871.6 3468.1C876.3 3467.4 880.9 3466.7 885.5 3466C890.1 3465.3 894.7 3464.7 899.3 3464C903.9 3463.3 908.6 3462.7 913.2 3462C917.8 3461.3 922.4 3460.7 927 3460C931.6 3459.3 936.3 3458.7 940.9 3458C945.5 3457.4 950.1 3456.7 954.7 3456.1C959.3 3455.4 964 3454.8 968.6 3454.1C973.2 3453.5 977.8 3452.8 982.4 3452.2C987.1 3451.5 991.7 3450.9 996.3 3450.2C1000.9 3449.6 1005.5 3448.9 1010.1 3448.3C1014.8 3447.6 1019.4 3447 1024 3446.3C1028.6 3445.7 1033.2 3445 1037.9 3444.4C1042.5 3443.7 1047.1 3443.1 1051.7 3442.4C1056.3 3441.8 1060.9 3441.1 1065.6 3440.5C1070.2 3439.8 1074.8 3439.2 1079.4 3438.5C1084 3437.8 1088.6 3437.2 1093.3 3436.5C1097.9 3435.8 1102.5 3435.2 1107.1 3434.5C1111.7 3433.8 1116.3 3433.2 1120.9 3432.5C1125.6 3431.8 1130.2 3431.1 1134.8 3430.4C1139.4 3429.8 1144 3429.1 1148.6 3428.4C1153.2 3427.7 1157.8 3427 1162.5 3426.3C1167.1 3425.6 1171.7 3424.9 1176.3 3424.2C1180.9 3423.5 1185.5 3422.7 1190.1 3422C1194.7 3421.3 1199.3 3420.6 1203.9 3419.9C1208.5 3419.1 1213.1 3418.4 1217.7 3417.7C1222.4 3416.9 1227 3416.2 1231.6 3415.4C1236.2 3414.7 1240.8 3414 1245.4 3413.2C1250 3412.5 1254.6 3411.7 1259.2 3411C1263.8 3410.2 1268.4 3409.5 1273 3408.7C1277.6 3408 1282.2 3407.2 1286.8 3406.5C1291.4 3405.7 1296 3404.9 1300.6 3404.2C1305.2 3403.4 1309.8 3402.7 1314.4 3401.9C1319 3401.2 1323.6 3400.4 1328.2 3399.6C1332.8 3398.9 1337.4 3398.1 1342 3397.4C1346.6 3396.6 1351.2 3395.9 1355.8 3395.1C1360.4 3394.4 1365 3393.6 1369.6 3392.9C1374.2 3392.1 1378.8 3391.3 1383.4 3390.6C1388 3389.9 1392.6 3389.1 1397.2 3388.4C1401.9 3387.6 1406.5 3386.9 1411.1 3386.1C1415.7 3385.4 1420.3 3384.7 1424.9 3383.9C1429.5 3383.2 1434.1 3382.5 1438.7 3381.8C1443.3 3381 1447.9 3380.3 1452.5 3379.6C1457.1 3378.9 1461.7 3378.2 1466.3 3377.5C1471 3376.8 1475.6 3376.1 1480.2 3375.4C1484.8 3374.7 1489.4 3374 1494 3373.3C1498.6 3372.6 1503.2 3371.9 1507.9 3371.2C1512.5 3370.6 1517.1 3369.9 1521.7 3369.2C1526.3 3368.6 1530.9 3367.9 1535.5 3367.3C1540.2 3366.6 1544.8 3366 1549.4 3365.4C1554 3364.7 1558.6 3364.1 1563.3 3363.5C1567.9 3362.9 1572.5 3362.2 1577.1 3361.6C1581.8 3361 1586.4 3360.4 1591 3359.9C1595.6 3359.3 1600.3 3358.7 1604.9 3358.1C1609.5 3357.6 1614.2 3357 1618.8 3356.5C1623.4 3355.9 1628.1 3355.4 1632.7 3354.8C1637.3 3354.3 1642 3353.8 1646.6 3353.3C1651.2 3352.8 1658.2 3352 1660.5 3351.8" stroke="#0000FF" stroke-width="3.0" fill="none" stroke-dasharray="12.4 7.6"/>
<polygon points="267,4146.9 282.2,4171.9 251.8,4171.9" fill="#fff" stroke="#0000FF" stroke-width="3.4"/>
<polygon points="271.8,3883.3 287.1,3908.3 256.6,3908.3" fill="#fff" stroke="#0000FF" stroke-width="3.4"/>
<polygon points="281.5,3832.9 296.8,3857.9 266.3,3857.9" fill="#fff" stroke="#0000FF" stroke-width="3.4"/>
<polygon points="296,3722.3 311.3,3747.3 280.8,3747.3" fill="#fff" stroke="#0000FF" stroke-width="3.4"/>
<polygon points="325.1,3693.3 340.3,3718.3 309.8,3718.3" fill="#fff" stroke="#0000FF" stroke-width="3.4"/>
<polygon points="383.1,3629.6 398.4,3654.6 367.9,3654.6" fill="#fff" stroke="#0000FF" stroke-width="3.4"/>
<polygon points="499.2,3435.4 514.5,3460.4 484,3460.4" fill="#fff" stroke="#0000FF" stroke-width="3.4"/>
<polygon points="615.4,3510.3 630.6,3535.3 600.1,3535.3" fill="#fff" stroke="#0000FF" stroke-width="3.4"/>
<polygon points="731.5,3473.3 746.7,3498.3 716.2,3498.3" fill="#fff" stroke="#0000FF" stroke-width="3.4"/>
<polygon points="1660.4,3335.1 1675.7,3360.1 1645.2,3360.1" fill="#fff" stroke="#0000FF" stroke-width="3.4"/>
<path d="M266.8 4163.6C266.9 4161.3 267.2 4154.2 267.4 4149.6C267.6 4144.9 267.7 4140.2 267.8 4135.5C268 4130.9 268 4126.2 268.1 4121.5C268.2 4116.8 268.3 4112.1 268.3 4107.5C268.4 4102.8 268.4 4098.1 268.4 4093.4C268.4 4088.7 268.4 4084 268.4 4079.4C268.4 4074.7 268.4 4070 268.4 4065.3C268.4 4060.6 268.4 4056 268.4 4051.3C268.4 4046.6 268.4 4041.9 268.4 4037.2C268.4 4032.6 268.4 4027.9 268.5 4023.2C268.5 4018.5 268.5 4013.8 268.6 4009.1C268.6 4004.5 268.7 3999.8 268.7 3995.1C268.8 3990.4 268.9 3985.7 269 3981.1C269.2 3976.4 269.3 3971.7 269.5 3967C269.7 3962.4 269.9 3957.7 270.1 3953C270.3 3948.3 270.6 3943.6 270.9 3939C271.2 3934.3 271.5 3929.6 271.9 3925C272.3 3920.3 272.7 3915.6 273.2 3911C273.6 3906.3 274.1 3901.7 274.7 3897C275.2 3892.4 275.8 3887.7 276.5 3883.1C277.1 3878.5 277.9 3873.8 278.6 3869.2C279.4 3864.6 280.2 3860 281 3855.4C281.9 3850.8 282.8 3846.2 283.8 3841.6C284.7 3837 285.7 3832.5 286.8 3827.9C287.9 3823.3 289 3818.8 290.2 3814.3C291.3 3809.7 292.5 3805.2 293.8 3800.7C295.1 3796.2 296.4 3791.7 297.8 3787.2C299.2 3782.8 300.6 3778.3 302.1 3773.9C303.6 3769.4 305.2 3765 306.7 3760.6C308.3 3756.2 310 3751.8 311.7 3747.5C313.3 3743.1 315.1 3738.7 316.9 3734.4C318.6 3730.1 320.5 3725.8 322.4 3721.5C324.2 3717.2 326.1 3712.9 328.1 3708.7C330.1 3704.4 332.1 3700.2 334.1 3696C336.2 3691.8 338.3 3687.6 340.4 3683.4C342.5 3679.3 344.7 3675.1 346.9 3671C349.1 3666.9 351.4 3662.8 353.7 3658.7C356.1 3654.7 358.5 3650.6 361 3646.7C363.5 3642.7 366.1 3638.8 368.8 3635C371.5 3631.2 374.3 3627.5 377.3 3623.9C380.3 3620.3 383.4 3616.7 386.7 3613.4C390 3610.1 393.4 3606.9 397 3603.9C400.7 3601 404.5 3598.2 408.4 3595.7C412.3 3593.2 416.5 3590.9 420.7 3588.9C424.9 3586.9 429.3 3585.2 433.7 3583.7C438.2 3582.2 442.7 3581.1 447.2 3579.9C451.7 3578.7 456.3 3577.7 460.9 3576.5C465.4 3575.3 470 3574.3 474.4 3572.9C478.9 3571.5 483.4 3570.1 487.7 3568.3C492 3566.5 496.3 3564.5 500.4 3562.3C504.5 3560.1 508.5 3557.6 512.4 3555C516.2 3552.4 520 3549.5 523.6 3546.6C527.2 3543.6 530.7 3540.5 534.2 3537.3C537.6 3534.2 541 3530.9 544.3 3527.6C547.7 3524.3 550.9 3521 554.3 3517.7C557.6 3514.4 560.9 3511.1 564.3 3507.9C567.7 3504.6 571.1 3501.4 574.6 3498.3C578.1 3495.3 581.7 3492.2 585.4 3489.4C589.2 3486.6 593 3483.9 597 3481.5C601.1 3479.1 605.2 3477 609.6 3475.2C613.9 3473.5 618.5 3472.2 623 3471.3C627.6 3470.3 632.3 3469.7 636.9 3469.4C641.6 3469 646.3 3469 651 3469.1C655.6 3469.1 660.3 3469.5 665 3469.8C669.7 3470.1 674.3 3470.5 679 3470.9C683.7 3471.4 688.3 3471.8 693 3472.2C697.6 3472.6 702.3 3473 707 3473.4C711.6 3473.9 716.3 3474.3 721 3474.7C725.6 3475.1 730.3 3475.5 734.9 3475.9C739.6 3476.3 744.3 3476.7 748.9 3477C753.6 3477.4 758.3 3477.8 762.9 3478.2C767.6 3478.6 772.3 3479 776.9 3479.3C781.6 3479.7 786.3 3480.1 790.9 3480.4C795.6 3480.8 800.3 3481.2 804.9 3481.5C809.6 3481.9 814.3 3482.3 818.9 3482.6C823.6 3483 828.3 3483.3 832.9 3483.7C837.6 3484 842.3 3484.4 846.9 3484.7C851.6 3485 856.3 3485.4 860.9 3485.7C865.6 3486 870.3 3486.4 875 3486.7C879.6 3487 884.3 3487.4 889 3487.7C893.6 3488 898.3 3488.3 903 3488.6C907.6 3489 912.3 3489.3 917 3489.6C921.7 3489.9 926.3 3490.2 931 3490.5C935.7 3490.8 940.3 3491.1 945 3491.4C949.7 3491.7 954.4 3492 959 3492.3C963.7 3492.6 968.4 3492.9 973 3493.2C977.7 3493.5 982.4 3493.7 987.1 3494C991.7 3494.3 996.4 3494.6 1001.1 3494.9C1005.8 3495.1 1010.4 3495.4 1015.1 3495.7C1019.8 3496 1024.4 3496.2 1029.1 3496.5C1033.8 3496.8 1038.5 3497 1043.1 3497.3C1047.8 3497.6 1052.5 3497.8 1057.2 3498.1C1061.8 3498.3 1066.5 3498.6 1071.2 3498.8C1075.9 3499.1 1080.5 3499.3 1085.2 3499.6C1089.9 3499.8 1094.6 3500.1 1099.2 3500.3C1103.9 3500.6 1108.6 3500.8 1113.3 3501.1C1117.9 3501.3 1122.6 3501.5 1127.3 3501.8C1132 3502 1136.6 3502.3 1141.3 3502.5C1146 3502.7 1150.7 3502.9 1155.3 3503.2C1160 3503.4 1164.7 3503.6 1169.4 3503.9C1174 3504.1 1178.7 3504.3 1183.4 3504.5C1188.1 3504.7 1192.7 3505 1197.4 3505.2C1202.1 3505.4 1206.8 3505.6 1211.4 3505.8C1216.1 3506 1220.8 3506.2 1225.5 3506.5C1230.2 3506.7 1234.8 3506.9 1239.5 3507.1C1244.2 3507.3 1248.9 3507.5 1253.5 3507.7C1258.2 3507.9 1262.9 3508.1 1267.6 3508.3C1272.2 3508.5 1276.9 3508.7 1281.6 3508.9C1286.3 3509.1 1290.9 3509.3 1295.6 3509.5C1300.3 3509.7 1305 3509.9 1309.7 3510.1C1314.3 3510.3 1319 3510.5 1323.7 3510.7C1328.4 3510.8 1333 3511 1337.7 3511.2C1342.4 3511.4 1347.1 3511.6 1351.8 3511.8C1356.4 3512 1361.1 3512.1 1365.8 3512.3C1370.5 3512.5 1375.1 3512.7 1379.8 3512.9C1384.5 3513.1 1389.2 3513.2 1393.9 3513.4C1398.5 3513.6 1403.2 3513.8 1407.9 3514C1412.6 3514.1 1417.2 3514.3 1421.9 3514.5C1426.6 3514.7 1431.3 3514.8 1436 3515C1440.6 3515.2 1445.3 3515.4 1450 3515.5C1454.7 3515.7 1459.3 3515.9 1464 3516C1468.7 3516.2 1473.4 3516.4 1478.1 3516.6C1482.7 3516.7 1487.4 3516.9 1492.1 3517.1C1496.8 3517.2 1501.4 3517.4 1506.1 3517.6C1510.8 3517.7 1515.5 3517.9 1520.2 3518.1C1524.8 3518.2 1529.5 3518.4 1534.2 3518.6C1538.9 3518.7 1543.5 3518.9 1548.2 3519.1C1552.9 3519.2 1557.6 3519.4 1562.3 3519.6C1566.9 3519.7 1571.6 3519.9 1576.3 3520.1C1581 3520.2 1585.6 3520.4 1590.3 3520.5C1595 3520.7 1599.7 3520.9 1604.4 3521C1609 3521.2 1613.7 3521.4 1618.4 3521.5C1623.1 3521.7 1627.8 3521.9 1632.4 3522C1637.1 3522.2 1641.8 3522.3 1646.5 3522.5C1651.1 3522.7 1658.2 3522.9 1660.5 3523" stroke="#FF00FF" stroke-width="3.0" fill="none" stroke-dasharray="12.4 7.6"/>
<polygon points="251.8,4155.3 282.2,4155.3 267,4180.3" fill="#fff" stroke="#FF00FF" stroke-width="3.4"/>
<polygon points="256.6,3891.7 287.1,3891.7 271.8,3916.7" fill="#fff" stroke="#FF00FF" stroke-width="3.4"/>
<polygon points="266.3,3805.7 296.8,3805.7 281.5,3830.7" fill="#fff" stroke="#FF00FF" stroke-width="3.4"/>
<polygon points="280.8,3805.7 311.3,3805.7 296,3830.7" fill="#fff" stroke="#FF00FF" stroke-width="3.4"/>
<polygon points="309.8,3712.7 340.3,3712.7 325.1,3737.7" fill="#fff" stroke="#FF00FF" stroke-width="3.4"/>
<polygon points="367.9,3572.5 398.4,3572.5 383.1,3597.5" fill="#fff" stroke="#FF00FF" stroke-width="3.4"/>
<polygon points="484,3579.5 514.5,3579.5 499.2,3604.5" fill="#fff" stroke="#FF00FF" stroke-width="3.4"/>
<polygon points="600.1,3434.7 630.6,3434.7 615.4,3459.7" fill="#fff" stroke="#FF00FF" stroke-width="3.4"/>
<polygon points="716.2,3483.4 746.7,3483.4 731.5,3508.4" fill="#fff" stroke="#FF00FF" stroke-width="3.4"/>
<polygon points="1645.2,3514.9 1675.7,3514.9 1660.4,3539.9" fill="#fff" stroke="#FF00FF" stroke-width="3.4"/>
<path d="M266.8 4163.6C267 4161.3 267.8 4154.3 268.1 4149.6C268.4 4144.9 268.5 4140.2 268.5 4135.5C268.6 4130.8 268.5 4126.1 268.4 4121.4C268.3 4116.7 268.1 4112 268 4107.3C267.8 4102.6 267.6 4097.9 267.4 4093.2C267.3 4088.5 267.1 4083.8 267.1 4079.1C267 4074.4 266.9 4069.7 267 4065C267.1 4060.3 267.3 4055.6 267.6 4050.9C268 4046.2 268.5 4041.5 269.1 4036.9C269.7 4032.2 270.5 4027.6 271.4 4023C272.3 4018.4 273.4 4013.8 274.6 4009.3C275.7 4004.7 277.1 4000.2 278.5 3995.7C280 3991.3 281.6 3986.8 283.3 3982.5C285 3978.1 286.8 3973.7 288.8 3969.5C290.7 3965.2 292.8 3961 294.9 3956.8C297.1 3952.6 299.4 3948.5 301.7 3944.4C304.1 3940.4 306.5 3936.4 309 3932.4C311.6 3928.4 314.2 3924.5 316.8 3920.6C319.4 3916.7 322.1 3912.9 324.8 3909C327.5 3905.2 330.3 3901.4 333 3897.5C335.7 3893.7 338.5 3889.9 341.2 3886C343.9 3882.2 346.6 3878.4 349.2 3874.5C351.9 3870.6 354.5 3866.7 357.1 3862.8C359.6 3858.8 362.1 3854.8 364.5 3850.8C366.9 3846.8 369.2 3842.7 371.5 3838.5C373.7 3834.4 375.8 3830.2 377.9 3826C379.9 3821.7 381.9 3817.5 383.8 3813.2C385.8 3808.9 387.7 3804.6 389.5 3800.3C391.4 3796 393.2 3791.6 395 3787.3C396.8 3782.9 398.5 3778.6 400.3 3774.2C402.1 3769.9 403.9 3765.6 405.7 3761.2C407.5 3756.9 409.4 3752.6 411.2 3748.2C413.1 3743.9 415 3739.6 416.9 3735.3C418.8 3731 420.8 3726.8 422.8 3722.5C424.8 3718.3 426.8 3714 428.9 3709.8C430.9 3705.6 433 3701.4 435.2 3697.2C437.4 3693.1 439.6 3688.9 441.9 3684.8C444.2 3680.7 446.5 3676.6 449 3672.6C451.4 3668.6 453.8 3664.6 456.4 3660.6C458.9 3656.7 461.6 3652.8 464.3 3648.9C467 3645.1 469.7 3641.3 472.6 3637.6C475.5 3633.8 478.4 3630.2 481.4 3626.6C484.5 3623 487.6 3619.5 490.8 3616C494 3612.6 497.3 3609.2 500.7 3606C504.1 3602.7 507.5 3599.5 511.1 3596.5C514.7 3593.4 518.3 3590.4 522.1 3587.6C525.8 3584.8 529.7 3582.1 533.7 3579.7C537.7 3577.3 541.9 3575 546.1 3573.1C550.4 3571.1 554.9 3569.4 559.4 3568.2C563.9 3567 568.6 3566.1 573.2 3565.8C577.9 3565.4 582.7 3565.4 587.3 3565.9C592 3566.4 596.7 3567.4 601.1 3568.8C605.5 3570.3 609.8 3572.4 613.9 3574.7C617.9 3577.1 621.6 3580.1 625.3 3583C629 3585.9 632.4 3589.1 636.1 3592C639.7 3595 643.4 3597.9 647.2 3600.6C651.1 3603.3 655.1 3605.9 659.1 3608.3C663.1 3610.7 667.3 3612.9 671.5 3615C675.6 3617.2 679.9 3619.2 684.2 3621.1C688.5 3623 692.8 3624.9 697.1 3626.7C701.5 3628.4 705.9 3630.2 710.2 3631.9C714.6 3633.6 719 3635.2 723.4 3636.8C727.9 3638.4 732.3 3640 736.7 3641.5C741.2 3643 745.7 3644.5 750.1 3645.9C754.6 3647.4 759.1 3648.8 763.6 3650.1C768.1 3651.5 772.6 3652.8 777.1 3654.1C781.6 3655.4 786.2 3656.7 790.7 3657.9C795.2 3659.1 799.8 3660.3 804.3 3661.4C808.9 3662.5 813.5 3663.7 818 3664.7C822.6 3665.8 827.2 3666.8 831.8 3667.9C836.4 3668.9 841 3669.8 845.6 3670.8C850.2 3671.7 854.8 3672.7 859.4 3673.5C864 3674.4 868.6 3675.3 873.3 3676.1C877.9 3677 882.5 3677.8 887.2 3678.5C891.8 3679.3 896.4 3680.1 901.1 3680.8C905.7 3681.5 910.4 3682.2 915 3682.9C919.7 3683.6 924.3 3684.2 929 3684.9C933.6 3685.5 938.3 3686.1 943 3686.7C947.6 3687.3 952.3 3687.9 957 3688.5C961.6 3689 966.3 3689.6 971 3690.1C975.6 3690.6 980.3 3691.1 985 3691.6C989.6 3692.1 994.3 3692.6 999 3693C1003.7 3693.5 1008.4 3693.9 1013 3694.4C1017.7 3694.8 1022.4 3695.2 1027.1 3695.6C1031.8 3696 1036.4 3696.4 1041.1 3696.8C1045.8 3697.2 1050.5 3697.6 1055.2 3698C1059.9 3698.3 1064.5 3698.7 1069.2 3699C1073.9 3699.4 1078.6 3699.8 1083.3 3700.1C1088 3700.4 1092.7 3700.8 1097.4 3701.1C1102 3701.5 1106.7 3701.8 1111.4 3702.1C1116.1 3702.4 1120.8 3702.8 1125.5 3703.1C1130.2 3703.4 1134.9 3703.7 1139.6 3704.1C1144.2 3704.4 1148.9 3704.7 1153.6 3705C1158.3 3705.3 1163 3705.6 1167.7 3705.9C1172.4 3706.2 1177.1 3706.5 1181.8 3706.8C1186.4 3707.1 1191.1 3707.4 1195.8 3707.7C1200.5 3708 1205.2 3708.3 1209.9 3708.6C1214.6 3708.9 1219.3 3709.1 1224 3709.4C1228.7 3709.7 1233.4 3710 1238 3710.3C1242.7 3710.5 1247.4 3710.8 1252.1 3711.1C1256.8 3711.3 1261.5 3711.6 1266.2 3711.9C1270.9 3712.1 1275.6 3712.4 1280.3 3712.7C1285 3712.9 1289.7 3713.2 1294.4 3713.4C1299 3713.7 1303.7 3714 1308.4 3714.2C1313.1 3714.5 1317.8 3714.7 1322.5 3715C1327.2 3715.2 1331.9 3715.5 1336.6 3715.7C1341.3 3716 1346 3716.2 1350.7 3716.4C1355.4 3716.7 1360.1 3716.9 1364.7 3717.2C1369.4 3717.4 1374.1 3717.6 1378.8 3717.9C1383.5 3718.1 1388.2 3718.3 1392.9 3718.6C1397.6 3718.8 1402.3 3719 1407 3719.3C1411.7 3719.5 1416.4 3719.7 1421.1 3720C1425.8 3720.2 1430.5 3720.4 1435.2 3720.6C1439.9 3720.9 1444.5 3721.1 1449.2 3721.3C1453.9 3721.5 1458.6 3721.7 1463.3 3722C1468 3722.2 1472.7 3722.4 1477.4 3722.6C1482.1 3722.8 1486.8 3723.1 1491.5 3723.3C1496.2 3723.5 1500.9 3723.7 1505.6 3723.9C1510.3 3724.2 1515 3724.4 1519.7 3724.6C1524.4 3724.8 1529 3725 1533.7 3725.2C1538.4 3725.4 1543.1 3725.7 1547.8 3725.9C1552.5 3726.1 1557.2 3726.3 1561.9 3726.5C1566.6 3726.7 1571.3 3726.9 1576 3727.1C1580.7 3727.4 1585.4 3727.6 1590.1 3727.8C1594.8 3728 1599.5 3728.2 1604.2 3728.4C1608.9 3728.6 1613.6 3728.9 1618.2 3729.1C1622.9 3729.3 1627.6 3729.5 1632.3 3729.7C1637 3729.9 1641.7 3730.1 1646.4 3730.4C1651.1 3730.6 1658.2 3730.9 1660.5 3731" stroke="#008000" stroke-width="3.0" fill="none" stroke-dasharray="12.4 7.6"/>
<polygon points="267,4147.6 283,4163.6 267,4179.6 251,4163.6" fill="#fff" stroke="#008000" stroke-width="3.4"/>
<polygon points="271.8,3894 287.8,3910 271.8,3926 255.8,3910" fill="#fff" stroke="#008000" stroke-width="3.4"/>
<polygon points="281.5,4004.5 297.5,4020.5 281.5,4036.5 265.5,4020.5" fill="#fff" stroke="#008000" stroke-width="3.4"/>
<polygon points="296,3916.9 312,3932.9 296,3948.9 280,3932.9" fill="#fff" stroke="#008000" stroke-width="3.4"/>
<polygon points="325.1,3912.3 341.1,3928.3 325.1,3944.3 309.1,3928.3" fill="#fff" stroke="#008000" stroke-width="3.4"/>
<polygon points="383.1,3806 399.1,3822 383.1,3838 367.1,3822" fill="#fff" stroke="#008000" stroke-width="3.4"/>
<polygon points="499.2,3557.6 515.2,3573.6 499.2,3589.6 483.2,3573.6" fill="#fff" stroke="#008000" stroke-width="3.4"/>
<polygon points="615.4,3531.7 631.4,3547.7 615.4,3563.7 599.4,3547.7" fill="#fff" stroke="#008000" stroke-width="3.4"/>
<polygon points="731.5,3677.2 747.5,3693.2 731.5,3709.2 715.5,3693.2" fill="#fff" stroke="#008000" stroke-width="3.4"/>
<polygon points="1660.4,3715 1676.4,3731 1660.4,3747 1644.4,3731" fill="#fff" stroke="#008000" stroke-width="3.4"/>
<path d="M271.8 2775.3V2799M271.8 2825V2848.7M256 2775.3H287.6M256 2848.7H287.6M281.5 2799.1V2822.8M281.5 2848.8V2872.5M265.7 2799.1H297.3M265.7 2872.5H297.3M296 2781.3V2805M296 2831V2854.7M280.2 2781.3H311.8M280.2 2854.7H311.8M325.1 2807.1V2830.8M325.1 2856.8V2880.5M309.3 2807.1H340.9M309.3 2880.5H340.9M383.1 2810.7V2834.4M383.1 2860.4V2884.1M367.3 2810.7H398.9M367.3 2884.1H398.9M499.2 2813.5V2837.2M499.2 2863.2V2886.9M483.4 2813.5H515M483.4 2886.9H515M615.4 2818.3V2842M615.4 2868V2891.7M599.6 2818.3H631.2M599.6 2891.7H631.2M731.5 2828.4V2852.1M731.5 2878.1V2901.8M715.7 2828.4H747.3M715.7 2901.8H747.3M1660.4 2835.1V2858.8M1660.4 2884.8V2908.5M1644.6 2835.1H1676.2M1644.6 2908.5H1676.2" stroke="#000000" stroke-width="3.0" fill="none"/>
<path d="M271.8 2816.3V2838.7M271.8 2867.3V2889.7M256 2816.3H287.6M256 2889.7H287.6M281.5 2856.3V2878.7M281.5 2907.3V2929.7M265.7 2856.3H297.3M265.7 2929.7H297.3M296 2879.8V2902.2M296 2930.8V2953.2M280.2 2879.8H311.8M280.2 2953.2H311.8M325.1 2884.3V2906.7M325.1 2935.3V2957.7M309.3 2884.3H340.9M309.3 2957.7H340.9M383.1 2935.5V2957.9M383.1 2986.5V3008.9M367.3 2935.5H398.9M367.3 3008.9H398.9M499.2 3027.3V3049.7M499.2 3078.3V3100.7M483.4 3027.3H515M483.4 3100.7H515M615.4 3076.3V3098.7M615.4 3127.3V3149.7M599.6 3076.3H631.2M599.6 3149.7H631.2M731.5 3153.3V3175.7M731.5 3204.3V3226.7M715.7 3153.3H747.3M715.7 3226.7H747.3M1660.4 3207.3V3229.7M1660.4 3258.3V3280.7M1644.6 3207.3H1676.2M1644.6 3280.7H1676.2" stroke="#FF0000" stroke-width="3.0" fill="none"/>
<path d="M271.8 2849.3V2867M271.8 2902.5V2922.7M256 2849.3H287.6M256 2922.7H287.6M281.5 2868.6V2886.3M281.5 2921.8V2942M265.7 2868.6H297.3M265.7 2942H297.3M296 2898.3V2916M296 2951.5V2971.7M280.2 2898.3H311.8M280.2 2971.7H311.8M325.1 2904.7V2922.4M325.1 2957.9V2978.1M309.3 2904.7H340.9M309.3 2978.1H340.9M383.1 3013.2V3030.9M383.1 3066.4V3086.6M367.3 3013.2H398.9M367.3 3086.6H398.9M499.2 3058.3V3076M499.2 3111.5V3131.7M483.4 3058.3H515M483.4 3131.7H515M615.4 3261.5V3279.2M615.4 3314.7V3334.9M599.6 3261.5H631.2M599.6 3334.9H631.2M731.5 3287V3304.7M731.5 3340.2V3360.4M715.7 3287H747.3M715.7 3360.4H747.3" stroke="#0000FF" stroke-width="3.0" fill="none"/>
<path d="M271.8 2773.3V2793.5M271.8 2829V2846.7M256 2773.3H287.6M256 2846.7H287.6M281.5 2857.3V2877.5M281.5 2913V2930.7M265.7 2857.3H297.3M265.7 2930.7H297.3M296 2930.3V2950.5M296 2986V3003.7M280.2 2930.3H311.8M280.2 3003.7H311.8M325.1 3020.3V3040.5M325.1 3076V3093.7M309.3 3020.3H340.9M309.3 3093.7H340.9M383.1 3108.3V3128.5M383.1 3164V3181.7M367.3 3108.3H398.9M367.3 3181.7H398.9M499.2 3294.1V3314.3M499.2 3349.8V3367.5M483.4 3294.1H515M483.4 3367.5H515M615.4 3356.3V3376.5M615.4 3412V3429.7M599.6 3356.3H631.2M599.6 3429.7H631.2" stroke="#FF00FF" stroke-width="3.0" fill="none"/>
<path d="M271.8 2858.1V2876.8M271.8 2912.8V2931.5M256 2858.1H287.6M256 2931.5H287.6M281.5 3056.7V3075.4M281.5 3111.4V3130.1M265.7 3056.7H297.3M265.7 3130.1H297.3M296 3130.1V3148.8M296 3184.8V3203.5M280.2 3130.1H311.8M280.2 3203.5H311.8M325.1 3172.6V3191.3M325.1 3227.3V3246M309.3 3172.6H340.9M309.3 3246H340.9M383.1 3246.5V3265.2M383.1 3301.2V3319.9M367.3 3246.5H398.9M367.3 3319.9H398.9M499.2 3348.3V3367M499.2 3403V3421.7M483.4 3348.3H515M483.4 3421.7H515" stroke="#008000" stroke-width="3.0" fill="none"/>
<path d="M271.8 4125.3V4149M271.8 4175V4198.7M256 4125.3H287.6M256 4198.7H287.6M296 4103.9V4127.6M296 4153.6V4177.3M280.2 4103.9H311.8M280.2 4177.3H311.8M383.1 4077.8V4101.5M383.1 4127.5V4151.2M367.3 4077.8H398.9M367.3 4151.2H398.9M499.2 4085.7V4109.4M499.2 4135.4V4159.1M483.4 4085.7H515M483.4 4159.1H515M731.5 4092.8V4116.5M731.5 4142.5V4166.2M715.7 4092.8H747.3M715.7 4166.2H747.3M1660.4 3931.8V3955.5M1660.4 3981.5V4005.2M1644.6 3931.8H1676.2M1644.6 4005.2H1676.2" stroke="#000000" stroke-width="3.0" fill="none"/>
<path d="M271.8 3948.8V3971.2M271.8 3999.8V4022.2M256 3948.8H287.6M256 4022.2H287.6M281.5 3824.8V3847.2M281.5 3875.8V3898.2M265.7 3824.8H297.3M265.7 3898.2H297.3M296 3798.6V3821M296 3849.6V3872M280.2 3798.6H311.8M280.2 3872H311.8M325.1 3725.7V3748.1M325.1 3776.7V3799.1M309.3 3725.7H340.9M309.3 3799.1H340.9M383.1 3654.3V3676.7M383.1 3705.3V3727.7M367.3 3654.3H398.9M367.3 3727.7H398.9M499.2 3566.1V3588.5M499.2 3617.1V3639.5M483.4 3566.1H515M483.4 3639.5H515M615.4 3460.8V3483.2M615.4 3511.8V3534.2M599.6 3460.8H631.2M599.6 3534.2H631.2M731.5 3456.3V3478.7M731.5 3507.3V3529.7M715.7 3456.3H747.3M715.7 3529.7H747.3M1660.4 3255.1V3277.5M1660.4 3306.1V3328.5M1644.6 3255.1H1676.2M1644.6 3328.5H1676.2" stroke="#FF0000" stroke-width="3.0" fill="none"/>
<path d="M271.8 3863.3V3881M271.8 3916.5V3936.7M256 3863.3H287.6M256 3936.7H287.6M281.5 3812.9V3830.6M281.5 3866.1V3886.3M265.7 3812.9H297.3M265.7 3886.3H297.3M296 3702.3V3720M296 3755.5V3775.7M280.2 3702.3H311.8M280.2 3775.7H311.8M325.1 3673.3V3691M325.1 3726.5V3746.7M309.3 3673.3H340.9M309.3 3746.7H340.9M383.1 3609.6V3627.3M383.1 3662.8V3683M367.3 3609.6H398.9M367.3 3683H398.9M499.2 3415.4V3433.1M499.2 3468.6V3488.8M483.4 3415.4H515M483.4 3488.8H515M615.4 3490.3V3508M615.4 3543.5V3563.7M599.6 3490.3H631.2M599.6 3563.7H631.2M731.5 3453.3V3471M731.5 3506.5V3526.7M715.7 3453.3H747.3M715.7 3526.7H747.3M1660.4 3315.1V3332.8M1660.4 3368.3V3388.5M1644.6 3315.1H1676.2M1644.6 3388.5H1676.2" stroke="#0000FF" stroke-width="3.0" fill="none"/>
<path d="M271.8 3863.3V3883.5M271.8 3919V3936.7M256 3863.3H287.6M256 3936.7H287.6M281.5 3777.3V3797.5M281.5 3833V3850.7M265.7 3777.3H297.3M265.7 3850.7H297.3M296 3777.3V3797.5M296 3833V3850.7M280.2 3777.3H311.8M280.2 3850.7H311.8M325.1 3684.3V3704.5M325.1 3740V3757.7M309.3 3684.3H340.9M309.3 3757.7H340.9M383.1 3544.1V3564.3M383.1 3599.8V3617.5M367.3 3544.1H398.9M367.3 3617.5H398.9M499.2 3551.1V3571.3M499.2 3606.8V3624.5M483.4 3551.1H515M483.4 3624.5H515M615.4 3406.3V3426.5M615.4 3462V3479.7M599.6 3406.3H631.2M599.6 3479.7H631.2M731.5 3455V3475.2M731.5 3510.7V3528.4M715.7 3455H747.3M715.7 3528.4H747.3M1660.4 3486.5V3506.7M1660.4 3542.2V3559.9M1644.6 3486.5H1676.2M1644.6 3559.9H1676.2" stroke="#FF00FF" stroke-width="3.0" fill="none"/>
<path d="M271.8 3873.3V3892M271.8 3928V3946.7M256 3873.3H287.6M256 3946.7H287.6M281.5 3983.8V4002.5M281.5 4038.5V4057.2M265.7 3983.8H297.3M265.7 4057.2H297.3M296 3896.2V3914.9M296 3950.9V3969.6M280.2 3896.2H311.8M280.2 3969.6H311.8M325.1 3891.6V3910.3M325.1 3946.3V3965M309.3 3891.6H340.9M309.3 3965H340.9M383.1 3785.3V3804M383.1 3840V3858.7M367.3 3785.3H398.9M367.3 3858.7H398.9M499.2 3536.9V3555.6M499.2 3591.6V3610.3M483.4 3536.9H515M483.4 3610.3H515M615.4 3511V3529.7M615.4 3565.7V3584.4M599.6 3511H631.2M599.6 3584.4H631.2M731.5 3656.5V3675.2M731.5 3711.2V3729.9M715.7 3656.5H747.3M715.7 3729.9H747.3M1660.4 3694.3V3713M1660.4 3749V3767.7M1644.6 3694.3H1676.2M1644.6 3767.7H1676.2" stroke="#008000" stroke-width="3.0" fill="none"/>
</g>
<g font-family="Liberation Serif, Times New Roman, serif" font-size="63.3" fill="#000"><text x="217.7" y="1181.1" text-anchor="end">0.2</text><text x="217.7" y="908.5" text-anchor="end">0.4</text><text x="217.7" y="636" text-anchor="end">0.6</text><text x="217.7" y="363.4" text-anchor="end">0.8</text><text x="217.7" y="90.8" text-anchor="end">1.0</text><text x="217.7" y="2544.9" text-anchor="end">0.2</text><text x="217.7" y="2272.1" text-anchor="end">0.4</text><text x="217.7" y="1999.3" text-anchor="end">0.6</text><text x="217.7" y="1726.5" text-anchor="end">0.8</text><text x="217.7" y="1453.7" text-anchor="end">1.0</text><text x="217.7" y="4181.4" text-anchor="end">0.0</text><text x="217.7" y="3908.7" text-anchor="end">0.2</text><text x="217.7" y="3635.9" text-anchor="end">0.4</text><text x="217.7" y="3363.2" text-anchor="end">0.6</text><text x="217.7" y="3090.4" text-anchor="end">0.8</text><text x="217.7" y="2817.7" text-anchor="end">1.0</text><text x="1825.1" y="4180.9">0.0</text><text x="1825.1" y="3908.2">0.2</text><text x="1825.1" y="3635.4">0.4</text><text x="1825.1" y="3362.7">0.6</text><text x="1825.1" y="3089.9">0.8</text><text x="1825.1" y="2817.2">1.0</text><text x="267" y="4260.7" text-anchor="middle">0</text><text x="499.2" y="4260.7" text-anchor="middle">4</text><text x="731.5" y="4260.7" text-anchor="middle">8</text><text x="963.7" y="4260.7" text-anchor="middle">12</text><text x="1196" y="4260.7" text-anchor="middle">16</text><text x="1428.2" y="4260.7" text-anchor="middle">20</text><text x="1660.4" y="4260.7" text-anchor="middle">24</text></g>
<path d="M1171.5 665H1315" stroke="#000000" stroke-width="3.0"/><rect x="1230" y="652" width="26" height="26" fill="#000000"/><path d="M1171.5 744.5H1315" stroke="#FF0000" stroke-width="3.0"/><circle cx="1243" cy="744.5" r="14.3" fill="#FF0000"/><path d="M1171.5 822H1315" stroke="#0000FF" stroke-width="3.0"/><polygon points="1243,802.7 1260,831.7 1226,831.7" fill="#0000FF"/><path d="M1171.5 901.5H1315" stroke="#FF00FF" stroke-width="3.0"/><polygon points="1226,891.8 1260,891.8 1243,920.8" fill="#FF00FF"/><path d="M1171.5 980.4H1315" stroke="#008000" stroke-width="3.0"/><polygon points="1243,962.4 1261,980.4 1243,998.4 1225,980.4" fill="#008000"/><path d="M898.4 2955.8H950.8M989.1 2955.8H1041.5" stroke="#000000" stroke-width="3.0" stroke-dasharray="12.4 7.6"/><rect x="960" y="2945.1" width="21.5" height="21.5" fill="#fff" stroke="#000000" stroke-width="3.4"/><path d="M898.4 3035.1H950.8M989.1 3035.1H1041.5" stroke="#FF0000" stroke-width="3.0" stroke-dasharray="12.4 7.6"/><circle cx="970.8" cy="3035.1" r="12.2" fill="#fff" stroke="#FF0000" stroke-width="3.4"/><path d="M898.4 3112.9H950.8M989.1 3112.9H1041.5" stroke="#0000FF" stroke-width="3.0" stroke-dasharray="12.4 7.6"/><polygon points="970.8,3096.2 986,3121.2 955.5,3121.2" fill="#fff" stroke="#0000FF" stroke-width="3.4"/><path d="M1343.9 3031.1H1396.3M1432.8 3031.1H1485.2" stroke="#FF00FF" stroke-width="3.0" stroke-dasharray="12.4 7.6"/><polygon points="1401,3022.8 1431.5,3022.8 1416.2,3047.8" fill="#fff" stroke="#FF00FF" stroke-width="3.4"/><path d="M1343.9 3109.3H1396.3M1432.8 3109.3H1485.2" stroke="#008000" stroke-width="3.0" stroke-dasharray="12.4 7.6"/><polygon points="1416.2,3093.3 1432.2,3109.3 1416.2,3125.3 1400.2,3109.3" fill="#fff" stroke="#008000" stroke-width="3.4"/>
<g font-family="Liberation Serif, Times New Roman, serif" fill="#000"><text transform="matrix(0 -0.6113 0.6537 0 84.05 907.37)" font-size="100" font-style="italic">C</text><text transform="matrix(0 -0.3829 0.3925 0 105.61 863.40)" font-size="100" font-style="italic">PCM</text><text transform="matrix(-0.1397 -0.6443 0.8745 0.2530 102.52 799.93)" font-size="100" font-style="italic">/</text><text transform="matrix(0 -0.6403 0.6537 0 84.05 769.04)" font-size="100" font-style="italic">C</text><text transform="matrix(0 -0.3835 0.3914 0 105.53 727.30)" font-size="100" font-style="italic">PCM,0</text><text transform="matrix(0 -0.6403 0.6567 0 85.34 2268.64)" font-size="100" font-style="italic">C</text><text transform="matrix(0 -0.3705 0.4015 0 107.80 2228.33)" font-size="100" font-style="italic">H</text><text transform="matrix(0 -0.2750 0.2343 0 121.27 2199.80)" font-size="100" font-style="italic">2</text><text transform="matrix(0 -0.4354 0.4045 0 107.80 2188.18)" font-size="100" font-style="italic">O</text><text transform="matrix(0 -0.2750 0.2343 0 121.27 2157.70)" font-size="100" font-style="italic">2</text><text transform="matrix(0.0011 -0.5644 0.6274 0.1144 82.85 2152.05)" font-size="100" font-style="italic">/</text><text transform="matrix(0 -0.6306 0.6567 0 85.34 2131.38)" font-size="100" font-style="italic">C</text><text transform="matrix(0 -0.3846 0.4015 0 107.80 2089.92)" font-size="100" font-style="italic">H</text><text transform="matrix(0 -0.2771 0.2343 0 121.27 2060.30)" font-size="100" font-style="italic">2</text><text transform="matrix(0 -0.4262 0.4045 0 107.80 2050.93)" font-size="100" font-style="italic">O</text><text transform="matrix(0 -0.2449 0.1938 0 118.59 2023.00)" font-size="100" font-style="italic">2,</text><text transform="matrix(0 -0.3489 0.3897 0 107.42 2000.90)" font-size="100" font-style="italic">0</text><text transform="matrix(0 -0.6387 0.6612 0 93.54 3628.03)" font-size="100" font-style="italic">C</text><text transform="matrix(0 -0.3610 0.4000 0 114.70 3584.73)" font-size="100" font-style="italic">TOC</text><text transform="matrix(-0.0362 -0.5615 0.6287 0.0666 92.63 3511.55)" font-size="100" font-style="italic">/</text><text transform="matrix(0 -0.6387 0.6612 0 93.54 3494.63)" font-size="100" font-style="italic">C</text><text transform="matrix(0 -0.3808 0.3915 0 114.14 3452.17)" font-size="100" font-style="italic">TOC,0</text><text transform="matrix(0 -0.8274 0.7985 0 1978.40 3782.76)" font-size="100" font-style="italic">C</text><text transform="matrix(0 -0.4748 0.4851 0 2004.91 3731.92)" font-size="100" font-style="italic">TOC-TOC</text><text transform="matrix(0 -0.2861 0.2507 0 2021.95 3534.60)" font-size="100" font-style="italic">PCM</text><text transform="matrix(-0.0893 -0.5902 0.7278 0.1202 1975.07 3476.76)" font-size="100" font-style="italic">/</text><text transform="matrix(0 -0.7935 0.7985 0 1978.40 3456.56)" font-size="100" font-style="italic">C</text><text transform="matrix(0 -0.4677 0.4598 0 2003.24 3403.77)" font-size="100" font-style="italic">TOC,0</text><text transform="matrix(0.6318 0 0 0.6380 745.54 4343.60)" font-size="100" >Time of reaction, <tspan font-style="italic">t</tspan> (h)</text><text transform="matrix(0.7787 0 0 0.7589 302.79 1355.06)" font-size="100" font-weight="bold">(a)</text><text transform="matrix(0.7728 0 0 0.7544 298.81 2718.96)" font-size="100" font-weight="bold">(b)</text><text transform="matrix(0.7767 0 0 0.7667 302.79 4075.60)" font-size="100" font-weight="bold">(c)</text><text transform="matrix(0.634 0 0 0.634 1329.8 686.1)" font-size="100">Non-catalytic</text><text transform="matrix(0.634 0 0 0.634 1329.8 765.6)" font-size="100">AK-PILC</text><text transform="matrix(0.634 0 0 0.634 1329.8 843.1)" font-size="100">AS-PILC</text><text transform="matrix(0.634 0 0 0.634 1329.8 922.6)" font-size="100">KA-PILC</text><text transform="matrix(0.634 0 0 0.634 1329.8 1001.5)" font-size="100">KO-PILC</text><text transform="matrix(0.628 0 0 0.628 1057.3 2977.1)" font-size="100">Non-catalytic</text><text transform="matrix(0.628 0 0 0.628 1057.3 3056)" font-size="100">AK-PILC</text><text transform="matrix(0.628 0 0 0.628 1057.3 3134.9)" font-size="100">AS-PILC</text><text transform="matrix(0.628 0 0 0.628 1503.5 3050.6)" font-size="100">KA-PILC</text><text transform="matrix(0.628 0 0 0.628 1503.5 3129.5)" font-size="100">KO-PILC</text></g>
<path d="M1312.8 3977.5V3907.1H1550" stroke="#000" stroke-width="3.0" fill="none" stroke-dasharray="12.4 7.6"/>
<path d="M1572.1 3907.1L1532.6 3887.8L1545 3907.1L1532.6 3926.8Z" fill="#000"/>
</svg>
</body></html>
